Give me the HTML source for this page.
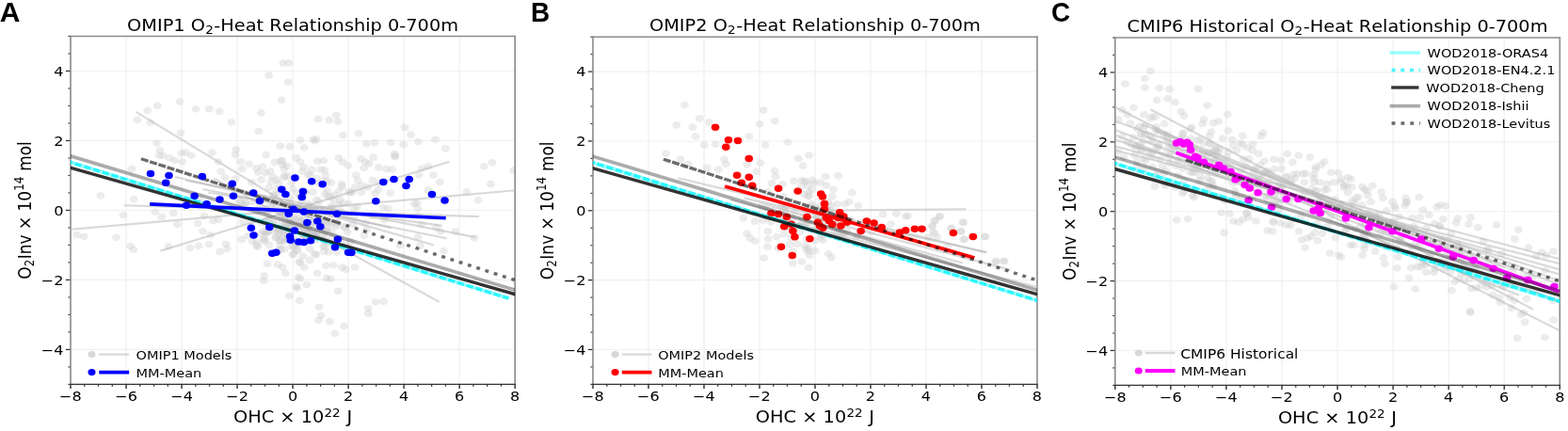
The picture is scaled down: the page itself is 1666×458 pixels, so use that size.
<!DOCTYPE html><html><head><meta charset="utf-8"><style>
html,body{margin:0;padding:0;background:#fff;width:1666px;height:458px;overflow:hidden}
#w{position:relative;width:1666px;height:458px}
svg{display:block}
.pl{position:absolute;font-family:"Liberation Sans",Arial,sans-serif;font-weight:bold;font-size:30.0px;line-height:1;color:#000;transform:scaleX(0.93);transform-origin:0 0}
</style></head><body><div id="w"><svg width="1666" height="458" preserveAspectRatio="none" viewBox="0 0 1033.89 323.99" version="1.1">
<defs>
<style type="text/css">*{stroke-linejoin: round; stroke-linecap: butt}</style>
</defs>
<g id="figure_1">
<g id="patch_1">
<path d="M 0 323.99 
L 1033.89 323.99 
L 1033.89 0 
L 0 0 
z
" style="fill: #ffffff"/>
</g>
<g id="axes_1">
<g id="patch_2">
<path d="M 46.54 288.90 
L 339.58 288.90 
L 339.58 27.23 
L 46.54 27.23 
z
" style="fill: #ffffff"/>
</g>
<g id="matplotlib.axis_1">
<g id="xtick_1">
<g id="line2d_1">
<path d="M 46.54 288.90 
L 46.54 27.23 
" clip-path="url(#p1c36a8804c)" style="fill: none; stroke: #f0f0f0; stroke-width: 0.8; stroke-linecap: square"/>
</g>
<g id="line2d_2">
<g>
<path d="M 46.54 288.91 L 46.54 292.11" style="fill: #333333; stroke: #333333; stroke-width: 0.9"/>
</g>
</g>
<g id="text_1">
<text style="font-size: 10px; font-family: 'DejaVu Sans', sans-serif; text-anchor: middle" x="46.54" y="301.70" transform="rotate(-0 46.54 301.70)">−8</text>
</g>
</g>
<g id="xtick_2">
<g id="line2d_3">
<path d="M 83.17 288.90 
L 83.17 27.23 
" clip-path="url(#p1c36a8804c)" style="fill: none; stroke: #f0f0f0; stroke-width: 0.8; stroke-linecap: square"/>
</g>
<g id="line2d_4">
<g>
<path d="M 83.17 288.91 L 83.17 292.11" style="fill: #333333; stroke: #333333; stroke-width: 0.9"/>
</g>
</g>
<g id="text_2">
<text style="font-size: 10px; font-family: 'DejaVu Sans', sans-serif; text-anchor: middle" x="83.17" y="301.70" transform="rotate(-0 83.17 301.70)">−6</text>
</g>
</g>
<g id="xtick_3">
<g id="line2d_5">
<path d="M 119.80 288.90 
L 119.80 27.23 
" clip-path="url(#p1c36a8804c)" style="fill: none; stroke: #f0f0f0; stroke-width: 0.8; stroke-linecap: square"/>
</g>
<g id="line2d_6">
<g>
<path d="M 119.8 288.91 L 119.8 292.11" style="fill: #333333; stroke: #333333; stroke-width: 0.9"/>
</g>
</g>
<g id="text_3">
<text style="font-size: 10px; font-family: 'DejaVu Sans', sans-serif; text-anchor: middle" x="119.80" y="301.70" transform="rotate(-0 119.80 301.70)">−4</text>
</g>
</g>
<g id="xtick_4">
<g id="line2d_7">
<path d="M 156.43 288.90 
L 156.43 27.23 
" clip-path="url(#p1c36a8804c)" style="fill: none; stroke: #f0f0f0; stroke-width: 0.8; stroke-linecap: square"/>
</g>
<g id="line2d_8">
<g>
<path d="M 156.43 288.91 L 156.43 292.11" style="fill: #333333; stroke: #333333; stroke-width: 0.9"/>
</g>
</g>
<g id="text_4">
<text style="font-size: 10px; font-family: 'DejaVu Sans', sans-serif; text-anchor: middle" x="156.43" y="301.70" transform="rotate(-0 156.43 301.70)">−2</text>
</g>
</g>
<g id="xtick_5">
<g id="line2d_9">
<path d="M 193.06 288.90 
L 193.06 27.23 
" clip-path="url(#p1c36a8804c)" style="fill: none; stroke: #f0f0f0; stroke-width: 0.8; stroke-linecap: square"/>
</g>
<g id="line2d_10">
<g>
<path d="M 193.06 288.91 L 193.06 292.11" style="fill: #333333; stroke: #333333; stroke-width: 0.9"/>
</g>
</g>
<g id="text_5">
<text style="font-size: 10px; font-family: 'DejaVu Sans', sans-serif; text-anchor: middle" x="193.06" y="301.70" transform="rotate(-0 193.06 301.70)">0</text>
</g>
</g>
<g id="xtick_6">
<g id="line2d_11">
<path d="M 229.69 288.90 
L 229.69 27.23 
" clip-path="url(#p1c36a8804c)" style="fill: none; stroke: #f0f0f0; stroke-width: 0.8; stroke-linecap: square"/>
</g>
<g id="line2d_12">
<g>
<path d="M 229.69 288.91 L 229.69 292.11" style="fill: #333333; stroke: #333333; stroke-width: 0.9"/>
</g>
</g>
<g id="text_6">
<text style="font-size: 10px; font-family: 'DejaVu Sans', sans-serif; text-anchor: middle" x="229.69" y="301.70" transform="rotate(-0 229.69 301.70)">2</text>
</g>
</g>
<g id="xtick_7">
<g id="line2d_13">
<path d="M 266.32 288.90 
L 266.32 27.23 
" clip-path="url(#p1c36a8804c)" style="fill: none; stroke: #f0f0f0; stroke-width: 0.8; stroke-linecap: square"/>
</g>
<g id="line2d_14">
<g>
<path d="M 266.32 288.91 L 266.32 292.11" style="fill: #333333; stroke: #333333; stroke-width: 0.9"/>
</g>
</g>
<g id="text_7">
<text style="font-size: 10px; font-family: 'DejaVu Sans', sans-serif; text-anchor: middle" x="266.32" y="301.70" transform="rotate(-0 266.32 301.70)">4</text>
</g>
</g>
<g id="xtick_8">
<g id="line2d_15">
<path d="M 302.95 288.90 
L 302.95 27.23 
" clip-path="url(#p1c36a8804c)" style="fill: none; stroke: #f0f0f0; stroke-width: 0.8; stroke-linecap: square"/>
</g>
<g id="line2d_16">
<g>
<path d="M 302.95 288.91 L 302.95 292.11" style="fill: #333333; stroke: #333333; stroke-width: 0.9"/>
</g>
</g>
<g id="text_8">
<text style="font-size: 10px; font-family: 'DejaVu Sans', sans-serif; text-anchor: middle" x="302.95" y="301.70" transform="rotate(-0 302.95 301.70)">6</text>
</g>
</g>
<g id="xtick_9">
<g id="line2d_17">
<path d="M 339.58 288.90 
L 339.58 27.23 
" clip-path="url(#p1c36a8804c)" style="fill: none; stroke: #f0f0f0; stroke-width: 0.8; stroke-linecap: square"/>
</g>
<g id="line2d_18">
<g>
<path d="M 339.58 288.91 L 339.58 292.11" style="fill: #333333; stroke: #333333; stroke-width: 0.9"/>
</g>
</g>
<g id="text_9">
<text style="font-size: 10px; font-family: 'DejaVu Sans', sans-serif; text-anchor: middle" x="339.58" y="301.70" transform="rotate(-0 339.58 301.70)">8</text>
</g>
</g>
<g id="xtick_10">
<g id="line2d_19">
<g>
<path d="M 55.7 288.91 L 55.7 290.51" style="fill: #333333; stroke: #333333; stroke-width: 0.8"/>
</g>
</g>
</g>
<g id="xtick_11">
<g id="line2d_20">
<g>
<path d="M 64.86 288.91 L 64.86 290.51" style="fill: #333333; stroke: #333333; stroke-width: 0.8"/>
</g>
</g>
</g>
<g id="xtick_12">
<g id="line2d_21">
<g>
<path d="M 74.02 288.91 L 74.02 290.51" style="fill: #333333; stroke: #333333; stroke-width: 0.8"/>
</g>
</g>
</g>
<g id="xtick_13">
<g id="line2d_22">
<g>
<path d="M 92.33 288.91 L 92.33 290.51" style="fill: #333333; stroke: #333333; stroke-width: 0.8"/>
</g>
</g>
</g>
<g id="xtick_14">
<g id="line2d_23">
<g>
<path d="M 101.49 288.91 L 101.49 290.51" style="fill: #333333; stroke: #333333; stroke-width: 0.8"/>
</g>
</g>
</g>
<g id="xtick_15">
<g id="line2d_24">
<g>
<path d="M 110.65 288.91 L 110.65 290.51" style="fill: #333333; stroke: #333333; stroke-width: 0.8"/>
</g>
</g>
</g>
<g id="xtick_16">
<g id="line2d_25">
<g>
<path d="M 128.96 288.91 L 128.96 290.51" style="fill: #333333; stroke: #333333; stroke-width: 0.8"/>
</g>
</g>
</g>
<g id="xtick_17">
<g id="line2d_26">
<g>
<path d="M 138.12 288.91 L 138.12 290.51" style="fill: #333333; stroke: #333333; stroke-width: 0.8"/>
</g>
</g>
</g>
<g id="xtick_18">
<g id="line2d_27">
<g>
<path d="M 147.28 288.91 L 147.28 290.51" style="fill: #333333; stroke: #333333; stroke-width: 0.8"/>
</g>
</g>
</g>
<g id="xtick_19">
<g id="line2d_28">
<g>
<path d="M 165.59 288.91 L 165.59 290.51" style="fill: #333333; stroke: #333333; stroke-width: 0.8"/>
</g>
</g>
</g>
<g id="xtick_20">
<g id="line2d_29">
<g>
<path d="M 174.75 288.91 L 174.75 290.51" style="fill: #333333; stroke: #333333; stroke-width: 0.8"/>
</g>
</g>
</g>
<g id="xtick_21">
<g id="line2d_30">
<g>
<path d="M 183.91 288.91 L 183.91 290.51" style="fill: #333333; stroke: #333333; stroke-width: 0.8"/>
</g>
</g>
</g>
<g id="xtick_22">
<g id="line2d_31">
<g>
<path d="M 202.22 288.91 L 202.22 290.51" style="fill: #333333; stroke: #333333; stroke-width: 0.8"/>
</g>
</g>
</g>
<g id="xtick_23">
<g id="line2d_32">
<g>
<path d="M 211.38 288.91 L 211.38 290.51" style="fill: #333333; stroke: #333333; stroke-width: 0.8"/>
</g>
</g>
</g>
<g id="xtick_24">
<g id="line2d_33">
<g>
<path d="M 220.54 288.91 L 220.54 290.51" style="fill: #333333; stroke: #333333; stroke-width: 0.8"/>
</g>
</g>
</g>
<g id="xtick_25">
<g id="line2d_34">
<g>
<path d="M 238.85 288.91 L 238.85 290.51" style="fill: #333333; stroke: #333333; stroke-width: 0.8"/>
</g>
</g>
</g>
<g id="xtick_26">
<g id="line2d_35">
<g>
<path d="M 248.01 288.91 L 248.01 290.51" style="fill: #333333; stroke: #333333; stroke-width: 0.8"/>
</g>
</g>
</g>
<g id="xtick_27">
<g id="line2d_36">
<g>
<path d="M 257.17 288.91 L 257.17 290.51" style="fill: #333333; stroke: #333333; stroke-width: 0.8"/>
</g>
</g>
</g>
<g id="xtick_28">
<g id="line2d_37">
<g>
<path d="M 275.48 288.91 L 275.48 290.51" style="fill: #333333; stroke: #333333; stroke-width: 0.8"/>
</g>
</g>
</g>
<g id="xtick_29">
<g id="line2d_38">
<g>
<path d="M 284.64 288.91 L 284.64 290.51" style="fill: #333333; stroke: #333333; stroke-width: 0.8"/>
</g>
</g>
</g>
<g id="xtick_30">
<g id="line2d_39">
<g>
<path d="M 293.8 288.91 L 293.8 290.51" style="fill: #333333; stroke: #333333; stroke-width: 0.8"/>
</g>
</g>
</g>
<g id="xtick_31">
<g id="line2d_40">
<g>
<path d="M 312.11 288.91 L 312.11 290.51" style="fill: #333333; stroke: #333333; stroke-width: 0.8"/>
</g>
</g>
</g>
<g id="xtick_32">
<g id="line2d_41">
<g>
<path d="M 321.27 288.91 L 321.27 290.51" style="fill: #333333; stroke: #333333; stroke-width: 0.8"/>
</g>
</g>
</g>
<g id="xtick_33">
<g id="line2d_42">
<g>
<path d="M 330.43 288.91 L 330.43 290.51" style="fill: #333333; stroke: #333333; stroke-width: 0.8"/>
</g>
</g>
</g>
<g id="text_10">
<g transform="translate(153.88 318.00)">
<text><tspan x="0 9.45 18.47 26.85 30.66 40.72 44.53 52.17" y="-0.17" style="font-size: 12px; font-family: 'DejaVu Sans', sans-serif">OHC × 10</tspan><tspan x="59.92 65.26" y="-4.77" style="font-size: 8.4px; font-family: 'DejaVu Sans', sans-serif">22</tspan><tspan x="70.93 74.75" y="-0.17" style="font-size: 12px; font-family: 'DejaVu Sans', sans-serif"> J</tspan></text>
</g>
</g>
</g>
<g id="matplotlib.axis_2">
<g id="ytick_1">
<g id="line2d_43">
<path d="M 46.54 262.73 
L 339.58 262.73 
" clip-path="url(#p1c36a8804c)" style="fill: none; stroke: #f0f0f0; stroke-width: 0.8; stroke-linecap: square"/>
</g>
<g id="line2d_44">
<g>
<path d="M 46.54 262.74 L 43.34 262.74" style="fill: #333333; stroke: #333333; stroke-width: 0.9"/>
</g>
</g>
<g id="text_11">
<text style="font-size: 10px; font-family: 'DejaVu Sans', sans-serif; text-anchor: end" x="41.84" y="266.53" transform="rotate(-0 41.84 266.53)">−4</text>
</g>
</g>
<g id="ytick_2">
<g id="line2d_45">
<path d="M 46.54 210.40 
L 339.58 210.40 
" clip-path="url(#p1c36a8804c)" style="fill: none; stroke: #f0f0f0; stroke-width: 0.8; stroke-linecap: square"/>
</g>
<g id="line2d_46">
<g>
<path d="M 46.54 210.4 L 43.34 210.4" style="fill: #333333; stroke: #333333; stroke-width: 0.9"/>
</g>
</g>
<g id="text_12">
<text style="font-size: 10px; font-family: 'DejaVu Sans', sans-serif; text-anchor: end" x="41.84" y="214.20" transform="rotate(-0 41.84 214.20)">−2</text>
</g>
</g>
<g id="ytick_3">
<g id="line2d_47">
<path d="M 46.54 158.07 
L 339.58 158.07 
" clip-path="url(#p1c36a8804c)" style="fill: none; stroke: #f0f0f0; stroke-width: 0.8; stroke-linecap: square"/>
</g>
<g id="line2d_48">
<g>
<path d="M 46.54 158.07 L 43.34 158.07" style="fill: #333333; stroke: #333333; stroke-width: 0.9"/>
</g>
</g>
<g id="text_13">
<text style="font-size: 10px; font-family: 'DejaVu Sans', sans-serif; text-anchor: end" x="41.84" y="161.86" transform="rotate(-0 41.84 161.86)">0</text>
</g>
</g>
<g id="ytick_4">
<g id="line2d_49">
<path d="M 46.54 105.73 
L 339.58 105.73 
" clip-path="url(#p1c36a8804c)" style="fill: none; stroke: #f0f0f0; stroke-width: 0.8; stroke-linecap: square"/>
</g>
<g id="line2d_50">
<g>
<path d="M 46.54 105.74 L 43.34 105.74" style="fill: #333333; stroke: #333333; stroke-width: 0.9"/>
</g>
</g>
<g id="text_14">
<text style="font-size: 10px; font-family: 'DejaVu Sans', sans-serif; text-anchor: end" x="41.84" y="109.53" transform="rotate(-0 41.84 109.53)">2</text>
</g>
</g>
<g id="ytick_5">
<g id="line2d_51">
<path d="M 46.54 53.40 
L 339.58 53.40 
" clip-path="url(#p1c36a8804c)" style="fill: none; stroke: #f0f0f0; stroke-width: 0.8; stroke-linecap: square"/>
</g>
<g id="line2d_52">
<g>
<path d="M 46.54 53.4 L 43.34 53.4" style="fill: #333333; stroke: #333333; stroke-width: 0.9"/>
</g>
</g>
<g id="text_15">
<text style="font-size: 10px; font-family: 'DejaVu Sans', sans-serif; text-anchor: end" x="41.84" y="57.20" transform="rotate(-0 41.84 57.20)">4</text>
</g>
</g>
<g id="ytick_6">
<g id="line2d_53">
<g>
<path d="M 46.54 288.91 L 44.94 288.91" style="fill: #333333; stroke: #333333; stroke-width: 0.8"/>
</g>
</g>
</g>
<g id="ytick_7">
<g id="line2d_54">
<g>
<path d="M 46.54 275.82 L 44.94 275.82" style="fill: #333333; stroke: #333333; stroke-width: 0.8"/>
</g>
</g>
</g>
<g id="ytick_8">
<g id="line2d_55">
<g>
<path d="M 46.54 249.65 L 44.94 249.65" style="fill: #333333; stroke: #333333; stroke-width: 0.8"/>
</g>
</g>
</g>
<g id="ytick_9">
<g id="line2d_56">
<g>
<path d="M 46.54 236.57 L 44.94 236.57" style="fill: #333333; stroke: #333333; stroke-width: 0.8"/>
</g>
</g>
</g>
<g id="ytick_10">
<g id="line2d_57">
<g>
<path d="M 46.54 223.49 L 44.94 223.49" style="fill: #333333; stroke: #333333; stroke-width: 0.8"/>
</g>
</g>
</g>
<g id="ytick_11">
<g id="line2d_58">
<g>
<path d="M 46.54 197.32 L 44.94 197.32" style="fill: #333333; stroke: #333333; stroke-width: 0.8"/>
</g>
</g>
</g>
<g id="ytick_12">
<g id="line2d_59">
<g>
<path d="M 46.54 184.24 L 44.94 184.24" style="fill: #333333; stroke: #333333; stroke-width: 0.8"/>
</g>
</g>
</g>
<g id="ytick_13">
<g id="line2d_60">
<g>
<path d="M 46.54 171.15 L 44.94 171.15" style="fill: #333333; stroke: #333333; stroke-width: 0.8"/>
</g>
</g>
</g>
<g id="ytick_14">
<g id="line2d_61">
<g>
<path d="M 46.54 144.99 L 44.94 144.99" style="fill: #333333; stroke: #333333; stroke-width: 0.8"/>
</g>
</g>
</g>
<g id="ytick_15">
<g id="line2d_62">
<g>
<path d="M 46.54 131.9 L 44.94 131.9" style="fill: #333333; stroke: #333333; stroke-width: 0.8"/>
</g>
</g>
</g>
<g id="ytick_16">
<g id="line2d_63">
<g>
<path d="M 46.54 118.82 L 44.94 118.82" style="fill: #333333; stroke: #333333; stroke-width: 0.8"/>
</g>
</g>
</g>
<g id="ytick_17">
<g id="line2d_64">
<g>
<path d="M 46.54 92.65 L 44.94 92.65" style="fill: #333333; stroke: #333333; stroke-width: 0.8"/>
</g>
</g>
</g>
<g id="ytick_18">
<g id="line2d_65">
<g>
<path d="M 46.54 79.57 L 44.94 79.57" style="fill: #333333; stroke: #333333; stroke-width: 0.8"/>
</g>
</g>
</g>
<g id="ytick_19">
<g id="line2d_66">
<g>
<path d="M 46.54 66.49 L 44.94 66.49" style="fill: #333333; stroke: #333333; stroke-width: 0.8"/>
</g>
</g>
</g>
<g id="ytick_20">
<g id="line2d_67">
<g>
<path d="M 46.54 40.32 L 44.94 40.32" style="fill: #333333; stroke: #333333; stroke-width: 0.8"/>
</g>
</g>
</g>
<g id="ytick_21">
<g id="line2d_68">
<g>
<path d="M 46.54 27.24 L 44.94 27.24" style="fill: #333333; stroke: #333333; stroke-width: 0.8"/>
</g>
</g>
</g>
<g id="text_16">
<g transform="translate(20.70 209.97) rotate(-90)">
<text><tspan x="0" y="-0.28" style="font-size: 12px; font-family: 'DejaVu Sans', sans-serif">O</tspan><tspan x="9.56" y="1.69" style="font-size: 8.4px; font-family: 'DejaVu Sans', sans-serif">2</tspan><tspan x="15.23 18.77 26.38 33.48 37.29 47.35 51.16 58.8" y="-0.28" style="font-size: 12px; font-family: 'DejaVu Sans', sans-serif">Inv × 10</tspan><tspan x="66.55 71.89" y="-4.88" style="font-size: 8.4px; font-family: 'DejaVu Sans', sans-serif">14</tspan><tspan x="77.56 81.38 93.07 100.41" y="-0.28" style="font-size: 12px; font-family: 'DejaVu Sans', sans-serif"> mol</tspan></text>
</g>
</g>
</g>
<g id="PathCollection_1">
<g clip-path="url(#p1c36a8804c)">
<circle cx="90.5" cy="90.04" r="2.74" style="fill: #cccccc; fill-opacity: 0.38"/>
</g>
<g clip-path="url(#p1c36a8804c)">
<circle cx="97.28" cy="83.23" r="2.74" style="fill: #cccccc; fill-opacity: 0.38"/>
</g>
<g clip-path="url(#p1c36a8804c)">
<circle cx="103.87" cy="79.57" r="2.74" style="fill: #cccccc; fill-opacity: 0.38"/>
</g>
<g clip-path="url(#p1c36a8804c)">
<circle cx="99.11" cy="92.13" r="2.74" style="fill: #cccccc; fill-opacity: 0.38"/>
</g>
<g clip-path="url(#p1c36a8804c)">
<circle cx="118.52" cy="76.43" r="2.74" style="fill: #cccccc; fill-opacity: 0.38"/>
</g>
<g clip-path="url(#p1c36a8804c)">
<circle cx="129.14" cy="81.92" r="2.74" style="fill: #cccccc; fill-opacity: 0.38"/>
</g>
<g clip-path="url(#p1c36a8804c)">
<circle cx="137.94" cy="81.92" r="2.74" style="fill: #cccccc; fill-opacity: 0.38"/>
</g>
<g clip-path="url(#p1c36a8804c)">
<circle cx="144.71" cy="83.76" r="2.74" style="fill: #cccccc; fill-opacity: 0.38"/>
</g>
<g clip-path="url(#p1c36a8804c)">
<circle cx="119.25" cy="99.98" r="2.74" style="fill: #cccccc; fill-opacity: 0.38"/>
</g>
<g clip-path="url(#p1c36a8804c)">
<circle cx="103.32" cy="107.57" r="2.74" style="fill: #cccccc; fill-opacity: 0.38"/>
</g>
<g clip-path="url(#p1c36a8804c)">
<circle cx="105.52" cy="113.06" r="2.74" style="fill: #cccccc; fill-opacity: 0.38"/>
</g>
<g clip-path="url(#p1c36a8804c)">
<circle cx="119.62" cy="115.16" r="2.74" style="fill: #cccccc; fill-opacity: 0.38"/>
</g>
<g clip-path="url(#p1c36a8804c)">
<circle cx="122.18" cy="114.63" r="2.74" style="fill: #cccccc; fill-opacity: 0.38"/>
</g>
<g clip-path="url(#p1c36a8804c)">
<circle cx="139.95" cy="114.63" r="2.74" style="fill: #cccccc; fill-opacity: 0.38"/>
</g>
<g clip-path="url(#p1c36a8804c)">
<circle cx="186.65" cy="47.38" r="2.74" style="fill: #cccccc; fill-opacity: 0.38"/>
</g>
<g clip-path="url(#p1c36a8804c)">
<circle cx="190.32" cy="47.38" r="2.74" style="fill: #cccccc; fill-opacity: 0.38"/>
</g>
<g clip-path="url(#p1c36a8804c)">
<circle cx="177.31" cy="56.54" r="2.74" style="fill: #cccccc; fill-opacity: 0.38"/>
</g>
<g clip-path="url(#p1c36a8804c)">
<circle cx="189.95" cy="61.78" r="2.74" style="fill: #cccccc; fill-opacity: 0.38"/>
</g>
<g clip-path="url(#p1c36a8804c)">
<circle cx="185.55" cy="75.12" r="2.74" style="fill: #cccccc; fill-opacity: 0.38"/>
</g>
<g clip-path="url(#p1c36a8804c)">
<circle cx="172.18" cy="84.8" r="2.74" style="fill: #cccccc; fill-opacity: 0.38"/>
</g>
<g clip-path="url(#p1c36a8804c)">
<circle cx="152.59" cy="91.87" r="2.74" style="fill: #cccccc; fill-opacity: 0.38"/>
</g>
<g clip-path="url(#p1c36a8804c)">
<circle cx="170.54" cy="98.67" r="2.74" style="fill: #cccccc; fill-opacity: 0.38"/>
</g>
<g clip-path="url(#p1c36a8804c)">
<circle cx="209.91" cy="89.51" r="2.74" style="fill: #cccccc; fill-opacity: 0.38"/>
</g>
<g clip-path="url(#p1c36a8804c)">
<circle cx="217.06" cy="90.3" r="2.74" style="fill: #cccccc; fill-opacity: 0.38"/>
</g>
<g clip-path="url(#p1c36a8804c)">
<circle cx="221.82" cy="86.63" r="2.74" style="fill: #cccccc; fill-opacity: 0.38"/>
</g>
<g clip-path="url(#p1c36a8804c)">
<circle cx="222.73" cy="91.34" r="2.74" style="fill: #cccccc; fill-opacity: 0.38"/>
</g>
<g clip-path="url(#p1c36a8804c)">
<circle cx="236.47" cy="100.24" r="2.74" style="fill: #cccccc; fill-opacity: 0.38"/>
</g>
<g clip-path="url(#p1c36a8804c)">
<circle cx="198.01" cy="105.47" r="2.74" style="fill: #cccccc; fill-opacity: 0.38"/>
</g>
<g clip-path="url(#p1c36a8804c)">
<circle cx="206.43" cy="104.95" r="2.74" style="fill: #cccccc; fill-opacity: 0.38"/>
</g>
<g clip-path="url(#p1c36a8804c)">
<circle cx="208.63" cy="104.43" r="2.74" style="fill: #cccccc; fill-opacity: 0.38"/>
</g>
<g clip-path="url(#p1c36a8804c)">
<circle cx="207.72" cy="106" r="2.74" style="fill: #cccccc; fill-opacity: 0.38"/>
</g>
<g clip-path="url(#p1c36a8804c)">
<circle cx="191.05" cy="110.18" r="2.74" style="fill: #cccccc; fill-opacity: 0.38"/>
</g>
<g clip-path="url(#p1c36a8804c)">
<circle cx="200.57" cy="110.97" r="2.74" style="fill: #cccccc; fill-opacity: 0.38"/>
</g>
<g clip-path="url(#p1c36a8804c)">
<circle cx="155.52" cy="112.54" r="2.74" style="fill: #cccccc; fill-opacity: 0.38"/>
</g>
<g clip-path="url(#p1c36a8804c)">
<circle cx="246.91" cy="107.31" r="2.74" style="fill: #cccccc; fill-opacity: 0.38"/>
</g>
<g clip-path="url(#p1c36a8804c)">
<circle cx="257.72" cy="107.04" r="2.74" style="fill: #cccccc; fill-opacity: 0.38"/>
</g>
<g clip-path="url(#p1c36a8804c)">
<circle cx="265.96" cy="108.61" r="2.74" style="fill: #cccccc; fill-opacity: 0.38"/>
</g>
<g clip-path="url(#p1c36a8804c)">
<circle cx="270.9" cy="101.29" r="2.74" style="fill: #cccccc; fill-opacity: 0.38"/>
</g>
<g clip-path="url(#p1c36a8804c)">
<circle cx="275.66" cy="106.52" r="2.74" style="fill: #cccccc; fill-opacity: 0.38"/>
</g>
<g clip-path="url(#p1c36a8804c)">
<circle cx="287.02" cy="104.95" r="2.74" style="fill: #cccccc; fill-opacity: 0.38"/>
</g>
<g clip-path="url(#p1c36a8804c)">
<circle cx="293.8" cy="111.75" r="2.74" style="fill: #cccccc; fill-opacity: 0.38"/>
</g>
<g clip-path="url(#p1c36a8804c)">
<circle cx="66.32" cy="147.08" r="2.74" style="fill: #cccccc; fill-opacity: 0.38"/>
</g>
<g clip-path="url(#p1c36a8804c)">
<circle cx="88.12" cy="149.7" r="2.74" style="fill: #cccccc; fill-opacity: 0.38"/>
</g>
<g clip-path="url(#p1c36a8804c)">
<circle cx="86.84" cy="126.93" r="2.74" style="fill: #cccccc; fill-opacity: 0.38"/>
</g>
<g clip-path="url(#p1c36a8804c)">
<circle cx="81.16" cy="161.73" r="2.74" style="fill: #cccccc; fill-opacity: 0.38"/>
</g>
<g clip-path="url(#p1c36a8804c)">
<circle cx="102.4" cy="159.38" r="2.74" style="fill: #cccccc; fill-opacity: 0.38"/>
</g>
<g clip-path="url(#p1c36a8804c)">
<circle cx="106.62" cy="163.04" r="2.74" style="fill: #cccccc; fill-opacity: 0.38"/>
</g>
<g clip-path="url(#p1c36a8804c)">
<circle cx="114.31" cy="160.16" r="2.74" style="fill: #cccccc; fill-opacity: 0.38"/>
</g>
<g clip-path="url(#p1c36a8804c)">
<circle cx="116.87" cy="168.8" r="2.74" style="fill: #cccccc; fill-opacity: 0.38"/>
</g>
<g clip-path="url(#p1c36a8804c)">
<circle cx="130.43" cy="168.01" r="2.74" style="fill: #cccccc; fill-opacity: 0.38"/>
</g>
<g clip-path="url(#p1c36a8804c)">
<circle cx="133.72" cy="173.77" r="2.74" style="fill: #cccccc; fill-opacity: 0.38"/>
</g>
<g clip-path="url(#p1c36a8804c)">
<circle cx="138.85" cy="176.65" r="2.74" style="fill: #cccccc; fill-opacity: 0.38"/>
</g>
<g clip-path="url(#p1c36a8804c)">
<circle cx="50.76" cy="176.65" r="2.74" style="fill: #cccccc; fill-opacity: 0.38"/>
</g>
<g clip-path="url(#p1c36a8804c)">
<circle cx="55.33" cy="177.96" r="2.74" style="fill: #cccccc; fill-opacity: 0.38"/>
</g>
<g clip-path="url(#p1c36a8804c)">
<circle cx="76.76" cy="178.48" r="2.74" style="fill: #cccccc; fill-opacity: 0.38"/>
</g>
<g clip-path="url(#p1c36a8804c)">
<circle cx="85.92" cy="185.02" r="2.74" style="fill: #cccccc; fill-opacity: 0.38"/>
</g>
<g clip-path="url(#p1c36a8804c)">
<circle cx="88.12" cy="187.64" r="2.74" style="fill: #cccccc; fill-opacity: 0.38"/>
</g>
<g clip-path="url(#p1c36a8804c)">
<circle cx="111.01" cy="185.28" r="2.74" style="fill: #cccccc; fill-opacity: 0.38"/>
</g>
<g clip-path="url(#p1c36a8804c)">
<circle cx="125.3" cy="186.33" r="2.74" style="fill: #cccccc; fill-opacity: 0.38"/>
</g>
<g clip-path="url(#p1c36a8804c)">
<circle cx="130.98" cy="184.76" r="2.74" style="fill: #cccccc; fill-opacity: 0.38"/>
</g>
<g clip-path="url(#p1c36a8804c)">
<circle cx="137.75" cy="183.71" r="2.74" style="fill: #cccccc; fill-opacity: 0.38"/>
</g>
<g clip-path="url(#p1c36a8804c)">
<circle cx="144.89" cy="189.21" r="2.74" style="fill: #cccccc; fill-opacity: 0.38"/>
</g>
<g clip-path="url(#p1c36a8804c)">
<circle cx="104.97" cy="116.73" r="2.74" style="fill: #cccccc; fill-opacity: 0.38"/>
</g>
<g clip-path="url(#p1c36a8804c)">
<circle cx="107.53" cy="117.25" r="2.74" style="fill: #cccccc; fill-opacity: 0.38"/>
</g>
<g clip-path="url(#p1c36a8804c)">
<circle cx="111.74" cy="118.82" r="2.74" style="fill: #cccccc; fill-opacity: 0.38"/>
</g>
<g clip-path="url(#p1c36a8804c)">
<circle cx="115.22" cy="120.65" r="2.74" style="fill: #cccccc; fill-opacity: 0.38"/>
</g>
<g clip-path="url(#p1c36a8804c)">
<circle cx="120.17" cy="121.7" r="2.74" style="fill: #cccccc; fill-opacity: 0.38"/>
</g>
<g clip-path="url(#p1c36a8804c)">
<circle cx="126.21" cy="116.73" r="2.74" style="fill: #cccccc; fill-opacity: 0.38"/>
</g>
<g clip-path="url(#p1c36a8804c)">
<circle cx="143.98" cy="121.7" r="2.74" style="fill: #cccccc; fill-opacity: 0.38"/>
</g>
<g clip-path="url(#p1c36a8804c)">
<circle cx="134.64" cy="162.26" r="2.74" style="fill: #cccccc; fill-opacity: 0.38"/>
</g>
<g clip-path="url(#p1c36a8804c)">
<circle cx="140.5" cy="165.92" r="2.74" style="fill: #cccccc; fill-opacity: 0.38"/>
</g>
<g clip-path="url(#p1c36a8804c)">
<circle cx="143.98" cy="165.14" r="2.74" style="fill: #cccccc; fill-opacity: 0.38"/>
</g>
<g clip-path="url(#p1c36a8804c)">
<circle cx="148.92" cy="183.45" r="2.74" style="fill: #cccccc; fill-opacity: 0.38"/>
</g>
<g clip-path="url(#p1c36a8804c)">
<circle cx="169.99" cy="185.55" r="2.74" style="fill: #cccccc; fill-opacity: 0.38"/>
</g>
<g clip-path="url(#p1c36a8804c)">
<circle cx="176.21" cy="198.37" r="2.74" style="fill: #cccccc; fill-opacity: 0.38"/>
</g>
<g clip-path="url(#p1c36a8804c)">
<circle cx="173.83" cy="210.93" r="2.74" style="fill: #cccccc; fill-opacity: 0.38"/>
</g>
<g clip-path="url(#p1c36a8804c)">
<circle cx="174.2" cy="207.26" r="2.74" style="fill: #cccccc; fill-opacity: 0.38"/>
</g>
<g clip-path="url(#p1c36a8804c)">
<circle cx="188.3" cy="205.43" r="2.74" style="fill: #cccccc; fill-opacity: 0.38"/>
</g>
<g clip-path="url(#p1c36a8804c)">
<circle cx="186.29" cy="200.98" r="2.74" style="fill: #cccccc; fill-opacity: 0.38"/>
</g>
<g clip-path="url(#p1c36a8804c)">
<circle cx="190.68" cy="222.44" r="2.74" style="fill: #cccccc; fill-opacity: 0.38"/>
</g>
<g clip-path="url(#p1c36a8804c)">
<circle cx="195.44" cy="188.42" r="2.74" style="fill: #cccccc; fill-opacity: 0.38"/>
</g>
<g clip-path="url(#p1c36a8804c)">
<circle cx="197.46" cy="196.8" r="2.74" style="fill: #cccccc; fill-opacity: 0.38"/>
</g>
<g clip-path="url(#p1c36a8804c)">
<circle cx="200.57" cy="200.98" r="2.74" style="fill: #cccccc; fill-opacity: 0.38"/>
</g>
<g clip-path="url(#p1c36a8804c)">
<circle cx="196.73" cy="208.31" r="2.74" style="fill: #cccccc; fill-opacity: 0.38"/>
</g>
<g clip-path="url(#p1c36a8804c)">
<circle cx="198.01" cy="209.62" r="2.74" style="fill: #cccccc; fill-opacity: 0.38"/>
</g>
<g clip-path="url(#p1c36a8804c)">
<circle cx="195.44" cy="215.38" r="2.74" style="fill: #cccccc; fill-opacity: 0.38"/>
</g>
<g clip-path="url(#p1c36a8804c)">
<circle cx="195.99" cy="216.68" r="2.74" style="fill: #cccccc; fill-opacity: 0.38"/>
</g>
<g clip-path="url(#p1c36a8804c)">
<circle cx="197.46" cy="225.84" r="2.74" style="fill: #cccccc; fill-opacity: 0.38"/>
</g>
<g clip-path="url(#p1c36a8804c)">
<circle cx="210.46" cy="230.81" r="2.74" style="fill: #cccccc; fill-opacity: 0.38"/>
</g>
<g clip-path="url(#p1c36a8804c)">
<circle cx="211.74" cy="237.36" r="2.74" style="fill: #cccccc; fill-opacity: 0.38"/>
</g>
<g clip-path="url(#p1c36a8804c)">
<circle cx="209.91" cy="240.76" r="2.74" style="fill: #cccccc; fill-opacity: 0.38"/>
</g>
<g clip-path="url(#p1c36a8804c)">
<circle cx="217.42" cy="241.54" r="2.74" style="fill: #cccccc; fill-opacity: 0.38"/>
</g>
<g clip-path="url(#p1c36a8804c)">
<circle cx="226.76" cy="245.21" r="2.74" style="fill: #cccccc; fill-opacity: 0.38"/>
</g>
<g clip-path="url(#p1c36a8804c)">
<circle cx="220.9" cy="250.7" r="2.74" style="fill: #cccccc; fill-opacity: 0.38"/>
</g>
<g clip-path="url(#p1c36a8804c)">
<circle cx="222.92" cy="218.78" r="2.74" style="fill: #cccccc; fill-opacity: 0.38"/>
</g>
<g clip-path="url(#p1c36a8804c)">
<circle cx="215.04" cy="199.68" r="2.74" style="fill: #cccccc; fill-opacity: 0.38"/>
</g>
<g clip-path="url(#p1c36a8804c)">
<circle cx="209.18" cy="205.43" r="2.74" style="fill: #cccccc; fill-opacity: 0.38"/>
</g>
<g clip-path="url(#p1c36a8804c)">
<circle cx="215.41" cy="209.1" r="2.74" style="fill: #cccccc; fill-opacity: 0.38"/>
</g>
<g clip-path="url(#p1c36a8804c)">
<circle cx="217.97" cy="209.62" r="2.74" style="fill: #cccccc; fill-opacity: 0.38"/>
</g>
<g clip-path="url(#p1c36a8804c)">
<circle cx="225.48" cy="200.98" r="2.74" style="fill: #cccccc; fill-opacity: 0.38"/>
</g>
<g clip-path="url(#p1c36a8804c)">
<circle cx="227.86" cy="202.55" r="2.74" style="fill: #cccccc; fill-opacity: 0.38"/>
</g>
<g clip-path="url(#p1c36a8804c)">
<circle cx="234.09" cy="200.98" r="2.74" style="fill: #cccccc; fill-opacity: 0.38"/>
</g>
<g clip-path="url(#p1c36a8804c)">
<circle cx="242.88" cy="231.86" r="2.74" style="fill: #cccccc; fill-opacity: 0.38"/>
</g>
<g clip-path="url(#p1c36a8804c)">
<circle cx="242.88" cy="235.79" r="2.74" style="fill: #cccccc; fill-opacity: 0.38"/>
</g>
<g clip-path="url(#p1c36a8804c)">
<circle cx="247.82" cy="227.15" r="2.74" style="fill: #cccccc; fill-opacity: 0.38"/>
</g>
<g clip-path="url(#p1c36a8804c)">
<circle cx="252.95" cy="226.63" r="2.74" style="fill: #cccccc; fill-opacity: 0.38"/>
</g>
<g clip-path="url(#p1c36a8804c)">
<circle cx="312.84" cy="179" r="2.74" style="fill: #cccccc; fill-opacity: 0.38"/>
</g>
<g clip-path="url(#p1c36a8804c)">
<circle cx="300.21" cy="174.03" r="2.74" style="fill: #cccccc; fill-opacity: 0.38"/>
</g>
<g clip-path="url(#p1c36a8804c)">
<circle cx="290.32" cy="174.03" r="2.74" style="fill: #cccccc; fill-opacity: 0.38"/>
</g>
<g clip-path="url(#p1c36a8804c)">
<circle cx="277.86" cy="168.54" r="2.74" style="fill: #cccccc; fill-opacity: 0.38"/>
</g>
<g clip-path="url(#p1c36a8804c)">
<circle cx="287.75" cy="171.15" r="2.74" style="fill: #cccccc; fill-opacity: 0.38"/>
</g>
<g clip-path="url(#p1c36a8804c)">
<circle cx="155.15" cy="116.2" r="2.74" style="fill: #cccccc; fill-opacity: 0.38"/>
</g>
<g clip-path="url(#p1c36a8804c)">
<circle cx="175.48" cy="116.46" r="2.74" style="fill: #cccccc; fill-opacity: 0.38"/>
</g>
<g clip-path="url(#p1c36a8804c)">
<circle cx="158.81" cy="121.44" r="2.74" style="fill: #cccccc; fill-opacity: 0.38"/>
</g>
<g clip-path="url(#p1c36a8804c)">
<circle cx="164.31" cy="123.27" r="2.74" style="fill: #cccccc; fill-opacity: 0.38"/>
</g>
<g clip-path="url(#p1c36a8804c)">
<circle cx="159.73" cy="126.93" r="2.74" style="fill: #cccccc; fill-opacity: 0.38"/>
</g>
<g clip-path="url(#p1c36a8804c)">
<circle cx="169.07" cy="126.41" r="2.74" style="fill: #cccccc; fill-opacity: 0.38"/>
</g>
<g clip-path="url(#p1c36a8804c)">
<circle cx="173.1" cy="125.36" r="2.74" style="fill: #cccccc; fill-opacity: 0.38"/>
</g>
<g clip-path="url(#p1c36a8804c)">
<circle cx="170.17" cy="129.55" r="2.74" style="fill: #cccccc; fill-opacity: 0.38"/>
</g>
<g clip-path="url(#p1c36a8804c)">
<circle cx="174.93" cy="130.07" r="2.74" style="fill: #cccccc; fill-opacity: 0.38"/>
</g>
<g clip-path="url(#p1c36a8804c)">
<circle cx="181.16" cy="121.96" r="2.74" style="fill: #cccccc; fill-opacity: 0.38"/>
</g>
<g clip-path="url(#p1c36a8804c)">
<circle cx="185" cy="120.91" r="2.74" style="fill: #cccccc; fill-opacity: 0.38"/>
</g>
<g clip-path="url(#p1c36a8804c)">
<circle cx="186.29" cy="123.79" r="2.74" style="fill: #cccccc; fill-opacity: 0.38"/>
</g>
<g clip-path="url(#p1c36a8804c)">
<circle cx="189.22" cy="124.84" r="2.74" style="fill: #cccccc; fill-opacity: 0.38"/>
</g>
<g clip-path="url(#p1c36a8804c)">
<circle cx="187.39" cy="126.93" r="2.74" style="fill: #cccccc; fill-opacity: 0.38"/>
</g>
<g clip-path="url(#p1c36a8804c)">
<circle cx="145.63" cy="129.02" r="2.74" style="fill: #cccccc; fill-opacity: 0.38"/>
</g>
<g clip-path="url(#p1c36a8804c)">
<circle cx="148.37" cy="133.47" r="2.74" style="fill: #cccccc; fill-opacity: 0.38"/>
</g>
<g clip-path="url(#p1c36a8804c)">
<circle cx="155.15" cy="134.52" r="2.74" style="fill: #cccccc; fill-opacity: 0.38"/>
</g>
<g clip-path="url(#p1c36a8804c)">
<circle cx="165.96" cy="137.14" r="2.74" style="fill: #cccccc; fill-opacity: 0.38"/>
</g>
<g clip-path="url(#p1c36a8804c)">
<circle cx="172.18" cy="135.04" r="2.74" style="fill: #cccccc; fill-opacity: 0.38"/>
</g>
<g clip-path="url(#p1c36a8804c)">
<circle cx="179.69" cy="132.95" r="2.74" style="fill: #cccccc; fill-opacity: 0.38"/>
</g>
<g clip-path="url(#p1c36a8804c)">
<circle cx="178.78" cy="136.61" r="2.74" style="fill: #cccccc; fill-opacity: 0.38"/>
</g>
<g clip-path="url(#p1c36a8804c)">
<circle cx="182.62" cy="135.04" r="2.74" style="fill: #cccccc; fill-opacity: 0.38"/>
</g>
<g clip-path="url(#p1c36a8804c)">
<circle cx="187.39" cy="133.47" r="2.74" style="fill: #cccccc; fill-opacity: 0.38"/>
</g>
<g clip-path="url(#p1c36a8804c)">
<circle cx="190.13" cy="132.43" r="2.74" style="fill: #cccccc; fill-opacity: 0.38"/>
</g>
<g clip-path="url(#p1c36a8804c)">
<circle cx="192.15" cy="137.66" r="2.74" style="fill: #cccccc; fill-opacity: 0.38"/>
</g>
<g clip-path="url(#p1c36a8804c)">
<circle cx="177.31" cy="141.06" r="2.74" style="fill: #cccccc; fill-opacity: 0.38"/>
</g>
<g clip-path="url(#p1c36a8804c)">
<circle cx="182.62" cy="142.11" r="2.74" style="fill: #cccccc; fill-opacity: 0.38"/>
</g>
<g clip-path="url(#p1c36a8804c)">
<circle cx="193.06" cy="142.11" r="2.74" style="fill: #cccccc; fill-opacity: 0.38"/>
</g>
<g clip-path="url(#p1c36a8804c)">
<circle cx="161.74" cy="152.31" r="2.74" style="fill: #cccccc; fill-opacity: 0.38"/>
</g>
<g clip-path="url(#p1c36a8804c)">
<circle cx="166.51" cy="151.79" r="2.74" style="fill: #cccccc; fill-opacity: 0.38"/>
</g>
<g clip-path="url(#p1c36a8804c)">
<circle cx="171.27" cy="154.93" r="2.74" style="fill: #cccccc; fill-opacity: 0.38"/>
</g>
<g clip-path="url(#p1c36a8804c)">
<circle cx="176.03" cy="156.24" r="2.74" style="fill: #cccccc; fill-opacity: 0.38"/>
</g>
<g clip-path="url(#p1c36a8804c)">
<circle cx="180.61" cy="152.84" r="2.74" style="fill: #cccccc; fill-opacity: 0.38"/>
</g>
<g clip-path="url(#p1c36a8804c)">
<circle cx="185.37" cy="154.93" r="2.74" style="fill: #cccccc; fill-opacity: 0.38"/>
</g>
<g clip-path="url(#p1c36a8804c)">
<circle cx="260.65" cy="117.25" r="2.74" style="fill: #cccccc; fill-opacity: 0.38"/>
</g>
<g clip-path="url(#p1c36a8804c)">
<circle cx="245.99" cy="118.3" r="2.74" style="fill: #cccccc; fill-opacity: 0.38"/>
</g>
<g clip-path="url(#p1c36a8804c)">
<circle cx="237.93" cy="119.34" r="2.74" style="fill: #cccccc; fill-opacity: 0.38"/>
</g>
<g clip-path="url(#p1c36a8804c)">
<circle cx="223.28" cy="118.82" r="2.74" style="fill: #cccccc; fill-opacity: 0.38"/>
</g>
<g clip-path="url(#p1c36a8804c)">
<circle cx="225.85" cy="121.7" r="2.74" style="fill: #cccccc; fill-opacity: 0.38"/>
</g>
<g clip-path="url(#p1c36a8804c)">
<circle cx="209.36" cy="121.17" r="2.74" style="fill: #cccccc; fill-opacity: 0.38"/>
</g>
<g clip-path="url(#p1c36a8804c)">
<circle cx="195.44" cy="118.82" r="2.74" style="fill: #cccccc; fill-opacity: 0.38"/>
</g>
<g clip-path="url(#p1c36a8804c)">
<circle cx="198.01" cy="121.7" r="2.74" style="fill: #cccccc; fill-opacity: 0.38"/>
</g>
<g clip-path="url(#p1c36a8804c)">
<circle cx="229.51" cy="124.58" r="2.74" style="fill: #cccccc; fill-opacity: 0.38"/>
</g>
<g clip-path="url(#p1c36a8804c)">
<circle cx="240.87" cy="121.7" r="2.74" style="fill: #cccccc; fill-opacity: 0.38"/>
</g>
<g clip-path="url(#p1c36a8804c)">
<circle cx="243.43" cy="123.01" r="2.74" style="fill: #cccccc; fill-opacity: 0.38"/>
</g>
<g clip-path="url(#p1c36a8804c)">
<circle cx="249.66" cy="125.88" r="2.74" style="fill: #cccccc; fill-opacity: 0.38"/>
</g>
<g clip-path="url(#p1c36a8804c)">
<circle cx="254.78" cy="126.93" r="2.74" style="fill: #cccccc; fill-opacity: 0.38"/>
</g>
<g clip-path="url(#p1c36a8804c)">
<circle cx="258.63" cy="127.45" r="2.74" style="fill: #cccccc; fill-opacity: 0.38"/>
</g>
<g clip-path="url(#p1c36a8804c)">
<circle cx="282.44" cy="125.1" r="2.74" style="fill: #cccccc; fill-opacity: 0.38"/>
</g>
<g clip-path="url(#p1c36a8804c)">
<circle cx="285.74" cy="131.64" r="2.74" style="fill: #cccccc; fill-opacity: 0.38"/>
</g>
<g clip-path="url(#p1c36a8804c)">
<circle cx="290.13" cy="136.88" r="2.74" style="fill: #cccccc; fill-opacity: 0.38"/>
</g>
<g clip-path="url(#p1c36a8804c)">
<circle cx="276.21" cy="131.64" r="2.74" style="fill: #cccccc; fill-opacity: 0.38"/>
</g>
<g clip-path="url(#p1c36a8804c)">
<circle cx="319.07" cy="125.1" r="2.74" style="fill: #cccccc; fill-opacity: 0.38"/>
</g>
<g clip-path="url(#p1c36a8804c)">
<circle cx="324.56" cy="122.22" r="2.74" style="fill: #cccccc; fill-opacity: 0.38"/>
</g>
<g clip-path="url(#p1c36a8804c)">
<circle cx="338.67" cy="127.98" r="2.74" style="fill: #cccccc; fill-opacity: 0.38"/>
</g>
<g clip-path="url(#p1c36a8804c)">
<circle cx="323.65" cy="138.45" r="2.74" style="fill: #cccccc; fill-opacity: 0.38"/>
</g>
<g clip-path="url(#p1c36a8804c)">
<circle cx="307.71" cy="144.2" r="2.74" style="fill: #cccccc; fill-opacity: 0.38"/>
</g>
<g clip-path="url(#p1c36a8804c)">
<circle cx="315.22" cy="150.48" r="2.74" style="fill: #cccccc; fill-opacity: 0.38"/>
</g>
<g clip-path="url(#p1c36a8804c)">
<circle cx="234.64" cy="131.64" r="2.74" style="fill: #cccccc; fill-opacity: 0.38"/>
</g>
<g clip-path="url(#p1c36a8804c)">
<circle cx="235.92" cy="135.57" r="2.74" style="fill: #cccccc; fill-opacity: 0.38"/>
</g>
<g clip-path="url(#p1c36a8804c)">
<circle cx="232.07" cy="144.73" r="2.74" style="fill: #cccccc; fill-opacity: 0.38"/>
</g>
<g clip-path="url(#p1c36a8804c)">
<circle cx="218.15" cy="137.4" r="2.74" style="fill: #cccccc; fill-opacity: 0.38"/>
</g>
<g clip-path="url(#p1c36a8804c)">
<circle cx="215.77" cy="143.16" r="2.74" style="fill: #cccccc; fill-opacity: 0.38"/>
</g>
<g clip-path="url(#p1c36a8804c)">
<circle cx="238.3" cy="144.73" r="2.74" style="fill: #cccccc; fill-opacity: 0.38"/>
</g>
<g clip-path="url(#p1c36a8804c)">
<circle cx="247.28" cy="145.25" r="2.74" style="fill: #cccccc; fill-opacity: 0.38"/>
</g>
<g clip-path="url(#p1c36a8804c)">
<circle cx="257.35" cy="145.25" r="2.74" style="fill: #cccccc; fill-opacity: 0.38"/>
</g>
<g clip-path="url(#p1c36a8804c)">
<circle cx="205.52" cy="127.45" r="2.74" style="fill: #cccccc; fill-opacity: 0.38"/>
</g>
<g clip-path="url(#p1c36a8804c)">
<circle cx="204.42" cy="131.64" r="2.74" style="fill: #cccccc; fill-opacity: 0.38"/>
</g>
<g clip-path="url(#p1c36a8804c)">
<circle cx="199.29" cy="128.76" r="2.74" style="fill: #cccccc; fill-opacity: 0.38"/>
</g>
<g clip-path="url(#p1c36a8804c)">
<circle cx="200.41" cy="179.4" r="2.74" style="fill: #cccccc; fill-opacity: 0.38"/>
</g>
<g clip-path="url(#p1c36a8804c)">
<circle cx="206.41" cy="156.02" r="2.74" style="fill: #cccccc; fill-opacity: 0.38"/>
</g>
<g clip-path="url(#p1c36a8804c)">
<circle cx="194.87" cy="165.34" r="2.74" style="fill: #cccccc; fill-opacity: 0.38"/>
</g>
<g clip-path="url(#p1c36a8804c)">
<circle cx="182.45" cy="189.35" r="2.74" style="fill: #cccccc; fill-opacity: 0.38"/>
</g>
<g clip-path="url(#p1c36a8804c)">
<circle cx="191.23" cy="149.25" r="2.74" style="fill: #cccccc; fill-opacity: 0.38"/>
</g>
<g clip-path="url(#p1c36a8804c)">
<circle cx="180.41" cy="146.48" r="2.74" style="fill: #cccccc; fill-opacity: 0.38"/>
</g>
<g clip-path="url(#p1c36a8804c)">
<circle cx="201.6" cy="168.18" r="2.74" style="fill: #cccccc; fill-opacity: 0.38"/>
</g>
<g clip-path="url(#p1c36a8804c)">
<circle cx="227.39" cy="171.17" r="2.74" style="fill: #cccccc; fill-opacity: 0.38"/>
</g>
<g clip-path="url(#p1c36a8804c)">
<circle cx="190.47" cy="169.53" r="2.74" style="fill: #cccccc; fill-opacity: 0.38"/>
</g>
<g clip-path="url(#p1c36a8804c)">
<circle cx="187.89" cy="181.26" r="2.74" style="fill: #cccccc; fill-opacity: 0.38"/>
</g>
<g clip-path="url(#p1c36a8804c)">
<circle cx="210.26" cy="151.42" r="2.74" style="fill: #cccccc; fill-opacity: 0.38"/>
</g>
<g clip-path="url(#p1c36a8804c)">
<circle cx="207.58" cy="175.04" r="2.74" style="fill: #cccccc; fill-opacity: 0.38"/>
</g>
<g clip-path="url(#p1c36a8804c)">
<circle cx="202.51" cy="167.97" r="2.74" style="fill: #cccccc; fill-opacity: 0.38"/>
</g>
<g clip-path="url(#p1c36a8804c)">
<circle cx="181.64" cy="178.65" r="2.74" style="fill: #cccccc; fill-opacity: 0.38"/>
</g>
<g clip-path="url(#p1c36a8804c)">
<circle cx="199.8" cy="176.24" r="2.74" style="fill: #cccccc; fill-opacity: 0.38"/>
</g>
<g clip-path="url(#p1c36a8804c)">
<circle cx="214.4" cy="185.62" r="2.74" style="fill: #cccccc; fill-opacity: 0.38"/>
</g>
<g clip-path="url(#p1c36a8804c)">
<circle cx="173.31" cy="149.14" r="2.74" style="fill: #cccccc; fill-opacity: 0.38"/>
</g>
<g clip-path="url(#p1c36a8804c)">
<circle cx="191.17" cy="169.45" r="2.74" style="fill: #cccccc; fill-opacity: 0.38"/>
</g>
<g clip-path="url(#p1c36a8804c)">
<circle cx="162.09" cy="153.33" r="2.74" style="fill: #cccccc; fill-opacity: 0.38"/>
</g>
<g clip-path="url(#p1c36a8804c)">
<circle cx="174.41" cy="167.04" r="2.74" style="fill: #cccccc; fill-opacity: 0.38"/>
</g>
<g clip-path="url(#p1c36a8804c)">
<circle cx="163.28" cy="177.22" r="2.74" style="fill: #cccccc; fill-opacity: 0.38"/>
</g>
<g clip-path="url(#p1c36a8804c)">
<circle cx="195.65" cy="171.93" r="2.74" style="fill: #cccccc; fill-opacity: 0.38"/>
</g>
<g clip-path="url(#p1c36a8804c)">
<circle cx="174.85" cy="175.29" r="2.74" style="fill: #cccccc; fill-opacity: 0.38"/>
</g>
<g clip-path="url(#p1c36a8804c)">
<circle cx="205.85" cy="167.11" r="2.74" style="fill: #cccccc; fill-opacity: 0.38"/>
</g>
<g clip-path="url(#p1c36a8804c)">
<circle cx="203.55" cy="172.63" r="2.74" style="fill: #cccccc; fill-opacity: 0.38"/>
</g>
<g clip-path="url(#p1c36a8804c)">
<circle cx="196.62" cy="171.55" r="2.74" style="fill: #cccccc; fill-opacity: 0.38"/>
</g>
<g clip-path="url(#p1c36a8804c)">
<circle cx="149.69" cy="187.07" r="2.74" style="fill: #cccccc; fill-opacity: 0.38"/>
</g>
<g clip-path="url(#p1c36a8804c)">
<circle cx="189.54" cy="178.84" r="2.74" style="fill: #cccccc; fill-opacity: 0.38"/>
</g>
<g clip-path="url(#p1c36a8804c)">
<circle cx="199.41" cy="143.42" r="2.74" style="fill: #cccccc; fill-opacity: 0.38"/>
</g>
<g clip-path="url(#p1c36a8804c)">
<circle cx="202.67" cy="176.89" r="2.74" style="fill: #cccccc; fill-opacity: 0.38"/>
</g>
<g clip-path="url(#p1c36a8804c)">
<circle cx="169.56" cy="182.4" r="2.74" style="fill: #cccccc; fill-opacity: 0.38"/>
</g>
<g clip-path="url(#p1c36a8804c)">
<circle cx="190.76" cy="162.37" r="2.74" style="fill: #cccccc; fill-opacity: 0.38"/>
</g>
<g clip-path="url(#p1c36a8804c)">
<circle cx="180.68" cy="146.98" r="2.74" style="fill: #cccccc; fill-opacity: 0.38"/>
</g>
<g clip-path="url(#p1c36a8804c)">
<circle cx="184.09" cy="188.15" r="2.74" style="fill: #cccccc; fill-opacity: 0.38"/>
</g>
<g clip-path="url(#p1c36a8804c)">
<circle cx="221.76" cy="170.23" r="2.74" style="fill: #cccccc; fill-opacity: 0.38"/>
</g>
<g clip-path="url(#p1c36a8804c)">
<circle cx="184.12" cy="176.33" r="2.74" style="fill: #cccccc; fill-opacity: 0.38"/>
</g>
<g clip-path="url(#p1c36a8804c)">
<circle cx="199.73" cy="192.57" r="2.74" style="fill: #cccccc; fill-opacity: 0.38"/>
</g>
<g clip-path="url(#p1c36a8804c)">
<circle cx="218.21" cy="156.65" r="2.74" style="fill: #cccccc; fill-opacity: 0.38"/>
</g>
<g clip-path="url(#p1c36a8804c)">
<circle cx="188.63" cy="167.57" r="2.74" style="fill: #cccccc; fill-opacity: 0.38"/>
</g>
<g clip-path="url(#p1c36a8804c)">
<circle cx="198.14" cy="166.2" r="2.74" style="fill: #cccccc; fill-opacity: 0.38"/>
</g>
<g clip-path="url(#p1c36a8804c)">
<circle cx="202.61" cy="178.06" r="2.74" style="fill: #cccccc; fill-opacity: 0.38"/>
</g>
<g clip-path="url(#p1c36a8804c)">
<circle cx="201.67" cy="160.68" r="2.74" style="fill: #cccccc; fill-opacity: 0.38"/>
</g>
<g clip-path="url(#p1c36a8804c)">
<circle cx="175.71" cy="174.99" r="2.74" style="fill: #cccccc; fill-opacity: 0.38"/>
</g>
<g clip-path="url(#p1c36a8804c)">
<circle cx="201.92" cy="169.29" r="2.74" style="fill: #cccccc; fill-opacity: 0.38"/>
</g>
<g clip-path="url(#p1c36a8804c)">
<circle cx="227.76" cy="183.18" r="2.74" style="fill: #cccccc; fill-opacity: 0.38"/>
</g>
<g clip-path="url(#p1c36a8804c)">
<circle cx="169.22" cy="184.73" r="2.74" style="fill: #cccccc; fill-opacity: 0.38"/>
</g>
<g clip-path="url(#p1c36a8804c)">
<circle cx="217.7" cy="148.01" r="2.74" style="fill: #cccccc; fill-opacity: 0.38"/>
</g>
<g clip-path="url(#p1c36a8804c)">
<circle cx="202.79" cy="174.53" r="2.74" style="fill: #cccccc; fill-opacity: 0.38"/>
</g>
<g clip-path="url(#p1c36a8804c)">
<circle cx="187.47" cy="163.03" r="2.74" style="fill: #cccccc; fill-opacity: 0.38"/>
</g>
<g clip-path="url(#p1c36a8804c)">
<circle cx="240.69" cy="167.72" r="2.74" style="fill: #cccccc; fill-opacity: 0.38"/>
</g>
<g clip-path="url(#p1c36a8804c)">
<circle cx="215.75" cy="173.58" r="2.74" style="fill: #cccccc; fill-opacity: 0.38"/>
</g>
<g clip-path="url(#p1c36a8804c)">
<circle cx="176.23" cy="174.54" r="2.74" style="fill: #cccccc; fill-opacity: 0.38"/>
</g>
<g clip-path="url(#p1c36a8804c)">
<circle cx="201.89" cy="158.16" r="2.74" style="fill: #cccccc; fill-opacity: 0.38"/>
</g>
<g clip-path="url(#p1c36a8804c)">
<circle cx="212.01" cy="171.57" r="2.74" style="fill: #cccccc; fill-opacity: 0.38"/>
</g>
<g clip-path="url(#p1c36a8804c)">
<circle cx="196.59" cy="169.41" r="2.74" style="fill: #cccccc; fill-opacity: 0.38"/>
</g>
<g clip-path="url(#p1c36a8804c)">
<circle cx="214.15" cy="166.91" r="2.74" style="fill: #cccccc; fill-opacity: 0.38"/>
</g>
<g clip-path="url(#p1c36a8804c)">
<circle cx="199.05" cy="150.3" r="2.74" style="fill: #cccccc; fill-opacity: 0.38"/>
</g>
<g clip-path="url(#p1c36a8804c)">
<circle cx="213.83" cy="157.43" r="2.74" style="fill: #cccccc; fill-opacity: 0.38"/>
</g>
<g clip-path="url(#p1c36a8804c)">
<circle cx="229.37" cy="161.72" r="2.74" style="fill: #cccccc; fill-opacity: 0.38"/>
</g>
<g clip-path="url(#p1c36a8804c)">
<circle cx="186.78" cy="175.34" r="2.74" style="fill: #cccccc; fill-opacity: 0.38"/>
</g>
<g clip-path="url(#p1c36a8804c)">
<circle cx="204.48" cy="187.12" r="2.74" style="fill: #cccccc; fill-opacity: 0.38"/>
</g>
<g clip-path="url(#p1c36a8804c)">
<circle cx="191.06" cy="153.56" r="2.74" style="fill: #cccccc; fill-opacity: 0.38"/>
</g>
<g clip-path="url(#p1c36a8804c)">
<circle cx="202.95" cy="153.32" r="2.74" style="fill: #cccccc; fill-opacity: 0.38"/>
</g>
<g clip-path="url(#p1c36a8804c)">
<circle cx="176.47" cy="169.25" r="2.74" style="fill: #cccccc; fill-opacity: 0.38"/>
</g>
<g clip-path="url(#p1c36a8804c)">
<circle cx="188.72" cy="159.43" r="2.74" style="fill: #cccccc; fill-opacity: 0.38"/>
</g>
<g clip-path="url(#p1c36a8804c)">
<circle cx="196.44" cy="155.98" r="2.74" style="fill: #cccccc; fill-opacity: 0.38"/>
</g>
<g clip-path="url(#p1c36a8804c)">
<circle cx="218.5" cy="155.27" r="2.74" style="fill: #cccccc; fill-opacity: 0.38"/>
</g>
<g clip-path="url(#p1c36a8804c)">
<circle cx="223.46" cy="153.97" r="2.74" style="fill: #cccccc; fill-opacity: 0.38"/>
</g>
<g clip-path="url(#p1c36a8804c)">
<circle cx="173.72" cy="173.79" r="2.74" style="fill: #cccccc; fill-opacity: 0.38"/>
</g>
<g clip-path="url(#p1c36a8804c)">
<circle cx="184.38" cy="145.43" r="2.74" style="fill: #cccccc; fill-opacity: 0.38"/>
</g>
<g clip-path="url(#p1c36a8804c)">
<circle cx="213.42" cy="185.17" r="2.74" style="fill: #cccccc; fill-opacity: 0.38"/>
</g>
<g clip-path="url(#p1c36a8804c)">
<circle cx="160.25" cy="154.83" r="2.74" style="fill: #cccccc; fill-opacity: 0.38"/>
</g>
<g clip-path="url(#p1c36a8804c)">
<circle cx="191.06" cy="160.12" r="2.74" style="fill: #cccccc; fill-opacity: 0.38"/>
</g>
<g clip-path="url(#p1c36a8804c)">
<circle cx="198.43" cy="154.66" r="2.74" style="fill: #cccccc; fill-opacity: 0.38"/>
</g>
<g clip-path="url(#p1c36a8804c)">
<circle cx="225.71" cy="140.19" r="2.74" style="fill: #cccccc; fill-opacity: 0.38"/>
</g>
<g clip-path="url(#p1c36a8804c)">
<circle cx="214.28" cy="145.86" r="2.74" style="fill: #cccccc; fill-opacity: 0.38"/>
</g>
<g clip-path="url(#p1c36a8804c)">
<circle cx="193.8" cy="183.71" r="2.74" style="fill: #cccccc; fill-opacity: 0.38"/>
</g>
<g clip-path="url(#p1c36a8804c)">
<circle cx="192.96" cy="191.53" r="2.74" style="fill: #cccccc; fill-opacity: 0.38"/>
</g>
<g clip-path="url(#p1c36a8804c)">
<circle cx="195.35" cy="155.47" r="2.74" style="fill: #cccccc; fill-opacity: 0.38"/>
</g>
<g clip-path="url(#p1c36a8804c)">
<circle cx="231.08" cy="181.84" r="2.74" style="fill: #cccccc; fill-opacity: 0.38"/>
</g>
<g clip-path="url(#p1c36a8804c)">
<circle cx="191.77" cy="167.41" r="2.74" style="fill: #cccccc; fill-opacity: 0.38"/>
</g>
<g clip-path="url(#p1c36a8804c)">
<circle cx="194.27" cy="155.14" r="2.74" style="fill: #cccccc; fill-opacity: 0.38"/>
</g>
<g clip-path="url(#p1c36a8804c)">
<circle cx="207.49" cy="190.89" r="2.74" style="fill: #cccccc; fill-opacity: 0.38"/>
</g>
<g clip-path="url(#p1c36a8804c)">
<circle cx="197.96" cy="197.6" r="2.74" style="fill: #cccccc; fill-opacity: 0.38"/>
</g>
<g clip-path="url(#p1c36a8804c)">
<circle cx="196.41" cy="163.5" r="2.74" style="fill: #cccccc; fill-opacity: 0.38"/>
</g>
<g clip-path="url(#p1c36a8804c)">
<circle cx="177.94" cy="166.59" r="2.74" style="fill: #cccccc; fill-opacity: 0.38"/>
</g>
<g clip-path="url(#p1c36a8804c)">
<circle cx="200.16" cy="170.77" r="2.74" style="fill: #cccccc; fill-opacity: 0.38"/>
</g>
<g clip-path="url(#p1c36a8804c)">
<circle cx="191.45" cy="166.67" r="2.74" style="fill: #cccccc; fill-opacity: 0.38"/>
</g>
<g clip-path="url(#p1c36a8804c)">
<circle cx="223.88" cy="179.61" r="2.74" style="fill: #cccccc; fill-opacity: 0.38"/>
</g>
<g clip-path="url(#p1c36a8804c)">
<circle cx="213.55" cy="189.01" r="2.74" style="fill: #cccccc; fill-opacity: 0.38"/>
</g>
<g clip-path="url(#p1c36a8804c)">
<circle cx="199.9" cy="169.63" r="2.74" style="fill: #cccccc; fill-opacity: 0.38"/>
</g>
<g clip-path="url(#p1c36a8804c)">
<circle cx="213.85" cy="181.21" r="2.74" style="fill: #cccccc; fill-opacity: 0.38"/>
</g>
<g clip-path="url(#p1c36a8804c)">
<circle cx="193.54" cy="190.88" r="2.74" style="fill: #cccccc; fill-opacity: 0.38"/>
</g>
<g clip-path="url(#p1c36a8804c)">
<circle cx="221.59" cy="159.95" r="2.74" style="fill: #cccccc; fill-opacity: 0.38"/>
</g>
<g clip-path="url(#p1c36a8804c)">
<circle cx="200.28" cy="168.11" r="2.74" style="fill: #cccccc; fill-opacity: 0.38"/>
</g>
<g clip-path="url(#p1c36a8804c)">
<circle cx="212.14" cy="161.38" r="2.74" style="fill: #cccccc; fill-opacity: 0.38"/>
</g>
<g clip-path="url(#p1c36a8804c)">
<circle cx="174.38" cy="181.47" r="2.74" style="fill: #cccccc; fill-opacity: 0.38"/>
</g>
<g clip-path="url(#p1c36a8804c)">
<circle cx="207.37" cy="176.7" r="2.74" style="fill: #cccccc; fill-opacity: 0.38"/>
</g>
<g clip-path="url(#p1c36a8804c)">
<circle cx="166.38" cy="181.61" r="2.74" style="fill: #cccccc; fill-opacity: 0.38"/>
</g>
<g clip-path="url(#p1c36a8804c)">
<circle cx="159.38" cy="179.99" r="2.74" style="fill: #cccccc; fill-opacity: 0.38"/>
</g>
<g clip-path="url(#p1c36a8804c)">
<circle cx="194.26" cy="164.42" r="2.74" style="fill: #cccccc; fill-opacity: 0.38"/>
</g>
<g clip-path="url(#p1c36a8804c)">
<circle cx="182.26" cy="178.5" r="2.74" style="fill: #cccccc; fill-opacity: 0.38"/>
</g>
<g clip-path="url(#p1c36a8804c)">
<circle cx="203.69" cy="162.1" r="2.74" style="fill: #cccccc; fill-opacity: 0.38"/>
</g>
<g clip-path="url(#p1c36a8804c)">
<circle cx="245.61" cy="162.34" r="2.74" style="fill: #cccccc; fill-opacity: 0.38"/>
</g>
<g clip-path="url(#p1c36a8804c)">
<circle cx="183.63" cy="138.08" r="2.74" style="fill: #cccccc; fill-opacity: 0.38"/>
</g>
<g clip-path="url(#p1c36a8804c)">
<circle cx="187.82" cy="187.27" r="2.74" style="fill: #cccccc; fill-opacity: 0.38"/>
</g>
<g clip-path="url(#p1c36a8804c)">
<circle cx="204.53" cy="154.45" r="2.74" style="fill: #cccccc; fill-opacity: 0.38"/>
</g>
<g clip-path="url(#p1c36a8804c)">
<circle cx="210.32" cy="168.52" r="2.74" style="fill: #cccccc; fill-opacity: 0.38"/>
</g>
<g clip-path="url(#p1c36a8804c)">
<circle cx="196.84" cy="167.43" r="2.74" style="fill: #cccccc; fill-opacity: 0.38"/>
</g>
<g clip-path="url(#p1c36a8804c)">
<circle cx="196.24" cy="188.1" r="2.74" style="fill: #cccccc; fill-opacity: 0.38"/>
</g>
<g clip-path="url(#p1c36a8804c)">
<circle cx="214.54" cy="173.85" r="2.74" style="fill: #cccccc; fill-opacity: 0.38"/>
</g>
<g clip-path="url(#p1c36a8804c)">
<circle cx="210.86" cy="156.53" r="2.74" style="fill: #cccccc; fill-opacity: 0.38"/>
</g>
<g clip-path="url(#p1c36a8804c)">
<circle cx="179.56" cy="168.42" r="2.74" style="fill: #cccccc; fill-opacity: 0.38"/>
</g>
<g clip-path="url(#p1c36a8804c)">
<circle cx="198.79" cy="166.06" r="2.74" style="fill: #cccccc; fill-opacity: 0.38"/>
</g>
<g clip-path="url(#p1c36a8804c)">
<circle cx="201.1" cy="171.41" r="2.74" style="fill: #cccccc; fill-opacity: 0.38"/>
</g>
<g clip-path="url(#p1c36a8804c)">
<circle cx="179.15" cy="150.61" r="2.74" style="fill: #cccccc; fill-opacity: 0.38"/>
</g>
<g clip-path="url(#p1c36a8804c)">
<circle cx="205.62" cy="167.54" r="2.74" style="fill: #cccccc; fill-opacity: 0.38"/>
</g>
<g clip-path="url(#p1c36a8804c)">
<circle cx="183.1" cy="198.9" r="2.74" style="fill: #cccccc; fill-opacity: 0.38"/>
</g>
<g clip-path="url(#p1c36a8804c)">
<circle cx="219.97" cy="177.19" r="2.74" style="fill: #cccccc; fill-opacity: 0.38"/>
</g>
<g clip-path="url(#p1c36a8804c)">
<circle cx="204.27" cy="195.56" r="2.74" style="fill: #cccccc; fill-opacity: 0.38"/>
</g>
<g clip-path="url(#p1c36a8804c)">
<circle cx="202.19" cy="214.02" r="2.74" style="fill: #cccccc; fill-opacity: 0.38"/>
</g>
<g clip-path="url(#p1c36a8804c)">
<circle cx="188.48" cy="174.86" r="2.74" style="fill: #cccccc; fill-opacity: 0.38"/>
</g>
<g clip-path="url(#p1c36a8804c)">
<circle cx="198" cy="148.04" r="2.74" style="fill: #cccccc; fill-opacity: 0.38"/>
</g>
<g clip-path="url(#p1c36a8804c)">
<circle cx="160.14" cy="166.55" r="2.74" style="fill: #cccccc; fill-opacity: 0.38"/>
</g>
<g clip-path="url(#p1c36a8804c)">
<circle cx="177.6" cy="184.1" r="2.74" style="fill: #cccccc; fill-opacity: 0.38"/>
</g>
<g clip-path="url(#p1c36a8804c)">
<circle cx="207.7" cy="180.77" r="2.74" style="fill: #cccccc; fill-opacity: 0.38"/>
</g>
<g clip-path="url(#p1c36a8804c)">
<circle cx="157.51" cy="150.96" r="2.74" style="fill: #cccccc; fill-opacity: 0.38"/>
</g>
<g clip-path="url(#p1c36a8804c)">
<circle cx="217.45" cy="164.96" r="2.74" style="fill: #cccccc; fill-opacity: 0.38"/>
</g>
<g clip-path="url(#p1c36a8804c)">
<circle cx="165.21" cy="166.54" r="2.74" style="fill: #cccccc; fill-opacity: 0.38"/>
</g>
<g clip-path="url(#p1c36a8804c)">
<circle cx="215.63" cy="168" r="2.74" style="fill: #cccccc; fill-opacity: 0.38"/>
</g>
<g clip-path="url(#p1c36a8804c)">
<circle cx="223.7" cy="143.48" r="2.74" style="fill: #cccccc; fill-opacity: 0.38"/>
</g>
<g clip-path="url(#p1c36a8804c)">
<circle cx="250.39" cy="137.33" r="2.74" style="fill: #cccccc; fill-opacity: 0.38"/>
</g>
<g clip-path="url(#p1c36a8804c)">
<circle cx="241.6" cy="108.04" r="2.74" style="fill: #cccccc; fill-opacity: 0.38"/>
</g>
<g clip-path="url(#p1c36a8804c)">
<circle cx="229.87" cy="153.03" r="2.74" style="fill: #cccccc; fill-opacity: 0.38"/>
</g>
<g clip-path="url(#p1c36a8804c)">
<circle cx="186.08" cy="161.33" r="2.74" style="fill: #cccccc; fill-opacity: 0.38"/>
</g>
<g clip-path="url(#p1c36a8804c)">
<circle cx="240.15" cy="177.24" r="2.74" style="fill: #cccccc; fill-opacity: 0.38"/>
</g>
<g clip-path="url(#p1c36a8804c)">
<circle cx="198.56" cy="148.04" r="2.74" style="fill: #cccccc; fill-opacity: 0.38"/>
</g>
<g clip-path="url(#p1c36a8804c)">
<circle cx="260.43" cy="117.95" r="2.74" style="fill: #cccccc; fill-opacity: 0.38"/>
</g>
<g clip-path="url(#p1c36a8804c)">
<circle cx="178.14" cy="128.82" r="2.74" style="fill: #cccccc; fill-opacity: 0.38"/>
</g>
<g clip-path="url(#p1c36a8804c)">
<circle cx="217.58" cy="168.63" r="2.74" style="fill: #cccccc; fill-opacity: 0.38"/>
</g>
<g clip-path="url(#p1c36a8804c)">
<circle cx="222.11" cy="166.82" r="2.74" style="fill: #cccccc; fill-opacity: 0.38"/>
</g>
<g clip-path="url(#p1c36a8804c)">
<circle cx="176.27" cy="159.47" r="2.74" style="fill: #cccccc; fill-opacity: 0.38"/>
</g>
<g clip-path="url(#p1c36a8804c)">
<circle cx="282.29" cy="142.79" r="2.74" style="fill: #cccccc; fill-opacity: 0.38"/>
</g>
<g clip-path="url(#p1c36a8804c)">
<circle cx="273.19" cy="153.21" r="2.74" style="fill: #cccccc; fill-opacity: 0.38"/>
</g>
<g clip-path="url(#p1c36a8804c)">
<circle cx="206.24" cy="144.42" r="2.74" style="fill: #cccccc; fill-opacity: 0.38"/>
</g>
<g clip-path="url(#p1c36a8804c)">
<circle cx="249.22" cy="142.7" r="2.74" style="fill: #cccccc; fill-opacity: 0.38"/>
</g>
<g clip-path="url(#p1c36a8804c)">
<circle cx="235.54" cy="155.17" r="2.74" style="fill: #cccccc; fill-opacity: 0.38"/>
</g>
<g clip-path="url(#p1c36a8804c)">
<circle cx="131.42" cy="149.75" r="2.74" style="fill: #cccccc; fill-opacity: 0.38"/>
</g>
<g clip-path="url(#p1c36a8804c)">
<circle cx="231.08" cy="144.59" r="2.74" style="fill: #cccccc; fill-opacity: 0.38"/>
</g>
<g clip-path="url(#p1c36a8804c)">
<circle cx="220.23" cy="150.67" r="2.74" style="fill: #cccccc; fill-opacity: 0.38"/>
</g>
<g clip-path="url(#p1c36a8804c)">
<circle cx="225.26" cy="138.37" r="2.74" style="fill: #cccccc; fill-opacity: 0.38"/>
</g>
<g clip-path="url(#p1c36a8804c)">
<circle cx="184.89" cy="109.75" r="2.74" style="fill: #cccccc; fill-opacity: 0.38"/>
</g>
<g clip-path="url(#p1c36a8804c)">
<circle cx="212.99" cy="136.52" r="2.74" style="fill: #cccccc; fill-opacity: 0.38"/>
</g>
<g clip-path="url(#p1c36a8804c)">
<circle cx="216.16" cy="147.74" r="2.74" style="fill: #cccccc; fill-opacity: 0.38"/>
</g>
<g clip-path="url(#p1c36a8804c)">
<circle cx="263.71" cy="184.21" r="2.74" style="fill: #cccccc; fill-opacity: 0.38"/>
</g>
<g clip-path="url(#p1c36a8804c)">
<circle cx="234" cy="140.79" r="2.74" style="fill: #cccccc; fill-opacity: 0.38"/>
</g>
<g clip-path="url(#p1c36a8804c)">
<circle cx="222.17" cy="189.66" r="2.74" style="fill: #cccccc; fill-opacity: 0.38"/>
</g>
<g clip-path="url(#p1c36a8804c)">
<circle cx="275.57" cy="178.41" r="2.74" style="fill: #cccccc; fill-opacity: 0.38"/>
</g>
<g clip-path="url(#p1c36a8804c)">
<circle cx="203.05" cy="131.02" r="2.74" style="fill: #cccccc; fill-opacity: 0.38"/>
</g>
<g clip-path="url(#p1c36a8804c)">
<circle cx="208.82" cy="134.13" r="2.74" style="fill: #cccccc; fill-opacity: 0.38"/>
</g>
<g clip-path="url(#p1c36a8804c)">
<circle cx="159.15" cy="152.05" r="2.74" style="fill: #cccccc; fill-opacity: 0.38"/>
</g>
<g clip-path="url(#p1c36a8804c)">
<circle cx="276.97" cy="184.71" r="2.74" style="fill: #cccccc; fill-opacity: 0.38"/>
</g>
<g clip-path="url(#p1c36a8804c)">
<circle cx="255.92" cy="156.69" r="2.74" style="fill: #cccccc; fill-opacity: 0.38"/>
</g>
<g clip-path="url(#p1c36a8804c)">
<circle cx="254.27" cy="163.12" r="2.74" style="fill: #cccccc; fill-opacity: 0.38"/>
</g>
<g clip-path="url(#p1c36a8804c)">
<circle cx="245.64" cy="135.58" r="2.74" style="fill: #cccccc; fill-opacity: 0.38"/>
</g>
<g clip-path="url(#p1c36a8804c)">
<circle cx="226.2" cy="101.65" r="2.74" style="fill: #cccccc; fill-opacity: 0.38"/>
</g>
<g clip-path="url(#p1c36a8804c)">
<circle cx="229.87" cy="144.37" r="2.74" style="fill: #cccccc; fill-opacity: 0.38"/>
</g>
<g clip-path="url(#p1c36a8804c)">
<circle cx="213.6" cy="165.23" r="2.74" style="fill: #cccccc; fill-opacity: 0.38"/>
</g>
<g clip-path="url(#p1c36a8804c)">
<circle cx="215.28" cy="173.42" r="2.74" style="fill: #cccccc; fill-opacity: 0.38"/>
</g>
<g clip-path="url(#p1c36a8804c)">
<circle cx="224.26" cy="150.09" r="2.74" style="fill: #cccccc; fill-opacity: 0.38"/>
</g>
<g clip-path="url(#p1c36a8804c)">
<circle cx="274.98" cy="152.61" r="2.74" style="fill: #cccccc; fill-opacity: 0.38"/>
</g>
<g clip-path="url(#p1c36a8804c)">
<circle cx="241.7" cy="173.02" r="2.74" style="fill: #cccccc; fill-opacity: 0.38"/>
</g>
<g clip-path="url(#p1c36a8804c)">
<circle cx="220.33" cy="146.48" r="2.74" style="fill: #cccccc; fill-opacity: 0.38"/>
</g>
<g clip-path="url(#p1c36a8804c)">
<circle cx="202.21" cy="173" r="2.74" style="fill: #cccccc; fill-opacity: 0.38"/>
</g>
<g clip-path="url(#p1c36a8804c)">
<circle cx="200.27" cy="125.63" r="2.74" style="fill: #cccccc; fill-opacity: 0.38"/>
</g>
<g clip-path="url(#p1c36a8804c)">
<circle cx="278.14" cy="126.67" r="2.74" style="fill: #cccccc; fill-opacity: 0.38"/>
</g>
<g clip-path="url(#p1c36a8804c)">
<circle cx="240" cy="126.2" r="2.74" style="fill: #cccccc; fill-opacity: 0.38"/>
</g>
<g clip-path="url(#p1c36a8804c)">
<circle cx="224.72" cy="158.84" r="2.74" style="fill: #cccccc; fill-opacity: 0.38"/>
</g>
<g clip-path="url(#p1c36a8804c)">
<circle cx="210.32" cy="138.14" r="2.74" style="fill: #cccccc; fill-opacity: 0.38"/>
</g>
<g clip-path="url(#p1c36a8804c)">
<circle cx="183.77" cy="151.68" r="2.74" style="fill: #cccccc; fill-opacity: 0.38"/>
</g>
<g clip-path="url(#p1c36a8804c)">
<circle cx="220.04" cy="157.05" r="2.74" style="fill: #cccccc; fill-opacity: 0.38"/>
</g>
<g clip-path="url(#p1c36a8804c)">
<circle cx="252.77" cy="156.01" r="2.74" style="fill: #cccccc; fill-opacity: 0.38"/>
</g>
<g clip-path="url(#p1c36a8804c)">
<circle cx="208.71" cy="176.12" r="2.74" style="fill: #cccccc; fill-opacity: 0.38"/>
</g>
<g clip-path="url(#p1c36a8804c)">
<circle cx="214.46" cy="179.14" r="2.74" style="fill: #cccccc; fill-opacity: 0.38"/>
</g>
<g clip-path="url(#p1c36a8804c)">
<circle cx="214.68" cy="132.28" r="2.74" style="fill: #cccccc; fill-opacity: 0.38"/>
</g>
<g clip-path="url(#p1c36a8804c)">
<circle cx="226.18" cy="152.92" r="2.74" style="fill: #cccccc; fill-opacity: 0.38"/>
</g>
<g clip-path="url(#p1c36a8804c)">
<circle cx="166.93" cy="144.38" r="2.74" style="fill: #cccccc; fill-opacity: 0.38"/>
</g>
<g clip-path="url(#p1c36a8804c)">
<circle cx="214.18" cy="127.94" r="2.74" style="fill: #cccccc; fill-opacity: 0.38"/>
</g>
<g clip-path="url(#p1c36a8804c)">
<circle cx="192.64" cy="185.19" r="2.74" style="fill: #cccccc; fill-opacity: 0.38"/>
</g>
<g clip-path="url(#p1c36a8804c)">
<circle cx="253.15" cy="165.33" r="2.74" style="fill: #cccccc; fill-opacity: 0.38"/>
</g>
<g clip-path="url(#p1c36a8804c)">
<circle cx="195.55" cy="145.24" r="2.74" style="fill: #cccccc; fill-opacity: 0.38"/>
</g>
<g clip-path="url(#p1c36a8804c)">
<circle cx="242.45" cy="140.7" r="2.74" style="fill: #cccccc; fill-opacity: 0.38"/>
</g>
<g clip-path="url(#p1c36a8804c)">
<circle cx="275.42" cy="156.81" r="2.74" style="fill: #cccccc; fill-opacity: 0.38"/>
</g>
<g clip-path="url(#p1c36a8804c)">
<circle cx="211.45" cy="127.37" r="2.74" style="fill: #cccccc; fill-opacity: 0.38"/>
</g>
<g clip-path="url(#p1c36a8804c)">
<circle cx="201.43" cy="144.51" r="2.74" style="fill: #cccccc; fill-opacity: 0.38"/>
</g>
<g clip-path="url(#p1c36a8804c)">
<circle cx="229.03" cy="174.31" r="2.74" style="fill: #cccccc; fill-opacity: 0.38"/>
</g>
<g clip-path="url(#p1c36a8804c)">
<circle cx="222.3" cy="168.4" r="2.74" style="fill: #cccccc; fill-opacity: 0.38"/>
</g>
<g clip-path="url(#p1c36a8804c)">
<circle cx="187.79" cy="132.05" r="2.74" style="fill: #cccccc; fill-opacity: 0.38"/>
</g>
<g clip-path="url(#p1c36a8804c)">
<circle cx="238.41" cy="139.2" r="2.74" style="fill: #cccccc; fill-opacity: 0.38"/>
</g>
<g clip-path="url(#p1c36a8804c)">
<circle cx="292.5" cy="188.67" r="2.74" style="fill: #cccccc; fill-opacity: 0.38"/>
</g>
<g clip-path="url(#p1c36a8804c)">
<circle cx="213.39" cy="120.7" r="2.74" style="fill: #cccccc; fill-opacity: 0.38"/>
</g>
<g clip-path="url(#p1c36a8804c)">
<circle cx="215.31" cy="136.39" r="2.74" style="fill: #cccccc; fill-opacity: 0.38"/>
</g>
<g clip-path="url(#p1c36a8804c)">
<circle cx="186.01" cy="120.79" r="2.74" style="fill: #cccccc; fill-opacity: 0.38"/>
</g>
<g clip-path="url(#p1c36a8804c)">
<circle cx="233.47" cy="156.94" r="2.74" style="fill: #cccccc; fill-opacity: 0.38"/>
</g>
<g clip-path="url(#p1c36a8804c)">
<circle cx="178.97" cy="155.1" r="2.74" style="fill: #cccccc; fill-opacity: 0.38"/>
</g>
<g clip-path="url(#p1c36a8804c)">
<circle cx="183.85" cy="172.49" r="2.74" style="fill: #cccccc; fill-opacity: 0.38"/>
</g>
<g clip-path="url(#p1c36a8804c)">
<circle cx="266.9" cy="95.8" r="2.74" style="fill: #cccccc; fill-opacity: 0.38"/>
</g>
<g clip-path="url(#p1c36a8804c)">
<circle cx="190.86" cy="152.58" r="2.74" style="fill: #cccccc; fill-opacity: 0.38"/>
</g>
<g clip-path="url(#p1c36a8804c)">
<circle cx="260" cy="115.68" r="2.74" style="fill: #cccccc; fill-opacity: 0.38"/>
</g>
<g clip-path="url(#p1c36a8804c)">
<circle cx="275.41" cy="162.46" r="2.74" style="fill: #cccccc; fill-opacity: 0.38"/>
</g>
<g clip-path="url(#p1c36a8804c)">
<circle cx="204.92" cy="161.26" r="2.74" style="fill: #cccccc; fill-opacity: 0.38"/>
</g>
<g clip-path="url(#p1c36a8804c)">
<circle cx="174.67" cy="179.91" r="2.74" style="fill: #cccccc; fill-opacity: 0.38"/>
</g>
<g clip-path="url(#p1c36a8804c)">
<circle cx="195.91" cy="184.4" r="2.74" style="fill: #cccccc; fill-opacity: 0.38"/>
</g>
<g clip-path="url(#p1c36a8804c)">
<circle cx="218.44" cy="173.56" r="2.74" style="fill: #cccccc; fill-opacity: 0.38"/>
</g>
<g clip-path="url(#p1c36a8804c)">
<circle cx="181.59" cy="155.28" r="2.74" style="fill: #cccccc; fill-opacity: 0.38"/>
</g>
<g clip-path="url(#p1c36a8804c)">
<circle cx="219.89" cy="199.36" r="2.74" style="fill: #cccccc; fill-opacity: 0.38"/>
</g>
<g clip-path="url(#p1c36a8804c)">
<circle cx="207.78" cy="164.33" r="2.74" style="fill: #cccccc; fill-opacity: 0.38"/>
</g>
<g clip-path="url(#p1c36a8804c)">
<circle cx="185.01" cy="181.11" r="2.74" style="fill: #cccccc; fill-opacity: 0.38"/>
</g>
<g clip-path="url(#p1c36a8804c)">
<circle cx="193.95" cy="158.96" r="2.74" style="fill: #cccccc; fill-opacity: 0.38"/>
</g>
<g clip-path="url(#p1c36a8804c)">
<circle cx="194.65" cy="181.13" r="2.74" style="fill: #cccccc; fill-opacity: 0.38"/>
</g>
<g clip-path="url(#p1c36a8804c)">
<circle cx="201.4" cy="172.83" r="2.74" style="fill: #cccccc; fill-opacity: 0.38"/>
</g>
<g clip-path="url(#p1c36a8804c)">
<circle cx="193.38" cy="185.61" r="2.74" style="fill: #cccccc; fill-opacity: 0.38"/>
</g>
<g clip-path="url(#p1c36a8804c)">
<circle cx="188.58" cy="180.07" r="2.74" style="fill: #cccccc; fill-opacity: 0.38"/>
</g>
<g clip-path="url(#p1c36a8804c)">
<circle cx="197.2" cy="155.34" r="2.74" style="fill: #cccccc; fill-opacity: 0.38"/>
</g>
<g clip-path="url(#p1c36a8804c)">
<circle cx="185.29" cy="161.26" r="2.74" style="fill: #cccccc; fill-opacity: 0.38"/>
</g>
<g clip-path="url(#p1c36a8804c)">
<circle cx="180.96" cy="174.05" r="2.74" style="fill: #cccccc; fill-opacity: 0.38"/>
</g>
<g clip-path="url(#p1c36a8804c)">
<circle cx="201.43" cy="178.95" r="2.74" style="fill: #cccccc; fill-opacity: 0.38"/>
</g>
<g clip-path="url(#p1c36a8804c)">
<circle cx="216.77" cy="189.67" r="2.74" style="fill: #cccccc; fill-opacity: 0.38"/>
</g>
<g clip-path="url(#p1c36a8804c)">
<circle cx="177.01" cy="173.97" r="2.74" style="fill: #cccccc; fill-opacity: 0.38"/>
</g>
<g clip-path="url(#p1c36a8804c)">
<circle cx="202.28" cy="170.17" r="2.74" style="fill: #cccccc; fill-opacity: 0.38"/>
</g>
<g clip-path="url(#p1c36a8804c)">
<circle cx="191.51" cy="170.73" r="2.74" style="fill: #cccccc; fill-opacity: 0.38"/>
</g>
<g clip-path="url(#p1c36a8804c)">
<circle cx="186.11" cy="170.83" r="2.74" style="fill: #cccccc; fill-opacity: 0.38"/>
</g>
<g clip-path="url(#p1c36a8804c)">
<circle cx="216.29" cy="181.59" r="2.74" style="fill: #cccccc; fill-opacity: 0.38"/>
</g>
<g clip-path="url(#p1c36a8804c)">
<circle cx="193.68" cy="170.54" r="2.74" style="fill: #cccccc; fill-opacity: 0.38"/>
</g>
<g clip-path="url(#p1c36a8804c)">
<circle cx="226.92" cy="170.25" r="2.74" style="fill: #cccccc; fill-opacity: 0.38"/>
</g>
<g clip-path="url(#p1c36a8804c)">
<circle cx="189.37" cy="156.34" r="2.74" style="fill: #cccccc; fill-opacity: 0.38"/>
</g>
<g clip-path="url(#p1c36a8804c)">
<circle cx="208.59" cy="150.31" r="2.74" style="fill: #cccccc; fill-opacity: 0.38"/>
</g>
<g clip-path="url(#p1c36a8804c)">
<circle cx="198.47" cy="171.28" r="2.74" style="fill: #cccccc; fill-opacity: 0.38"/>
</g>
<g clip-path="url(#p1c36a8804c)">
<circle cx="189.79" cy="177.87" r="2.74" style="fill: #cccccc; fill-opacity: 0.38"/>
</g>
<g clip-path="url(#p1c36a8804c)">
<circle cx="211.91" cy="170.53" r="2.74" style="fill: #cccccc; fill-opacity: 0.38"/>
</g>
<g clip-path="url(#p1c36a8804c)">
<circle cx="199.67" cy="176.21" r="2.74" style="fill: #cccccc; fill-opacity: 0.38"/>
</g>
<g clip-path="url(#p1c36a8804c)">
<circle cx="212.16" cy="177.62" r="2.74" style="fill: #cccccc; fill-opacity: 0.38"/>
</g>
<g clip-path="url(#p1c36a8804c)">
<circle cx="201.44" cy="170.46" r="2.74" style="fill: #cccccc; fill-opacity: 0.38"/>
</g>
<g clip-path="url(#p1c36a8804c)">
<circle cx="184.32" cy="180.77" r="2.74" style="fill: #cccccc; fill-opacity: 0.38"/>
</g>
<g clip-path="url(#p1c36a8804c)">
<circle cx="200.54" cy="163.5" r="2.74" style="fill: #cccccc; fill-opacity: 0.38"/>
</g>
<g clip-path="url(#p1c36a8804c)">
<circle cx="203.08" cy="170.93" r="2.74" style="fill: #cccccc; fill-opacity: 0.38"/>
</g>
<g clip-path="url(#p1c36a8804c)">
<circle cx="218.02" cy="167.23" r="2.74" style="fill: #cccccc; fill-opacity: 0.38"/>
</g>
<g clip-path="url(#p1c36a8804c)">
<circle cx="187.28" cy="171.76" r="2.74" style="fill: #cccccc; fill-opacity: 0.38"/>
</g>
<g clip-path="url(#p1c36a8804c)">
<circle cx="201.57" cy="177.46" r="2.74" style="fill: #cccccc; fill-opacity: 0.38"/>
</g>
<g clip-path="url(#p1c36a8804c)">
<circle cx="173.84" cy="179.77" r="2.74" style="fill: #cccccc; fill-opacity: 0.38"/>
</g>
<g clip-path="url(#p1c36a8804c)">
<circle cx="212.96" cy="172.33" r="2.74" style="fill: #cccccc; fill-opacity: 0.38"/>
</g>
<g clip-path="url(#p1c36a8804c)">
<circle cx="184.39" cy="175.59" r="2.74" style="fill: #cccccc; fill-opacity: 0.38"/>
</g>
<g clip-path="url(#p1c36a8804c)">
<circle cx="172.45" cy="167.4" r="2.74" style="fill: #cccccc; fill-opacity: 0.38"/>
</g>
<g clip-path="url(#p1c36a8804c)">
<circle cx="201.24" cy="169.89" r="2.74" style="fill: #cccccc; fill-opacity: 0.38"/>
</g>
<g clip-path="url(#p1c36a8804c)">
<circle cx="220.45" cy="184.1" r="2.74" style="fill: #cccccc; fill-opacity: 0.38"/>
</g>
<g clip-path="url(#p1c36a8804c)">
<circle cx="177.09" cy="169.14" r="2.74" style="fill: #cccccc; fill-opacity: 0.38"/>
</g>
<g clip-path="url(#p1c36a8804c)">
<circle cx="184.29" cy="183.9" r="2.74" style="fill: #cccccc; fill-opacity: 0.38"/>
</g>
<g clip-path="url(#p1c36a8804c)">
<circle cx="189.97" cy="176.3" r="2.74" style="fill: #cccccc; fill-opacity: 0.38"/>
</g>
<g clip-path="url(#p1c36a8804c)">
<circle cx="183.6" cy="172.93" r="2.74" style="fill: #cccccc; fill-opacity: 0.38"/>
</g>
<g clip-path="url(#p1c36a8804c)">
<circle cx="208.48" cy="191.57" r="2.74" style="fill: #cccccc; fill-opacity: 0.38"/>
</g>
<g clip-path="url(#p1c36a8804c)">
<circle cx="188.91" cy="168.89" r="2.74" style="fill: #cccccc; fill-opacity: 0.38"/>
</g>
<g clip-path="url(#p1c36a8804c)">
<circle cx="190.33" cy="168.27" r="2.74" style="fill: #cccccc; fill-opacity: 0.38"/>
</g>
<g clip-path="url(#p1c36a8804c)">
<circle cx="211.84" cy="171.5" r="2.74" style="fill: #cccccc; fill-opacity: 0.38"/>
</g>
<g clip-path="url(#p1c36a8804c)">
<circle cx="189.77" cy="174.29" r="2.74" style="fill: #cccccc; fill-opacity: 0.38"/>
</g>
<g clip-path="url(#p1c36a8804c)">
<circle cx="209.35" cy="173.76" r="2.74" style="fill: #cccccc; fill-opacity: 0.38"/>
</g>
<g clip-path="url(#p1c36a8804c)">
<circle cx="186.21" cy="180.07" r="2.74" style="fill: #cccccc; fill-opacity: 0.38"/>
</g>
<g clip-path="url(#p1c36a8804c)">
<circle cx="182.24" cy="172.67" r="2.74" style="fill: #cccccc; fill-opacity: 0.38"/>
</g>
<g clip-path="url(#p1c36a8804c)">
<circle cx="171.97" cy="175.63" r="2.74" style="fill: #cccccc; fill-opacity: 0.38"/>
</g>
<g clip-path="url(#p1c36a8804c)">
<circle cx="232.9" cy="168.89" r="2.74" style="fill: #cccccc; fill-opacity: 0.38"/>
</g>
<g clip-path="url(#p1c36a8804c)">
<circle cx="196.94" cy="182.45" r="2.74" style="fill: #cccccc; fill-opacity: 0.38"/>
</g>
<g clip-path="url(#p1c36a8804c)">
<circle cx="206.24" cy="167.38" r="2.74" style="fill: #cccccc; fill-opacity: 0.38"/>
</g>
<g clip-path="url(#p1c36a8804c)">
<circle cx="201.71" cy="168.35" r="2.74" style="fill: #cccccc; fill-opacity: 0.38"/>
</g>
<g clip-path="url(#p1c36a8804c)">
<circle cx="204.86" cy="171.33" r="2.74" style="fill: #cccccc; fill-opacity: 0.38"/>
</g>
<g clip-path="url(#p1c36a8804c)">
<circle cx="203.04" cy="174.44" r="2.74" style="fill: #cccccc; fill-opacity: 0.38"/>
</g>
<g clip-path="url(#p1c36a8804c)">
<circle cx="233.67" cy="164.06" r="2.74" style="fill: #cccccc; fill-opacity: 0.38"/>
</g>
<g clip-path="url(#p1c36a8804c)">
<circle cx="185.1" cy="187.27" r="2.74" style="fill: #cccccc; fill-opacity: 0.38"/>
</g>
<g clip-path="url(#p1c36a8804c)">
<circle cx="176.55" cy="165.03" r="2.74" style="fill: #cccccc; fill-opacity: 0.38"/>
</g>
<g clip-path="url(#p1c36a8804c)">
<circle cx="185.54" cy="167.3" r="2.74" style="fill: #cccccc; fill-opacity: 0.38"/>
</g>
<g clip-path="url(#p1c36a8804c)">
<circle cx="180.22" cy="166.88" r="2.74" style="fill: #cccccc; fill-opacity: 0.38"/>
</g>
<g clip-path="url(#p1c36a8804c)">
<circle cx="214.53" cy="165.83" r="2.74" style="fill: #cccccc; fill-opacity: 0.38"/>
</g>
</g>
<g id="patch_3">
<path d="M 46.54 288.90 
L 46.54 27.23 
" style="fill: none; stroke: #8c8c8c; stroke-linejoin: miter; stroke-linecap: square"/>
</g>
<g id="patch_4">
<path d="M 339.58 288.90 
L 339.58 27.23 
" style="fill: none; stroke: #8c8c8c; stroke-linejoin: miter; stroke-linecap: square"/>
</g>
<g id="patch_5">
<path d="M 46.54 288.90 
L 339.58 288.90 
" style="fill: none; stroke: #333333; stroke-width: 0.9; stroke-linejoin: miter; stroke-linecap: square"/>
</g>
<g id="patch_6">
<path d="M 46.54 27.23 
L 339.58 27.23 
" style="fill: none; stroke: #8c8c8c; stroke-linejoin: miter; stroke-linecap: square"/>
</g>
<g id="line2d_69">
<path d="M 90.31 84.54 
L 211.37 168.27 
" clip-path="url(#p1c36a8804c)" style="fill: none; stroke: #b4b4b4; stroke-opacity: 0.5; stroke-width: 1.5; stroke-linecap: square"/>
</g>
<g id="line2d_70">
<path d="M 46.54 172.46 
L 339.58 143.15 
" clip-path="url(#p1c36a8804c)" style="fill: none; stroke: #b4b4b4; stroke-opacity: 0.5; stroke-width: 1.5; stroke-linecap: square"/>
</g>
<g id="line2d_71">
<path d="M 106.43 188.42 
L 295.62 121.69 
" clip-path="url(#p1c36a8804c)" style="fill: none; stroke: #b4b4b4; stroke-opacity: 0.5; stroke-width: 1.5; stroke-linecap: square"/>
</g>
<g id="line2d_72">
<path d="M 82.62 154.40 
L 315.22 162.78 
" clip-path="url(#p1c36a8804c)" style="fill: none; stroke: #b4b4b4; stroke-opacity: 0.5; stroke-width: 1.5; stroke-linecap: square"/>
</g>
<g id="line2d_73">
<path d="M 141.78 134.52 
L 289.03 226.62 
" clip-path="url(#p1c36a8804c)" style="fill: none; stroke: #b4b4b4; stroke-opacity: 0.5; stroke-width: 1.5; stroke-linecap: square"/>
</g>
<g id="line2d_74">
<path d="M 123.46 135.82 
L 312.84 178.21 
" clip-path="url(#p1c36a8804c)" style="fill: none; stroke: #b4b4b4; stroke-opacity: 0.5; stroke-width: 1.5; stroke-linecap: square"/>
</g>
<g id="line2d_75">
<path d="M 134.45 142.37 
L 293.79 179.00 
" clip-path="url(#p1c36a8804c)" style="fill: none; stroke: #b4b4b4; stroke-opacity: 0.5; stroke-width: 1.5; stroke-linecap: square"/>
</g>
<g id="line2d_76">
<path d="M 145.44 138.44 
L 285.37 183.97 
" clip-path="url(#p1c36a8804c)" style="fill: none; stroke: #b4b4b4; stroke-opacity: 0.5; stroke-width: 1.5; stroke-linecap: square"/>
</g>
<g id="line2d_77">
<path d="M 116.14 133.21 
L 257.16 171.15 
" clip-path="url(#p1c36a8804c)" style="fill: none; stroke: #b4b4b4; stroke-opacity: 0.5; stroke-width: 1.5; stroke-linecap: square"/>
</g>
<g id="line2d_78">
<path d="M 138.11 144.98 
L 290.86 169.58 
" clip-path="url(#p1c36a8804c)" style="fill: none; stroke: #b4b4b4; stroke-opacity: 0.5; stroke-width: 1.5; stroke-linecap: square"/>
</g>
<g id="text_17">
<g transform="translate(83.80 24.03)">
<text><tspan x="0 9.45 19.8 23.34 30.57 38.21 42.02" y="-0.88" style="font-size: 12px; font-family: 'DejaVu Sans', sans-serif">OMIP1 O</tspan><tspan x="51.58" y="1.09" style="font-size: 8.4px; font-family: 'DejaVu Sans', sans-serif">2</tspan><tspan x="57.26 61.59 70.61 77.99 85.35 90.05 93.87 102.2 109.59 112.92 120.27 124.98 128.31 135.65 143.26 149.51 157.12 160.45 168.07 171.88 179.52 183.85 191.48 199.12 206.75" y="-0.88" style="font-size: 12px; font-family: 'DejaVu Sans', sans-serif">-Heat Relationship 0-700m</tspan></text>
</g>
</g>
<g id="line2d_79">
<path d="M 37.38 114.10 
L 348.74 221.13 
" clip-path="url(#p1c36a8804c)" style="fill: none; stroke: #000000; stroke-opacity: 0.33; stroke-width: 2.6"/>
</g>
<g id="line2d_80">
<path d="M 37.38 118.71 
L 335.37 224.29 
" clip-path="url(#p1c36a8804c)" style="fill: none; stroke: #00ffff; stroke-opacity: 0.4; stroke-width: 2.6"/>
</g>
<g id="line2d_81">
<path d="M 37.38 118.71 
L 335.37 224.29 
" clip-path="url(#p1c36a8804c)" style="fill: none; stroke-dasharray: 4.62,1.75; stroke-dashoffset: 0; stroke: #00f4ff; stroke-opacity: 0.72; stroke-width: 2.5"/>
</g>
<g id="line2d_82">
<path d="M 37.38 123.15 
L 348.74 224.12 
" clip-path="url(#p1c36a8804c)" style="fill: none; stroke: #000000; stroke-opacity: 0.8; stroke-width: 2.4; stroke-linecap: square"/>
</g>
<g id="line2d_83">
<path d="M 222.36 167.18 
L 339.58 210.56 
" clip-path="url(#p1c36a8804c)" style="fill: none; stroke-dasharray: 2.4,3.72; stroke-dashoffset: 0; stroke: #000000; stroke-opacity: 0.58; stroke-width: 2.4"/>
</g>
<g id="line2d_84">
<path d="M 93.06 119.33 
L 222.36 167.18 
" clip-path="url(#p1c36a8804c)" style="fill: none; stroke-dasharray: 5.06,1.03; stroke-dashoffset: 0; stroke: #000000; stroke-opacity: 0.58; stroke-width: 2.3"/>
</g>
<g id="line2d_85">
<path d="M 98.74 153.36 
L 293.97 163.95 
" clip-path="url(#p1c36a8804c)" style="fill: none; stroke: #0000ff; stroke-width: 2.6"/>
</g>
<g id="PathCollection_2">
<g clip-path="url(#p1c36a8804c)">
<circle cx="99.29" cy="130.59" r="2.65" style="fill: #0000ff"/>
</g>
<g clip-path="url(#p1c36a8804c)">
<circle cx="111.38" cy="131.9" r="2.65" style="fill: #0000ff"/>
</g>
<g clip-path="url(#p1c36a8804c)">
<circle cx="109.36" cy="137.4" r="2.65" style="fill: #0000ff"/>
</g>
<g clip-path="url(#p1c36a8804c)">
<circle cx="133.36" cy="132.69" r="2.65" style="fill: #0000ff"/>
</g>
<g clip-path="url(#p1c36a8804c)">
<circle cx="128.23" cy="147.34" r="2.65" style="fill: #0000ff"/>
</g>
<g clip-path="url(#p1c36a8804c)">
<circle cx="122.92" cy="154.41" r="2.65" style="fill: #0000ff"/>
</g>
<g clip-path="url(#p1c36a8804c)">
<circle cx="136.29" cy="153.36" r="2.65" style="fill: #0000ff"/>
</g>
<g clip-path="url(#p1c36a8804c)">
<circle cx="144.89" cy="149.96" r="2.65" style="fill: #0000ff"/>
</g>
<g clip-path="url(#p1c36a8804c)">
<circle cx="153.14" cy="138.18" r="2.65" style="fill: #0000ff"/>
</g>
<g clip-path="url(#p1c36a8804c)">
<circle cx="153.87" cy="147.34" r="2.65" style="fill: #0000ff"/>
</g>
<g clip-path="url(#p1c36a8804c)">
<circle cx="167.06" cy="144.99" r="2.65" style="fill: #0000ff"/>
</g>
<g clip-path="url(#p1c36a8804c)">
<circle cx="171.27" cy="151.01" r="2.65" style="fill: #0000ff"/>
</g>
<g clip-path="url(#p1c36a8804c)">
<circle cx="185.74" cy="142.37" r="2.65" style="fill: #0000ff"/>
</g>
<g clip-path="url(#p1c36a8804c)">
<circle cx="188.3" cy="146.03" r="2.65" style="fill: #0000ff"/>
</g>
<g clip-path="url(#p1c36a8804c)">
<circle cx="194.53" cy="133.74" r="2.65" style="fill: #0000ff"/>
</g>
<g clip-path="url(#p1c36a8804c)">
<circle cx="205.52" cy="136.35" r="2.65" style="fill: #0000ff"/>
</g>
<g clip-path="url(#p1c36a8804c)">
<circle cx="212.66" cy="138.45" r="2.65" style="fill: #0000ff"/>
</g>
<g clip-path="url(#p1c36a8804c)">
<circle cx="199.84" cy="143.94" r="2.65" style="fill: #0000ff"/>
</g>
<g clip-path="url(#p1c36a8804c)">
<circle cx="199.11" cy="148.13" r="2.65" style="fill: #0000ff"/>
</g>
<g clip-path="url(#p1c36a8804c)">
<circle cx="193.43" cy="157.29" r="2.65" style="fill: #0000ff"/>
</g>
<g clip-path="url(#p1c36a8804c)">
<circle cx="190.32" cy="160.69" r="2.65" style="fill: #0000ff"/>
</g>
<g clip-path="url(#p1c36a8804c)">
<circle cx="200.39" cy="159.12" r="2.65" style="fill: #0000ff"/>
</g>
<g clip-path="url(#p1c36a8804c)">
<circle cx="222.18" cy="160.69" r="2.65" style="fill: #0000ff"/>
</g>
<g clip-path="url(#p1c36a8804c)">
<circle cx="202.59" cy="167.23" r="2.65" style="fill: #0000ff"/>
</g>
<g clip-path="url(#p1c36a8804c)">
<circle cx="209.36" cy="166.18" r="2.65" style="fill: #0000ff"/>
</g>
<g clip-path="url(#p1c36a8804c)">
<circle cx="211.2" cy="170.37" r="2.65" style="fill: #0000ff"/>
</g>
<g clip-path="url(#p1c36a8804c)">
<circle cx="165.59" cy="171.42" r="2.65" style="fill: #0000ff"/>
</g>
<g clip-path="url(#p1c36a8804c)">
<circle cx="167.24" cy="176.91" r="2.65" style="fill: #0000ff"/>
</g>
<g clip-path="url(#p1c36a8804c)">
<circle cx="177.68" cy="170.89" r="2.65" style="fill: #0000ff"/>
</g>
<g clip-path="url(#p1c36a8804c)">
<circle cx="194.16" cy="173.25" r="2.65" style="fill: #0000ff"/>
</g>
<g clip-path="url(#p1c36a8804c)">
<circle cx="191.23" cy="177.7" r="2.65" style="fill: #0000ff"/>
</g>
<g clip-path="url(#p1c36a8804c)">
<circle cx="191.6" cy="180.57" r="2.65" style="fill: #0000ff"/>
</g>
<g clip-path="url(#p1c36a8804c)">
<circle cx="196.91" cy="181.88" r="2.65" style="fill: #0000ff"/>
</g>
<g clip-path="url(#p1c36a8804c)">
<circle cx="200.39" cy="182.14" r="2.65" style="fill: #0000ff"/>
</g>
<g clip-path="url(#p1c36a8804c)">
<circle cx="204.78" cy="180.84" r="2.65" style="fill: #0000ff"/>
</g>
<g clip-path="url(#p1c36a8804c)">
<circle cx="222.73" cy="179.79" r="2.65" style="fill: #0000ff"/>
</g>
<g clip-path="url(#p1c36a8804c)">
<circle cx="220.9" cy="185.81" r="2.65" style="fill: #0000ff"/>
</g>
<g clip-path="url(#p1c36a8804c)">
<circle cx="179.51" cy="190.52" r="2.65" style="fill: #0000ff"/>
</g>
<g clip-path="url(#p1c36a8804c)">
<circle cx="182.07" cy="189.73" r="2.65" style="fill: #0000ff"/>
</g>
<g clip-path="url(#p1c36a8804c)">
<circle cx="229.69" cy="189.73" r="2.65" style="fill: #0000ff"/>
</g>
<g clip-path="url(#p1c36a8804c)">
<circle cx="231.71" cy="189.99" r="2.65" style="fill: #0000ff"/>
</g>
<g clip-path="url(#p1c36a8804c)">
<circle cx="252.77" cy="136.88" r="2.65" style="fill: #0000ff"/>
</g>
<g clip-path="url(#p1c36a8804c)">
<circle cx="259.73" cy="134.78" r="2.65" style="fill: #0000ff"/>
</g>
<g clip-path="url(#p1c36a8804c)">
<circle cx="269.8" cy="134.78" r="2.65" style="fill: #0000ff"/>
</g>
<g clip-path="url(#p1c36a8804c)">
<circle cx="267.79" cy="139.75" r="2.65" style="fill: #0000ff"/>
</g>
<g clip-path="url(#p1c36a8804c)">
<circle cx="247.82" cy="151.27" r="2.65" style="fill: #0000ff"/>
</g>
<g clip-path="url(#p1c36a8804c)">
<circle cx="284.82" cy="146.03" r="2.65" style="fill: #0000ff"/>
</g>
<g clip-path="url(#p1c36a8804c)">
<circle cx="293.25" cy="150.74" r="2.65" style="fill: #0000ff"/>
</g>
</g>
</g>
<g id="axes_2">
<g id="patch_7">
<path d="M 390.96 288.90 
L 683.88 288.90 
L 683.88 27.73 
L 390.96 27.73 
z
" style="fill: #ffffff"/>
</g>
<g id="matplotlib.axis_3">
<g id="xtick_34">
<g id="line2d_86">
<path d="M 390.96 288.90 
L 390.96 27.73 
" clip-path="url(#paea2ed191d)" style="fill: none; stroke: #f0f0f0; stroke-width: 0.8; stroke-linecap: square"/>
</g>
<g id="line2d_87">
<g>
<path d="M 390.97 288.91 L 390.97 292.11" style="fill: #333333; stroke: #333333; stroke-width: 0.9"/>
</g>
</g>
<g id="text_18">
<text style="font-size: 10px; font-family: 'DejaVu Sans', sans-serif; text-anchor: middle" x="390.96" y="301.70" transform="rotate(-0 390.96 301.70)">−8</text>
</g>
</g>
<g id="xtick_35">
<g id="line2d_88">
<path d="M 427.58 288.90 
L 427.58 27.73 
" clip-path="url(#paea2ed191d)" style="fill: none; stroke: #f0f0f0; stroke-width: 0.8; stroke-linecap: square"/>
</g>
<g id="line2d_89">
<g>
<path d="M 427.58 288.91 L 427.58 292.11" style="fill: #333333; stroke: #333333; stroke-width: 0.9"/>
</g>
</g>
<g id="text_19">
<text style="font-size: 10px; font-family: 'DejaVu Sans', sans-serif; text-anchor: middle" x="427.58" y="301.70" transform="rotate(-0 427.58 301.70)">−6</text>
</g>
</g>
<g id="xtick_36">
<g id="line2d_90">
<path d="M 464.19 288.90 
L 464.19 27.73 
" clip-path="url(#paea2ed191d)" style="fill: none; stroke: #f0f0f0; stroke-width: 0.8; stroke-linecap: square"/>
</g>
<g id="line2d_91">
<g>
<path d="M 464.2 288.91 L 464.2 292.11" style="fill: #333333; stroke: #333333; stroke-width: 0.9"/>
</g>
</g>
<g id="text_20">
<text style="font-size: 10px; font-family: 'DejaVu Sans', sans-serif; text-anchor: middle" x="464.19" y="301.70" transform="rotate(-0 464.19 301.70)">−4</text>
</g>
</g>
<g id="xtick_37">
<g id="line2d_92">
<path d="M 500.81 288.90 
L 500.81 27.73 
" clip-path="url(#paea2ed191d)" style="fill: none; stroke: #f0f0f0; stroke-width: 0.8; stroke-linecap: square"/>
</g>
<g id="line2d_93">
<g>
<path d="M 500.81 288.91 L 500.81 292.11" style="fill: #333333; stroke: #333333; stroke-width: 0.9"/>
</g>
</g>
<g id="text_21">
<text style="font-size: 10px; font-family: 'DejaVu Sans', sans-serif; text-anchor: middle" x="500.81" y="301.70" transform="rotate(-0 500.81 301.70)">−2</text>
</g>
</g>
<g id="xtick_38">
<g id="line2d_94">
<path d="M 537.42 288.90 
L 537.42 27.73 
" clip-path="url(#paea2ed191d)" style="fill: none; stroke: #f0f0f0; stroke-width: 0.8; stroke-linecap: square"/>
</g>
<g id="line2d_95">
<g>
<path d="M 537.42 288.91 L 537.42 292.11" style="fill: #333333; stroke: #333333; stroke-width: 0.9"/>
</g>
</g>
<g id="text_22">
<text style="font-size: 10px; font-family: 'DejaVu Sans', sans-serif; text-anchor: middle" x="537.42" y="301.70" transform="rotate(-0 537.42 301.70)">0</text>
</g>
</g>
<g id="xtick_39">
<g id="line2d_96">
<path d="M 574.03 288.90 
L 574.03 27.73 
" clip-path="url(#paea2ed191d)" style="fill: none; stroke: #f0f0f0; stroke-width: 0.8; stroke-linecap: square"/>
</g>
<g id="line2d_97">
<g>
<path d="M 574.04 288.91 L 574.04 292.11" style="fill: #333333; stroke: #333333; stroke-width: 0.9"/>
</g>
</g>
<g id="text_23">
<text style="font-size: 10px; font-family: 'DejaVu Sans', sans-serif; text-anchor: middle" x="574.03" y="301.70" transform="rotate(-0 574.03 301.70)">2</text>
</g>
</g>
<g id="xtick_40">
<g id="line2d_98">
<path d="M 610.65 288.90 
L 610.65 27.73 
" clip-path="url(#paea2ed191d)" style="fill: none; stroke: #f0f0f0; stroke-width: 0.8; stroke-linecap: square"/>
</g>
<g id="line2d_99">
<g>
<path d="M 610.65 288.91 L 610.65 292.11" style="fill: #333333; stroke: #333333; stroke-width: 0.9"/>
</g>
</g>
<g id="text_24">
<text style="font-size: 10px; font-family: 'DejaVu Sans', sans-serif; text-anchor: middle" x="610.65" y="301.70" transform="rotate(-0 610.65 301.70)">4</text>
</g>
</g>
<g id="xtick_41">
<g id="line2d_100">
<path d="M 647.26 288.90 
L 647.26 27.73 
" clip-path="url(#paea2ed191d)" style="fill: none; stroke: #f0f0f0; stroke-width: 0.8; stroke-linecap: square"/>
</g>
<g id="line2d_101">
<g>
<path d="M 647.27 288.91 L 647.27 292.11" style="fill: #333333; stroke: #333333; stroke-width: 0.9"/>
</g>
</g>
<g id="text_25">
<text style="font-size: 10px; font-family: 'DejaVu Sans', sans-serif; text-anchor: middle" x="647.26" y="301.70" transform="rotate(-0 647.26 301.70)">6</text>
</g>
</g>
<g id="xtick_42">
<g id="line2d_102">
<path d="M 683.88 288.90 
L 683.88 27.73 
" clip-path="url(#paea2ed191d)" style="fill: none; stroke: #f0f0f0; stroke-width: 0.8; stroke-linecap: square"/>
</g>
<g id="line2d_103">
<g>
<path d="M 683.88 288.91 L 683.88 292.11" style="fill: #333333; stroke: #333333; stroke-width: 0.9"/>
</g>
</g>
<g id="text_26">
<text style="font-size: 10px; font-family: 'DejaVu Sans', sans-serif; text-anchor: middle" x="683.88" y="301.70" transform="rotate(-0 683.88 301.70)">8</text>
</g>
</g>
<g id="xtick_43">
<g id="line2d_104">
<g>
<path d="M 400.12 288.91 L 400.12 290.51" style="fill: #333333; stroke: #333333; stroke-width: 0.8"/>
</g>
</g>
</g>
<g id="xtick_44">
<g id="line2d_105">
<g>
<path d="M 409.27 288.91 L 409.27 290.51" style="fill: #333333; stroke: #333333; stroke-width: 0.8"/>
</g>
</g>
</g>
<g id="xtick_45">
<g id="line2d_106">
<g>
<path d="M 418.43 288.91 L 418.43 290.51" style="fill: #333333; stroke: #333333; stroke-width: 0.8"/>
</g>
</g>
</g>
<g id="xtick_46">
<g id="line2d_107">
<g>
<path d="M 436.74 288.91 L 436.74 290.51" style="fill: #333333; stroke: #333333; stroke-width: 0.8"/>
</g>
</g>
</g>
<g id="xtick_47">
<g id="line2d_108">
<g>
<path d="M 445.89 288.91 L 445.89 290.51" style="fill: #333333; stroke: #333333; stroke-width: 0.8"/>
</g>
</g>
</g>
<g id="xtick_48">
<g id="line2d_109">
<g>
<path d="M 455.04 288.91 L 455.04 290.51" style="fill: #333333; stroke: #333333; stroke-width: 0.8"/>
</g>
</g>
</g>
<g id="xtick_49">
<g id="line2d_110">
<g>
<path d="M 473.35 288.91 L 473.35 290.51" style="fill: #333333; stroke: #333333; stroke-width: 0.8"/>
</g>
</g>
</g>
<g id="xtick_50">
<g id="line2d_111">
<g>
<path d="M 482.5 288.91 L 482.5 290.51" style="fill: #333333; stroke: #333333; stroke-width: 0.8"/>
</g>
</g>
</g>
<g id="xtick_51">
<g id="line2d_112">
<g>
<path d="M 491.66 288.91 L 491.66 290.51" style="fill: #333333; stroke: #333333; stroke-width: 0.8"/>
</g>
</g>
</g>
<g id="xtick_52">
<g id="line2d_113">
<g>
<path d="M 509.96 288.91 L 509.96 290.51" style="fill: #333333; stroke: #333333; stroke-width: 0.8"/>
</g>
</g>
</g>
<g id="xtick_53">
<g id="line2d_114">
<g>
<path d="M 519.12 288.91 L 519.12 290.51" style="fill: #333333; stroke: #333333; stroke-width: 0.8"/>
</g>
</g>
</g>
<g id="xtick_54">
<g id="line2d_115">
<g>
<path d="M 528.27 288.91 L 528.27 290.51" style="fill: #333333; stroke: #333333; stroke-width: 0.8"/>
</g>
</g>
</g>
<g id="xtick_55">
<g id="line2d_116">
<g>
<path d="M 546.58 288.91 L 546.58 290.51" style="fill: #333333; stroke: #333333; stroke-width: 0.8"/>
</g>
</g>
</g>
<g id="xtick_56">
<g id="line2d_117">
<g>
<path d="M 555.73 288.91 L 555.73 290.51" style="fill: #333333; stroke: #333333; stroke-width: 0.8"/>
</g>
</g>
</g>
<g id="xtick_57">
<g id="line2d_118">
<g>
<path d="M 564.89 288.91 L 564.89 290.51" style="fill: #333333; stroke: #333333; stroke-width: 0.8"/>
</g>
</g>
</g>
<g id="xtick_58">
<g id="line2d_119">
<g>
<path d="M 583.19 288.91 L 583.19 290.51" style="fill: #333333; stroke: #333333; stroke-width: 0.8"/>
</g>
</g>
</g>
<g id="xtick_59">
<g id="line2d_120">
<g>
<path d="M 592.35 288.91 L 592.35 290.51" style="fill: #333333; stroke: #333333; stroke-width: 0.8"/>
</g>
</g>
</g>
<g id="xtick_60">
<g id="line2d_121">
<g>
<path d="M 601.5 288.91 L 601.5 290.51" style="fill: #333333; stroke: #333333; stroke-width: 0.8"/>
</g>
</g>
</g>
<g id="xtick_61">
<g id="line2d_122">
<g>
<path d="M 619.81 288.91 L 619.81 290.51" style="fill: #333333; stroke: #333333; stroke-width: 0.8"/>
</g>
</g>
</g>
<g id="xtick_62">
<g id="line2d_123">
<g>
<path d="M 628.96 288.91 L 628.96 290.51" style="fill: #333333; stroke: #333333; stroke-width: 0.8"/>
</g>
</g>
</g>
<g id="xtick_63">
<g id="line2d_124">
<g>
<path d="M 638.11 288.91 L 638.11 290.51" style="fill: #333333; stroke: #333333; stroke-width: 0.8"/>
</g>
</g>
</g>
<g id="xtick_64">
<g id="line2d_125">
<g>
<path d="M 656.42 288.91 L 656.42 290.51" style="fill: #333333; stroke: #333333; stroke-width: 0.8"/>
</g>
</g>
</g>
<g id="xtick_65">
<g id="line2d_126">
<g>
<path d="M 665.57 288.91 L 665.57 290.51" style="fill: #333333; stroke: #333333; stroke-width: 0.8"/>
</g>
</g>
</g>
<g id="xtick_66">
<g id="line2d_127">
<g>
<path d="M 674.73 288.91 L 674.73 290.51" style="fill: #333333; stroke: #333333; stroke-width: 0.8"/>
</g>
</g>
</g>
<g id="text_27">
<g transform="translate(498.24 318.00)">
<text><tspan x="0 9.45 18.47 26.85 30.66 40.72 44.53 52.17" y="-0.17" style="font-size: 12px; font-family: 'DejaVu Sans', sans-serif">OHC × 10</tspan><tspan x="59.92 65.26" y="-4.77" style="font-size: 8.4px; font-family: 'DejaVu Sans', sans-serif">22</tspan><tspan x="70.93 74.75" y="-0.17" style="font-size: 12px; font-family: 'DejaVu Sans', sans-serif"> J</tspan></text>
</g>
</g>
</g>
<g id="matplotlib.axis_4">
<g id="ytick_22">
<g id="line2d_128">
<path d="M 390.96 262.78 
L 683.88 262.78 
" clip-path="url(#paea2ed191d)" style="fill: none; stroke: #f0f0f0; stroke-width: 0.8; stroke-linecap: square"/>
</g>
<g id="line2d_129">
<g>
<path d="M 390.97 262.79 L 387.77 262.79" style="fill: #333333; stroke: #333333; stroke-width: 0.9"/>
</g>
</g>
<g id="text_28">
<text style="font-size: 10px; font-family: 'DejaVu Sans', sans-serif; text-anchor: end" x="386.26" y="266.58" transform="rotate(-0 386.26 266.58)">−4</text>
</g>
</g>
<g id="ytick_23">
<g id="line2d_130">
<path d="M 390.96 210.55 
L 683.88 210.55 
" clip-path="url(#paea2ed191d)" style="fill: none; stroke: #f0f0f0; stroke-width: 0.8; stroke-linecap: square"/>
</g>
<g id="line2d_131">
<g>
<path d="M 390.97 210.55 L 387.77 210.55" style="fill: #333333; stroke: #333333; stroke-width: 0.9"/>
</g>
</g>
<g id="text_29">
<text style="font-size: 10px; font-family: 'DejaVu Sans', sans-serif; text-anchor: end" x="386.26" y="214.35" transform="rotate(-0 386.26 214.35)">−2</text>
</g>
</g>
<g id="ytick_24">
<g id="line2d_132">
<path d="M 390.96 158.31 
L 683.88 158.31 
" clip-path="url(#paea2ed191d)" style="fill: none; stroke: #f0f0f0; stroke-width: 0.8; stroke-linecap: square"/>
</g>
<g id="line2d_133">
<g>
<path d="M 390.97 158.32 L 387.77 158.32" style="fill: #333333; stroke: #333333; stroke-width: 0.9"/>
</g>
</g>
<g id="text_30">
<text style="font-size: 10px; font-family: 'DejaVu Sans', sans-serif; text-anchor: end" x="386.26" y="162.11" transform="rotate(-0 386.26 162.11)">0</text>
</g>
</g>
<g id="ytick_25">
<g id="line2d_134">
<path d="M 390.96 106.08 
L 683.88 106.08 
" clip-path="url(#paea2ed191d)" style="fill: none; stroke: #f0f0f0; stroke-width: 0.8; stroke-linecap: square"/>
</g>
<g id="line2d_135">
<g>
<path d="M 390.97 106.08 L 387.77 106.08" style="fill: #333333; stroke: #333333; stroke-width: 0.9"/>
</g>
</g>
<g id="text_31">
<text style="font-size: 10px; font-family: 'DejaVu Sans', sans-serif; text-anchor: end" x="386.26" y="109.88" transform="rotate(-0 386.26 109.88)">2</text>
</g>
</g>
<g id="ytick_26">
<g id="line2d_136">
<path d="M 390.96 53.84 
L 683.88 53.84 
" clip-path="url(#paea2ed191d)" style="fill: none; stroke: #f0f0f0; stroke-width: 0.8; stroke-linecap: square"/>
</g>
<g id="line2d_137">
<g>
<path d="M 390.97 53.85 L 387.77 53.85" style="fill: #333333; stroke: #333333; stroke-width: 0.9"/>
</g>
</g>
<g id="text_32">
<text style="font-size: 10px; font-family: 'DejaVu Sans', sans-serif; text-anchor: end" x="386.26" y="57.64" transform="rotate(-0 386.26 57.64)">4</text>
</g>
</g>
<g id="ytick_27">
<g id="line2d_138">
<g>
<path d="M 390.97 288.91 L 389.37 288.91" style="fill: #333333; stroke: #333333; stroke-width: 0.8"/>
</g>
</g>
</g>
<g id="ytick_28">
<g id="line2d_139">
<g>
<path d="M 390.97 275.85 L 389.37 275.85" style="fill: #333333; stroke: #333333; stroke-width: 0.8"/>
</g>
</g>
</g>
<g id="ytick_29">
<g id="line2d_140">
<g>
<path d="M 390.97 249.73 L 389.37 249.73" style="fill: #333333; stroke: #333333; stroke-width: 0.8"/>
</g>
</g>
</g>
<g id="ytick_30">
<g id="line2d_141">
<g>
<path d="M 390.97 236.67 L 389.37 236.67" style="fill: #333333; stroke: #333333; stroke-width: 0.8"/>
</g>
</g>
</g>
<g id="ytick_31">
<g id="line2d_142">
<g>
<path d="M 390.97 223.61 L 389.37 223.61" style="fill: #333333; stroke: #333333; stroke-width: 0.8"/>
</g>
</g>
</g>
<g id="ytick_32">
<g id="line2d_143">
<g>
<path d="M 390.97 197.49 L 389.37 197.49" style="fill: #333333; stroke: #333333; stroke-width: 0.8"/>
</g>
</g>
</g>
<g id="ytick_33">
<g id="line2d_144">
<g>
<path d="M 390.97 184.44 L 389.37 184.44" style="fill: #333333; stroke: #333333; stroke-width: 0.8"/>
</g>
</g>
</g>
<g id="ytick_34">
<g id="line2d_145">
<g>
<path d="M 390.97 171.38 L 389.37 171.38" style="fill: #333333; stroke: #333333; stroke-width: 0.8"/>
</g>
</g>
</g>
<g id="ytick_35">
<g id="line2d_146">
<g>
<path d="M 390.97 145.26 L 389.37 145.26" style="fill: #333333; stroke: #333333; stroke-width: 0.8"/>
</g>
</g>
</g>
<g id="ytick_36">
<g id="line2d_147">
<g>
<path d="M 390.97 132.2 L 389.37 132.2" style="fill: #333333; stroke: #333333; stroke-width: 0.8"/>
</g>
</g>
</g>
<g id="ytick_37">
<g id="line2d_148">
<g>
<path d="M 390.97 119.14 L 389.37 119.14" style="fill: #333333; stroke: #333333; stroke-width: 0.8"/>
</g>
</g>
</g>
<g id="ytick_38">
<g id="line2d_149">
<g>
<path d="M 390.97 93.02 L 389.37 93.02" style="fill: #333333; stroke: #333333; stroke-width: 0.8"/>
</g>
</g>
</g>
<g id="ytick_39">
<g id="line2d_150">
<g>
<path d="M 390.97 79.97 L 389.37 79.97" style="fill: #333333; stroke: #333333; stroke-width: 0.8"/>
</g>
</g>
</g>
<g id="ytick_40">
<g id="line2d_151">
<g>
<path d="M 390.97 66.91 L 389.37 66.91" style="fill: #333333; stroke: #333333; stroke-width: 0.8"/>
</g>
</g>
</g>
<g id="ytick_41">
<g id="line2d_152">
<g>
<path d="M 390.97 40.79 L 389.37 40.79" style="fill: #333333; stroke: #333333; stroke-width: 0.8"/>
</g>
</g>
</g>
<g id="ytick_42">
<g id="line2d_153">
<g>
<path d="M 390.97 27.73 L 389.37 27.73" style="fill: #333333; stroke: #333333; stroke-width: 0.8"/>
</g>
</g>
</g>
<g id="text_33">
<g transform="translate(365.12 210.21) rotate(-90)">
<text><tspan x="0" y="-0.28" style="font-size: 12px; font-family: 'DejaVu Sans', sans-serif">O</tspan><tspan x="9.56" y="1.69" style="font-size: 8.4px; font-family: 'DejaVu Sans', sans-serif">2</tspan><tspan x="15.23 18.77 26.38 33.48 37.29 47.35 51.16 58.8" y="-0.28" style="font-size: 12px; font-family: 'DejaVu Sans', sans-serif">Inv × 10</tspan><tspan x="66.55 71.89" y="-4.88" style="font-size: 8.4px; font-family: 'DejaVu Sans', sans-serif">14</tspan><tspan x="77.56 81.38 93.07 100.41" y="-0.28" style="font-size: 12px; font-family: 'DejaVu Sans', sans-serif"> mol</tspan></text>
</g>
</g>
</g>
<g id="PathCollection_3">
<g clip-path="url(#paea2ed191d)">
<circle cx="451.38" cy="78.92" r="2.74" style="fill: #cccccc; fill-opacity: 0.38"/>
</g>
<g clip-path="url(#paea2ed191d)">
<circle cx="446.07" cy="94.07" r="2.74" style="fill: #cccccc; fill-opacity: 0.38"/>
</g>
<g clip-path="url(#paea2ed191d)">
<circle cx="456.69" cy="95.64" r="2.74" style="fill: #cccccc; fill-opacity: 0.38"/>
</g>
<g clip-path="url(#paea2ed191d)">
<circle cx="461.27" cy="89.11" r="2.74" style="fill: #cccccc; fill-opacity: 0.38"/>
</g>
<g clip-path="url(#paea2ed191d)">
<circle cx="467.49" cy="91.98" r="2.74" style="fill: #cccccc; fill-opacity: 0.38"/>
</g>
<g clip-path="url(#paea2ed191d)">
<circle cx="458.7" cy="102.43" r="2.74" style="fill: #cccccc; fill-opacity: 0.38"/>
</g>
<g clip-path="url(#paea2ed191d)">
<circle cx="464.38" cy="108.96" r="2.74" style="fill: #cccccc; fill-opacity: 0.38"/>
</g>
<g clip-path="url(#paea2ed191d)">
<circle cx="471.7" cy="108.43" r="2.74" style="fill: #cccccc; fill-opacity: 0.38"/>
</g>
<g clip-path="url(#paea2ed191d)">
<circle cx="503.37" cy="82.84" r="2.74" style="fill: #cccccc; fill-opacity: 0.38"/>
</g>
<g clip-path="url(#paea2ed191d)">
<circle cx="510.88" cy="90.93" r="2.74" style="fill: #cccccc; fill-opacity: 0.38"/>
</g>
<g clip-path="url(#paea2ed191d)">
<circle cx="500.81" cy="93.29" r="2.74" style="fill: #cccccc; fill-opacity: 0.38"/>
</g>
<g clip-path="url(#paea2ed191d)">
<circle cx="493.85" cy="102.43" r="2.74" style="fill: #cccccc; fill-opacity: 0.38"/>
</g>
<g clip-path="url(#paea2ed191d)">
<circle cx="504.65" cy="108.96" r="2.74" style="fill: #cccccc; fill-opacity: 0.38"/>
</g>
<g clip-path="url(#paea2ed191d)">
<circle cx="519.3" cy="106.87" r="2.74" style="fill: #cccccc; fill-opacity: 0.38"/>
</g>
<g clip-path="url(#paea2ed191d)">
<circle cx="439.11" cy="115.49" r="2.74" style="fill: #cccccc; fill-opacity: 0.38"/>
</g>
<g clip-path="url(#paea2ed191d)">
<circle cx="448.63" cy="119.66" r="2.74" style="fill: #cccccc; fill-opacity: 0.38"/>
</g>
<g clip-path="url(#paea2ed191d)">
<circle cx="453.58" cy="123.32" r="2.74" style="fill: #cccccc; fill-opacity: 0.38"/>
</g>
<g clip-path="url(#paea2ed191d)">
<circle cx="477.56" cy="119.66" r="2.74" style="fill: #cccccc; fill-opacity: 0.38"/>
</g>
<g clip-path="url(#paea2ed191d)">
<circle cx="478.66" cy="123.32" r="2.74" style="fill: #cccccc; fill-opacity: 0.38"/>
</g>
<g clip-path="url(#paea2ed191d)">
<circle cx="466.21" cy="126.19" r="2.74" style="fill: #cccccc; fill-opacity: 0.38"/>
</g>
<g clip-path="url(#paea2ed191d)">
<circle cx="473.72" cy="127.5" r="2.74" style="fill: #cccccc; fill-opacity: 0.38"/>
</g>
<g clip-path="url(#paea2ed191d)">
<circle cx="501.36" cy="122.54" r="2.74" style="fill: #cccccc; fill-opacity: 0.38"/>
</g>
<g clip-path="url(#paea2ed191d)">
<circle cx="498.8" cy="129.07" r="2.74" style="fill: #cccccc; fill-opacity: 0.38"/>
</g>
<g clip-path="url(#paea2ed191d)">
<circle cx="492.57" cy="123.84" r="2.74" style="fill: #cccccc; fill-opacity: 0.38"/>
</g>
<g clip-path="url(#paea2ed191d)">
<circle cx="526.44" cy="119.14" r="2.74" style="fill: #cccccc; fill-opacity: 0.38"/>
</g>
<g clip-path="url(#paea2ed191d)">
<circle cx="533.4" cy="116.79" r="2.74" style="fill: #cccccc; fill-opacity: 0.38"/>
</g>
<g clip-path="url(#paea2ed191d)">
<circle cx="529.37" cy="124.63" r="2.74" style="fill: #cccccc; fill-opacity: 0.38"/>
</g>
<g clip-path="url(#paea2ed191d)">
<circle cx="511.43" cy="132.72" r="2.74" style="fill: #cccccc; fill-opacity: 0.38"/>
</g>
<g clip-path="url(#paea2ed191d)">
<circle cx="523.33" cy="136.12" r="2.74" style="fill: #cccccc; fill-opacity: 0.38"/>
</g>
<g clip-path="url(#paea2ed191d)">
<circle cx="528.45" cy="135.6" r="2.74" style="fill: #cccccc; fill-opacity: 0.38"/>
</g>
<g clip-path="url(#paea2ed191d)">
<circle cx="532.66" cy="139.51" r="2.74" style="fill: #cccccc; fill-opacity: 0.38"/>
</g>
<g clip-path="url(#paea2ed191d)">
<circle cx="536.88" cy="137.69" r="2.74" style="fill: #cccccc; fill-opacity: 0.38"/>
</g>
<g clip-path="url(#paea2ed191d)">
<circle cx="508.87" cy="137.69" r="2.74" style="fill: #cccccc; fill-opacity: 0.38"/>
</g>
<g clip-path="url(#paea2ed191d)">
<circle cx="516.37" cy="147.61" r="2.74" style="fill: #cccccc; fill-opacity: 0.38"/>
</g>
<g clip-path="url(#paea2ed191d)">
<circle cx="533.4" cy="144.74" r="2.74" style="fill: #cccccc; fill-opacity: 0.38"/>
</g>
<g clip-path="url(#paea2ed191d)">
<circle cx="507.58" cy="155.71" r="2.74" style="fill: #cccccc; fill-opacity: 0.38"/>
</g>
<g clip-path="url(#paea2ed191d)">
<circle cx="535.23" cy="153.36" r="2.74" style="fill: #cccccc; fill-opacity: 0.38"/>
</g>
<g clip-path="url(#paea2ed191d)">
<circle cx="544.38" cy="132.72" r="2.74" style="fill: #cccccc; fill-opacity: 0.38"/>
</g>
<g clip-path="url(#paea2ed191d)">
<circle cx="544.93" cy="139.51" r="2.74" style="fill: #cccccc; fill-opacity: 0.38"/>
</g>
<g clip-path="url(#paea2ed191d)">
<circle cx="549.51" cy="142.39" r="2.74" style="fill: #cccccc; fill-opacity: 0.38"/>
</g>
<g clip-path="url(#paea2ed191d)">
<circle cx="548.78" cy="147.61" r="2.74" style="fill: #cccccc; fill-opacity: 0.38"/>
</g>
<g clip-path="url(#paea2ed191d)">
<circle cx="559.94" cy="151.79" r="2.74" style="fill: #cccccc; fill-opacity: 0.38"/>
</g>
<g clip-path="url(#paea2ed191d)">
<circle cx="557.01" cy="153.36" r="2.74" style="fill: #cccccc; fill-opacity: 0.38"/>
</g>
<g clip-path="url(#paea2ed191d)">
<circle cx="551.89" cy="153.36" r="2.74" style="fill: #cccccc; fill-opacity: 0.38"/>
</g>
<g clip-path="url(#paea2ed191d)">
<circle cx="490.19" cy="164.06" r="2.74" style="fill: #cccccc; fill-opacity: 0.38"/>
</g>
<g clip-path="url(#paea2ed191d)">
<circle cx="497.7" cy="166.41" r="2.74" style="fill: #cccccc; fill-opacity: 0.38"/>
</g>
<g clip-path="url(#paea2ed191d)">
<circle cx="494.59" cy="178.95" r="2.74" style="fill: #cccccc; fill-opacity: 0.38"/>
</g>
<g clip-path="url(#paea2ed191d)">
<circle cx="497.7" cy="181.3" r="2.74" style="fill: #cccccc; fill-opacity: 0.38"/>
</g>
<g clip-path="url(#paea2ed191d)">
<circle cx="506.3" cy="173.99" r="2.74" style="fill: #cccccc; fill-opacity: 0.38"/>
</g>
<g clip-path="url(#paea2ed191d)">
<circle cx="511.98" cy="177.91" r="2.74" style="fill: #cccccc; fill-opacity: 0.38"/>
</g>
<g clip-path="url(#paea2ed191d)">
<circle cx="516.92" cy="176.08" r="2.74" style="fill: #cccccc; fill-opacity: 0.38"/>
</g>
<g clip-path="url(#paea2ed191d)">
<circle cx="520.77" cy="183.91" r="2.74" style="fill: #cccccc; fill-opacity: 0.38"/>
</g>
<g clip-path="url(#paea2ed191d)">
<circle cx="525.71" cy="183.39" r="2.74" style="fill: #cccccc; fill-opacity: 0.38"/>
</g>
<g clip-path="url(#paea2ed191d)">
<circle cx="530.65" cy="184.7" r="2.74" style="fill: #cccccc; fill-opacity: 0.38"/>
</g>
<g clip-path="url(#paea2ed191d)">
<circle cx="533.76" cy="192.01" r="2.74" style="fill: #cccccc; fill-opacity: 0.38"/>
</g>
<g clip-path="url(#paea2ed191d)">
<circle cx="528.64" cy="196.71" r="2.74" style="fill: #cccccc; fill-opacity: 0.38"/>
</g>
<g clip-path="url(#paea2ed191d)">
<circle cx="533.21" cy="201.15" r="2.74" style="fill: #cccccc; fill-opacity: 0.38"/>
</g>
<g clip-path="url(#paea2ed191d)">
<circle cx="513.26" cy="186.79" r="2.74" style="fill: #cccccc; fill-opacity: 0.38"/>
</g>
<g clip-path="url(#paea2ed191d)">
<circle cx="508.32" cy="166.94" r="2.74" style="fill: #cccccc; fill-opacity: 0.38"/>
</g>
<g clip-path="url(#paea2ed191d)">
<circle cx="503.19" cy="165.63" r="2.74" style="fill: #cccccc; fill-opacity: 0.38"/>
</g>
<g clip-path="url(#paea2ed191d)">
<circle cx="541.09" cy="178.43" r="2.74" style="fill: #cccccc; fill-opacity: 0.38"/>
</g>
<g clip-path="url(#paea2ed191d)">
<circle cx="582.28" cy="161.19" r="2.74" style="fill: #cccccc; fill-opacity: 0.38"/>
</g>
<g clip-path="url(#paea2ed191d)">
<circle cx="591.06" cy="160.67" r="2.74" style="fill: #cccccc; fill-opacity: 0.38"/>
</g>
<g clip-path="url(#paea2ed191d)">
<circle cx="597.29" cy="162.76" r="2.74" style="fill: #cccccc; fill-opacity: 0.38"/>
</g>
<g clip-path="url(#paea2ed191d)">
<circle cx="587.4" cy="168.5" r="2.74" style="fill: #cccccc; fill-opacity: 0.38"/>
</g>
<g clip-path="url(#paea2ed191d)">
<circle cx="614.68" cy="169.81" r="2.74" style="fill: #cccccc; fill-opacity: 0.38"/>
</g>
<g clip-path="url(#paea2ed191d)">
<circle cx="616.69" cy="165.63" r="2.74" style="fill: #cccccc; fill-opacity: 0.38"/>
</g>
<g clip-path="url(#paea2ed191d)">
<circle cx="619.81" cy="162.76" r="2.74" style="fill: #cccccc; fill-opacity: 0.38"/>
</g>
<g clip-path="url(#paea2ed191d)">
<circle cx="615.96" cy="175.56" r="2.74" style="fill: #cccccc; fill-opacity: 0.38"/>
</g>
<g clip-path="url(#paea2ed191d)">
<circle cx="634.82" cy="166.94" r="2.74" style="fill: #cccccc; fill-opacity: 0.38"/>
</g>
<g clip-path="url(#paea2ed191d)">
<circle cx="633.54" cy="173.99" r="2.74" style="fill: #cccccc; fill-opacity: 0.38"/>
</g>
<g clip-path="url(#paea2ed191d)">
<circle cx="635.92" cy="179.73" r="2.74" style="fill: #cccccc; fill-opacity: 0.38"/>
</g>
<g clip-path="url(#paea2ed191d)">
<circle cx="627.31" cy="171.38" r="2.74" style="fill: #cccccc; fill-opacity: 0.38"/>
</g>
<g clip-path="url(#paea2ed191d)">
<circle cx="649.65" cy="177.91" r="2.74" style="fill: #cccccc; fill-opacity: 0.38"/>
</g>
<g clip-path="url(#paea2ed191d)">
<circle cx="656.6" cy="196.71" r="2.74" style="fill: #cccccc; fill-opacity: 0.38"/>
</g>
<g clip-path="url(#paea2ed191d)">
<circle cx="661.73" cy="196.19" r="2.74" style="fill: #cccccc; fill-opacity: 0.38"/>
</g>
<g clip-path="url(#paea2ed191d)">
<circle cx="624.75" cy="185.48" r="2.74" style="fill: #cccccc; fill-opacity: 0.38"/>
</g>
<g clip-path="url(#paea2ed191d)">
<circle cx="612.3" cy="178.43" r="2.74" style="fill: #cccccc; fill-opacity: 0.38"/>
</g>
<g clip-path="url(#paea2ed191d)">
<circle cx="598.39" cy="162.24" r="2.74" style="fill: #cccccc; fill-opacity: 0.38"/>
</g>
<g clip-path="url(#paea2ed191d)">
<circle cx="619.44" cy="162.76" r="2.74" style="fill: #cccccc; fill-opacity: 0.38"/>
</g>
<g clip-path="url(#paea2ed191d)">
<circle cx="616.15" cy="166.15" r="2.74" style="fill: #cccccc; fill-opacity: 0.38"/>
</g>
<g clip-path="url(#paea2ed191d)">
<circle cx="614.68" cy="170.07" r="2.74" style="fill: #cccccc; fill-opacity: 0.38"/>
</g>
<g clip-path="url(#paea2ed191d)">
<circle cx="615.41" cy="174.25" r="2.74" style="fill: #cccccc; fill-opacity: 0.38"/>
</g>
<g clip-path="url(#paea2ed191d)">
<circle cx="618.16" cy="178.17" r="2.74" style="fill: #cccccc; fill-opacity: 0.38"/>
</g>
<g clip-path="url(#paea2ed191d)">
<circle cx="627.13" cy="171.64" r="2.74" style="fill: #cccccc; fill-opacity: 0.38"/>
</g>
<g clip-path="url(#paea2ed191d)">
<circle cx="633.72" cy="173.99" r="2.74" style="fill: #cccccc; fill-opacity: 0.38"/>
</g>
<g clip-path="url(#paea2ed191d)">
<circle cx="635.37" cy="167.46" r="2.74" style="fill: #cccccc; fill-opacity: 0.38"/>
</g>
<g clip-path="url(#paea2ed191d)">
<circle cx="635.37" cy="180" r="2.74" style="fill: #cccccc; fill-opacity: 0.38"/>
</g>
<g clip-path="url(#paea2ed191d)">
<circle cx="649.28" cy="177.91" r="2.74" style="fill: #cccccc; fill-opacity: 0.38"/>
</g>
<g clip-path="url(#paea2ed191d)">
<circle cx="656.79" cy="196.45" r="2.74" style="fill: #cccccc; fill-opacity: 0.38"/>
</g>
<g clip-path="url(#paea2ed191d)">
<circle cx="662.28" cy="196.45" r="2.74" style="fill: #cccccc; fill-opacity: 0.38"/>
</g>
<g clip-path="url(#paea2ed191d)">
<circle cx="521.8" cy="178.87" r="2.74" style="fill: #cccccc; fill-opacity: 0.38"/>
</g>
<g clip-path="url(#paea2ed191d)">
<circle cx="529.01" cy="163.17" r="2.74" style="fill: #cccccc; fill-opacity: 0.38"/>
</g>
<g clip-path="url(#paea2ed191d)">
<circle cx="545.43" cy="158.36" r="2.74" style="fill: #cccccc; fill-opacity: 0.38"/>
</g>
<g clip-path="url(#paea2ed191d)">
<circle cx="541.65" cy="176.76" r="2.74" style="fill: #cccccc; fill-opacity: 0.38"/>
</g>
<g clip-path="url(#paea2ed191d)">
<circle cx="537.55" cy="188.49" r="2.74" style="fill: #cccccc; fill-opacity: 0.38"/>
</g>
<g clip-path="url(#paea2ed191d)">
<circle cx="506.04" cy="185.49" r="2.74" style="fill: #cccccc; fill-opacity: 0.38"/>
</g>
<g clip-path="url(#paea2ed191d)">
<circle cx="543.61" cy="155.29" r="2.74" style="fill: #cccccc; fill-opacity: 0.38"/>
</g>
<g clip-path="url(#paea2ed191d)">
<circle cx="555.17" cy="175.74" r="2.74" style="fill: #cccccc; fill-opacity: 0.38"/>
</g>
<g clip-path="url(#paea2ed191d)">
<circle cx="552.25" cy="166.88" r="2.74" style="fill: #cccccc; fill-opacity: 0.38"/>
</g>
<g clip-path="url(#paea2ed191d)">
<circle cx="538.04" cy="161.79" r="2.74" style="fill: #cccccc; fill-opacity: 0.38"/>
</g>
<g clip-path="url(#paea2ed191d)">
<circle cx="505.25" cy="155.95" r="2.74" style="fill: #cccccc; fill-opacity: 0.38"/>
</g>
<g clip-path="url(#paea2ed191d)">
<circle cx="551.02" cy="169.66" r="2.74" style="fill: #cccccc; fill-opacity: 0.38"/>
</g>
<g clip-path="url(#paea2ed191d)">
<circle cx="531.07" cy="157.68" r="2.74" style="fill: #cccccc; fill-opacity: 0.38"/>
</g>
<g clip-path="url(#paea2ed191d)">
<circle cx="540.67" cy="170.04" r="2.74" style="fill: #cccccc; fill-opacity: 0.38"/>
</g>
<g clip-path="url(#paea2ed191d)">
<circle cx="506.45" cy="179.56" r="2.74" style="fill: #cccccc; fill-opacity: 0.38"/>
</g>
<g clip-path="url(#paea2ed191d)">
<circle cx="510.03" cy="148.59" r="2.74" style="fill: #cccccc; fill-opacity: 0.38"/>
</g>
<g clip-path="url(#paea2ed191d)">
<circle cx="522.14" cy="165.24" r="2.74" style="fill: #cccccc; fill-opacity: 0.38"/>
</g>
<g clip-path="url(#paea2ed191d)">
<circle cx="557.06" cy="175.47" r="2.74" style="fill: #cccccc; fill-opacity: 0.38"/>
</g>
<g clip-path="url(#paea2ed191d)">
<circle cx="526.97" cy="169.91" r="2.74" style="fill: #cccccc; fill-opacity: 0.38"/>
</g>
<g clip-path="url(#paea2ed191d)">
<circle cx="538.72" cy="168.03" r="2.74" style="fill: #cccccc; fill-opacity: 0.38"/>
</g>
<g clip-path="url(#paea2ed191d)">
<circle cx="565.76" cy="154.78" r="2.74" style="fill: #cccccc; fill-opacity: 0.38"/>
</g>
<g clip-path="url(#paea2ed191d)">
<circle cx="531.87" cy="179.75" r="2.74" style="fill: #cccccc; fill-opacity: 0.38"/>
</g>
<g clip-path="url(#paea2ed191d)">
<circle cx="529.34" cy="170.28" r="2.74" style="fill: #cccccc; fill-opacity: 0.38"/>
</g>
<g clip-path="url(#paea2ed191d)">
<circle cx="510.68" cy="128.47" r="2.74" style="fill: #cccccc; fill-opacity: 0.38"/>
</g>
<g clip-path="url(#paea2ed191d)">
<circle cx="521.05" cy="151.12" r="2.74" style="fill: #cccccc; fill-opacity: 0.38"/>
</g>
<g clip-path="url(#paea2ed191d)">
<circle cx="541.55" cy="166.45" r="2.74" style="fill: #cccccc; fill-opacity: 0.38"/>
</g>
<g clip-path="url(#paea2ed191d)">
<circle cx="541.01" cy="154.62" r="2.74" style="fill: #cccccc; fill-opacity: 0.38"/>
</g>
<g clip-path="url(#paea2ed191d)">
<circle cx="535.78" cy="135.29" r="2.74" style="fill: #cccccc; fill-opacity: 0.38"/>
</g>
<g clip-path="url(#paea2ed191d)">
<circle cx="551.98" cy="168.2" r="2.74" style="fill: #cccccc; fill-opacity: 0.38"/>
</g>
<g clip-path="url(#paea2ed191d)">
<circle cx="519.62" cy="170.11" r="2.74" style="fill: #cccccc; fill-opacity: 0.38"/>
</g>
<g clip-path="url(#paea2ed191d)">
<circle cx="532.74" cy="147.44" r="2.74" style="fill: #cccccc; fill-opacity: 0.38"/>
</g>
<g clip-path="url(#paea2ed191d)">
<circle cx="547.15" cy="157.75" r="2.74" style="fill: #cccccc; fill-opacity: 0.38"/>
</g>
<g clip-path="url(#paea2ed191d)">
<circle cx="544.46" cy="155.2" r="2.74" style="fill: #cccccc; fill-opacity: 0.38"/>
</g>
<g clip-path="url(#paea2ed191d)">
<circle cx="553.37" cy="172.15" r="2.74" style="fill: #cccccc; fill-opacity: 0.38"/>
</g>
<g clip-path="url(#paea2ed191d)">
<circle cx="541.03" cy="137.21" r="2.74" style="fill: #cccccc; fill-opacity: 0.38"/>
</g>
<g clip-path="url(#paea2ed191d)">
<circle cx="528.1" cy="140.29" r="2.74" style="fill: #cccccc; fill-opacity: 0.38"/>
</g>
<g clip-path="url(#paea2ed191d)">
<circle cx="540.39" cy="156.72" r="2.74" style="fill: #cccccc; fill-opacity: 0.38"/>
</g>
<g clip-path="url(#paea2ed191d)">
<circle cx="515.41" cy="155.02" r="2.74" style="fill: #cccccc; fill-opacity: 0.38"/>
</g>
<g clip-path="url(#paea2ed191d)">
<circle cx="503.75" cy="193.97" r="2.74" style="fill: #cccccc; fill-opacity: 0.38"/>
</g>
<g clip-path="url(#paea2ed191d)">
<circle cx="544.39" cy="155.69" r="2.74" style="fill: #cccccc; fill-opacity: 0.38"/>
</g>
<g clip-path="url(#paea2ed191d)">
<circle cx="532.75" cy="167.64" r="2.74" style="fill: #cccccc; fill-opacity: 0.38"/>
</g>
<g clip-path="url(#paea2ed191d)">
<circle cx="539.41" cy="158.61" r="2.74" style="fill: #cccccc; fill-opacity: 0.38"/>
</g>
<g clip-path="url(#paea2ed191d)">
<circle cx="502.68" cy="155.04" r="2.74" style="fill: #cccccc; fill-opacity: 0.38"/>
</g>
<g clip-path="url(#paea2ed191d)">
<circle cx="527.08" cy="169.75" r="2.74" style="fill: #cccccc; fill-opacity: 0.38"/>
</g>
<g clip-path="url(#paea2ed191d)">
<circle cx="522.78" cy="189.13" r="2.74" style="fill: #cccccc; fill-opacity: 0.38"/>
</g>
<g clip-path="url(#paea2ed191d)">
<circle cx="517.94" cy="159.56" r="2.74" style="fill: #cccccc; fill-opacity: 0.38"/>
</g>
<g clip-path="url(#paea2ed191d)">
<circle cx="492.48" cy="175.5" r="2.74" style="fill: #cccccc; fill-opacity: 0.38"/>
</g>
<g clip-path="url(#paea2ed191d)">
<circle cx="527.63" cy="169.59" r="2.74" style="fill: #cccccc; fill-opacity: 0.38"/>
</g>
<g clip-path="url(#paea2ed191d)">
<circle cx="550.19" cy="173.53" r="2.74" style="fill: #cccccc; fill-opacity: 0.38"/>
</g>
<g clip-path="url(#paea2ed191d)">
<circle cx="540.74" cy="169.75" r="2.74" style="fill: #cccccc; fill-opacity: 0.38"/>
</g>
<g clip-path="url(#paea2ed191d)">
<circle cx="522.76" cy="198.02" r="2.74" style="fill: #cccccc; fill-opacity: 0.38"/>
</g>
<g clip-path="url(#paea2ed191d)">
<circle cx="533.49" cy="147.37" r="2.74" style="fill: #cccccc; fill-opacity: 0.38"/>
</g>
<g clip-path="url(#paea2ed191d)">
<circle cx="547.62" cy="161.21" r="2.74" style="fill: #cccccc; fill-opacity: 0.38"/>
</g>
<g clip-path="url(#paea2ed191d)">
<circle cx="531.48" cy="136.41" r="2.74" style="fill: #cccccc; fill-opacity: 0.38"/>
</g>
<g clip-path="url(#paea2ed191d)">
<circle cx="543.71" cy="164.52" r="2.74" style="fill: #cccccc; fill-opacity: 0.38"/>
</g>
<g clip-path="url(#paea2ed191d)">
<circle cx="546.25" cy="190.74" r="2.74" style="fill: #cccccc; fill-opacity: 0.38"/>
</g>
<g clip-path="url(#paea2ed191d)">
<circle cx="564.9" cy="177.69" r="2.74" style="fill: #cccccc; fill-opacity: 0.38"/>
</g>
<g clip-path="url(#paea2ed191d)">
<circle cx="539.49" cy="172.06" r="2.74" style="fill: #cccccc; fill-opacity: 0.38"/>
</g>
<g clip-path="url(#paea2ed191d)">
<circle cx="539.29" cy="163.7" r="2.74" style="fill: #cccccc; fill-opacity: 0.38"/>
</g>
<g clip-path="url(#paea2ed191d)">
<circle cx="548.17" cy="193.61" r="2.74" style="fill: #cccccc; fill-opacity: 0.38"/>
</g>
<g clip-path="url(#paea2ed191d)">
<circle cx="523.89" cy="159.93" r="2.74" style="fill: #cccccc; fill-opacity: 0.38"/>
</g>
<g clip-path="url(#paea2ed191d)">
<circle cx="533.03" cy="186.54" r="2.74" style="fill: #cccccc; fill-opacity: 0.38"/>
</g>
<g clip-path="url(#paea2ed191d)">
<circle cx="550.35" cy="160.58" r="2.74" style="fill: #cccccc; fill-opacity: 0.38"/>
</g>
<g clip-path="url(#paea2ed191d)">
<circle cx="569.6" cy="166.42" r="2.74" style="fill: #cccccc; fill-opacity: 0.38"/>
</g>
<g clip-path="url(#paea2ed191d)">
<circle cx="530.85" cy="169.35" r="2.74" style="fill: #cccccc; fill-opacity: 0.38"/>
</g>
<g clip-path="url(#paea2ed191d)">
<circle cx="532.88" cy="165.9" r="2.74" style="fill: #cccccc; fill-opacity: 0.38"/>
</g>
<g clip-path="url(#paea2ed191d)">
<circle cx="537.4" cy="172.6" r="2.74" style="fill: #cccccc; fill-opacity: 0.38"/>
</g>
<g clip-path="url(#paea2ed191d)">
<circle cx="558.35" cy="173.65" r="2.74" style="fill: #cccccc; fill-opacity: 0.38"/>
</g>
<g clip-path="url(#paea2ed191d)">
<circle cx="533.21" cy="189.02" r="2.74" style="fill: #cccccc; fill-opacity: 0.38"/>
</g>
<g clip-path="url(#paea2ed191d)">
<circle cx="560.66" cy="165.27" r="2.74" style="fill: #cccccc; fill-opacity: 0.38"/>
</g>
<g clip-path="url(#paea2ed191d)">
<circle cx="516.07" cy="138.34" r="2.74" style="fill: #cccccc; fill-opacity: 0.38"/>
</g>
<g clip-path="url(#paea2ed191d)">
<circle cx="530.36" cy="136.4" r="2.74" style="fill: #cccccc; fill-opacity: 0.38"/>
</g>
<g clip-path="url(#paea2ed191d)">
<circle cx="530.14" cy="145.86" r="2.74" style="fill: #cccccc; fill-opacity: 0.38"/>
</g>
<g clip-path="url(#paea2ed191d)">
<circle cx="548.16" cy="154.71" r="2.74" style="fill: #cccccc; fill-opacity: 0.38"/>
</g>
<g clip-path="url(#paea2ed191d)">
<circle cx="552.9" cy="174.56" r="2.74" style="fill: #cccccc; fill-opacity: 0.38"/>
</g>
<g clip-path="url(#paea2ed191d)">
<circle cx="506.13" cy="144.12" r="2.74" style="fill: #cccccc; fill-opacity: 0.38"/>
</g>
<g clip-path="url(#paea2ed191d)">
<circle cx="517.01" cy="165.65" r="2.74" style="fill: #cccccc; fill-opacity: 0.38"/>
</g>
<g clip-path="url(#paea2ed191d)">
<circle cx="539.93" cy="165.84" r="2.74" style="fill: #cccccc; fill-opacity: 0.38"/>
</g>
<g clip-path="url(#paea2ed191d)">
<circle cx="521.7" cy="169.03" r="2.74" style="fill: #cccccc; fill-opacity: 0.38"/>
</g>
<g clip-path="url(#paea2ed191d)">
<circle cx="505.89" cy="163.53" r="2.74" style="fill: #cccccc; fill-opacity: 0.38"/>
</g>
<g clip-path="url(#paea2ed191d)">
<circle cx="552.77" cy="171.1" r="2.74" style="fill: #cccccc; fill-opacity: 0.38"/>
</g>
<g clip-path="url(#paea2ed191d)">
<circle cx="542.81" cy="166.05" r="2.74" style="fill: #cccccc; fill-opacity: 0.38"/>
</g>
<g clip-path="url(#paea2ed191d)">
<circle cx="542.79" cy="180.43" r="2.74" style="fill: #cccccc; fill-opacity: 0.38"/>
</g>
<g clip-path="url(#paea2ed191d)">
<circle cx="525.06" cy="170.21" r="2.74" style="fill: #cccccc; fill-opacity: 0.38"/>
</g>
<g clip-path="url(#paea2ed191d)">
<circle cx="552.6" cy="132.09" r="2.74" style="fill: #cccccc; fill-opacity: 0.38"/>
</g>
<g clip-path="url(#paea2ed191d)">
<circle cx="529.37" cy="165.85" r="2.74" style="fill: #cccccc; fill-opacity: 0.38"/>
</g>
<g clip-path="url(#paea2ed191d)">
<circle cx="553.84" cy="168.28" r="2.74" style="fill: #cccccc; fill-opacity: 0.38"/>
</g>
<g clip-path="url(#paea2ed191d)">
<circle cx="517.07" cy="157.2" r="2.74" style="fill: #cccccc; fill-opacity: 0.38"/>
</g>
<g clip-path="url(#paea2ed191d)">
<circle cx="518.13" cy="154.68" r="2.74" style="fill: #cccccc; fill-opacity: 0.38"/>
</g>
<g clip-path="url(#paea2ed191d)">
<circle cx="537.51" cy="180.85" r="2.74" style="fill: #cccccc; fill-opacity: 0.38"/>
</g>
<g clip-path="url(#paea2ed191d)">
<circle cx="520.91" cy="167.82" r="2.74" style="fill: #cccccc; fill-opacity: 0.38"/>
</g>
<g clip-path="url(#paea2ed191d)">
<circle cx="546.13" cy="151.66" r="2.74" style="fill: #cccccc; fill-opacity: 0.38"/>
</g>
<g clip-path="url(#paea2ed191d)">
<circle cx="538.52" cy="160.97" r="2.74" style="fill: #cccccc; fill-opacity: 0.38"/>
</g>
<g clip-path="url(#paea2ed191d)">
<circle cx="516.87" cy="163.1" r="2.74" style="fill: #cccccc; fill-opacity: 0.38"/>
</g>
<g clip-path="url(#paea2ed191d)">
<circle cx="535.1" cy="142.52" r="2.74" style="fill: #cccccc; fill-opacity: 0.38"/>
</g>
<g clip-path="url(#paea2ed191d)">
<circle cx="527.33" cy="174.58" r="2.74" style="fill: #cccccc; fill-opacity: 0.38"/>
</g>
<g clip-path="url(#paea2ed191d)">
<circle cx="550.53" cy="163.66" r="2.74" style="fill: #cccccc; fill-opacity: 0.38"/>
</g>
<g clip-path="url(#paea2ed191d)">
<circle cx="522.18" cy="172.32" r="2.74" style="fill: #cccccc; fill-opacity: 0.38"/>
</g>
<g clip-path="url(#paea2ed191d)">
<circle cx="525.72" cy="143.44" r="2.74" style="fill: #cccccc; fill-opacity: 0.38"/>
</g>
<g clip-path="url(#paea2ed191d)">
<circle cx="574.75" cy="174.47" r="2.74" style="fill: #cccccc; fill-opacity: 0.38"/>
</g>
<g clip-path="url(#paea2ed191d)">
<circle cx="570.36" cy="172.45" r="2.74" style="fill: #cccccc; fill-opacity: 0.38"/>
</g>
<g clip-path="url(#paea2ed191d)">
<circle cx="534.92" cy="155.32" r="2.74" style="fill: #cccccc; fill-opacity: 0.38"/>
</g>
<g clip-path="url(#paea2ed191d)">
<circle cx="537.77" cy="156.14" r="2.74" style="fill: #cccccc; fill-opacity: 0.38"/>
</g>
<g clip-path="url(#paea2ed191d)">
<circle cx="561.84" cy="144.81" r="2.74" style="fill: #cccccc; fill-opacity: 0.38"/>
</g>
<g clip-path="url(#paea2ed191d)">
<circle cx="531.49" cy="187.46" r="2.74" style="fill: #cccccc; fill-opacity: 0.38"/>
</g>
</g>
<g id="patch_8">
<path d="M 390.96 288.90 
L 390.96 27.73 
" style="fill: none; stroke: #8c8c8c; stroke-linejoin: miter; stroke-linecap: square"/>
</g>
<g id="patch_9">
<path d="M 683.88 288.90 
L 683.88 27.73 
" style="fill: none; stroke: #8c8c8c; stroke-linejoin: miter; stroke-linecap: square"/>
</g>
<g id="patch_10">
<path d="M 390.96 288.90 
L 683.88 288.90 
" style="fill: none; stroke: #333333; stroke-width: 0.9; stroke-linejoin: miter; stroke-linecap: square"/>
</g>
<g id="patch_11">
<path d="M 390.96 27.73 
L 683.88 27.73 
" style="fill: none; stroke: #8c8c8c; stroke-linejoin: miter; stroke-linecap: square"/>
</g>
<g id="line2d_154">
<path d="M 447.90 134.02 
L 650.01 189.65 
" clip-path="url(#paea2ed191d)" style="fill: none; stroke: #b4b4b4; stroke-opacity: 0.5; stroke-width: 1.5; stroke-linecap: square"/>
</g>
<g id="line2d_155">
<path d="M 531.93 158.31 
L 636.28 157.27 
" clip-path="url(#paea2ed191d)" style="fill: none; stroke: #b4b4b4; stroke-opacity: 0.5; stroke-width: 1.5; stroke-linecap: square"/>
</g>
<g id="line2d_156">
<path d="M 482.50 150.48 
L 634.08 197.49 
" clip-path="url(#paea2ed191d)" style="fill: none; stroke: #b4b4b4; stroke-opacity: 0.5; stroke-width: 1.5; stroke-linecap: square"/>
</g>
<g id="line2d_157">
<path d="M 491.65 149.17 
L 649.09 189.39 
" clip-path="url(#paea2ed191d)" style="fill: none; stroke: #b4b4b4; stroke-opacity: 0.5; stroke-width: 1.5; stroke-linecap: square"/>
</g>
<g id="line2d_158">
<path d="M 500.81 160.92 
L 683.88 215.77 
" clip-path="url(#paea2ed191d)" style="fill: none; stroke: #b4b4b4; stroke-opacity: 0.5; stroke-width: 1.5; stroke-linecap: square"/>
</g>
<g id="line2d_159">
<path d="M 509.96 155.70 
L 665.57 202.71 
" clip-path="url(#paea2ed191d)" style="fill: none; stroke: #b4b4b4; stroke-opacity: 0.5; stroke-width: 1.5; stroke-linecap: square"/>
</g>
<g id="text_34">
<g transform="translate(428.16 24.53)">
<text><tspan x="0 9.45 19.8 23.34 30.57 38.21 42.02" y="-0.88" style="font-size: 12px; font-family: 'DejaVu Sans', sans-serif">OMIP2 O</tspan><tspan x="51.58" y="1.09" style="font-size: 8.4px; font-family: 'DejaVu Sans', sans-serif">2</tspan><tspan x="57.26 61.59 70.61 77.99 85.35 90.05 93.87 102.2 109.59 112.92 120.27 124.98 128.31 135.65 143.26 149.51 157.12 160.45 168.07 171.88 179.52 183.85 191.48 199.12 206.75" y="-0.88" style="font-size: 12px; font-family: 'DejaVu Sans', sans-serif">-Heat Relationship 0-700m</tspan></text>
</g>
</g>
<g id="line2d_160">
<path d="M 477.92 140.03 
L 642.50 193.83 
" clip-path="url(#paea2ed191d)" style="fill: none; stroke: #ff0000; stroke-width: 2.6"/>
</g>
<g id="PathCollection_4">
<g clip-path="url(#paea2ed191d)">
<circle cx="471.7" cy="95.64" r="2.65" style="fill: #ff0000"/>
</g>
<g clip-path="url(#paea2ed191d)">
<circle cx="480.31" cy="105.3" r="2.65" style="fill: #ff0000"/>
</g>
<g clip-path="url(#paea2ed191d)">
<circle cx="486.53" cy="105.82" r="2.65" style="fill: #ff0000"/>
</g>
<g clip-path="url(#paea2ed191d)">
<circle cx="478.66" cy="110.52" r="2.65" style="fill: #ff0000"/>
</g>
<g clip-path="url(#paea2ed191d)">
<circle cx="493.85" cy="119.14" r="2.65" style="fill: #ff0000"/>
</g>
<g clip-path="url(#paea2ed191d)">
<circle cx="485.98" cy="131.68" r="2.65" style="fill: #ff0000"/>
</g>
<g clip-path="url(#paea2ed191d)">
<circle cx="493.85" cy="133.25" r="2.65" style="fill: #ff0000"/>
</g>
<g clip-path="url(#paea2ed191d)">
<circle cx="488.91" cy="137.42" r="2.65" style="fill: #ff0000"/>
</g>
<g clip-path="url(#paea2ed191d)">
<circle cx="496.05" cy="139.51" r="2.65" style="fill: #ff0000"/>
</g>
<g clip-path="url(#paea2ed191d)">
<circle cx="513.26" cy="141.6" r="2.65" style="fill: #ff0000"/>
</g>
<g clip-path="url(#paea2ed191d)">
<circle cx="526.07" cy="143.69" r="2.65" style="fill: #ff0000"/>
</g>
<g clip-path="url(#paea2ed191d)">
<circle cx="541.27" cy="145.78" r="2.65" style="fill: #ff0000"/>
</g>
<g clip-path="url(#paea2ed191d)">
<circle cx="542.37" cy="147.87" r="2.65" style="fill: #ff0000"/>
</g>
<g clip-path="url(#paea2ed191d)">
<circle cx="543.65" cy="153.09" r="2.65" style="fill: #ff0000"/>
</g>
<g clip-path="url(#paea2ed191d)">
<circle cx="508.5" cy="160.41" r="2.65" style="fill: #ff0000"/>
</g>
<g clip-path="url(#paea2ed191d)">
<circle cx="513.26" cy="160.93" r="2.65" style="fill: #ff0000"/>
</g>
<g clip-path="url(#paea2ed191d)">
<circle cx="518.75" cy="163.02" r="2.65" style="fill: #ff0000"/>
</g>
<g clip-path="url(#paea2ed191d)">
<circle cx="521.68" cy="168.5" r="2.65" style="fill: #ff0000"/>
</g>
<g clip-path="url(#paea2ed191d)">
<circle cx="517.1" cy="170.33" r="2.65" style="fill: #ff0000"/>
</g>
<g clip-path="url(#paea2ed191d)">
<circle cx="522.78" cy="173.73" r="2.65" style="fill: #ff0000"/>
</g>
<g clip-path="url(#paea2ed191d)">
<circle cx="524.06" cy="178.17" r="2.65" style="fill: #ff0000"/>
</g>
<g clip-path="url(#paea2ed191d)">
<circle cx="532.12" cy="163.02" r="2.65" style="fill: #ff0000"/>
</g>
<g clip-path="url(#paea2ed191d)">
<circle cx="533.95" cy="179.47" r="2.65" style="fill: #ff0000"/>
</g>
<g clip-path="url(#paea2ed191d)">
<circle cx="539.26" cy="167.2" r="2.65" style="fill: #ff0000"/>
</g>
<g clip-path="url(#paea2ed191d)">
<circle cx="540.54" cy="169.81" r="2.65" style="fill: #ff0000"/>
</g>
<g clip-path="url(#paea2ed191d)">
<circle cx="542.55" cy="171.38" r="2.65" style="fill: #ff0000"/>
</g>
<g clip-path="url(#paea2ed191d)">
<circle cx="515.09" cy="185.48" r="2.65" style="fill: #ff0000"/>
</g>
<g clip-path="url(#paea2ed191d)">
<circle cx="522.41" cy="192.01" r="2.65" style="fill: #ff0000"/>
</g>
<g clip-path="url(#paea2ed191d)">
<circle cx="544.75" cy="163.54" r="2.65" style="fill: #ff0000"/>
</g>
<g clip-path="url(#paea2ed191d)">
<circle cx="543.65" cy="157.27" r="2.65" style="fill: #ff0000"/>
</g>
<g clip-path="url(#paea2ed191d)">
<circle cx="546.76" cy="166.15" r="2.65" style="fill: #ff0000"/>
</g>
<g clip-path="url(#paea2ed191d)">
<circle cx="548.78" cy="168.76" r="2.65" style="fill: #ff0000"/>
</g>
<g clip-path="url(#paea2ed191d)">
<circle cx="553.72" cy="159.62" r="2.65" style="fill: #ff0000"/>
</g>
<g clip-path="url(#paea2ed191d)">
<circle cx="552.44" cy="163.54" r="2.65" style="fill: #ff0000"/>
</g>
<g clip-path="url(#paea2ed191d)">
<circle cx="556.28" cy="162.76" r="2.65" style="fill: #ff0000"/>
</g>
<g clip-path="url(#paea2ed191d)">
<circle cx="554.45" cy="169.81" r="2.65" style="fill: #ff0000"/>
</g>
<g clip-path="url(#paea2ed191d)">
<circle cx="558.48" cy="167.2" r="2.65" style="fill: #ff0000"/>
</g>
<g clip-path="url(#paea2ed191d)">
<circle cx="571.48" cy="166.15" r="2.65" style="fill: #ff0000"/>
</g>
<g clip-path="url(#paea2ed191d)">
<circle cx="576.24" cy="167.72" r="2.65" style="fill: #ff0000"/>
</g>
<g clip-path="url(#paea2ed191d)">
<circle cx="581.36" cy="170.85" r="2.65" style="fill: #ff0000"/>
</g>
<g clip-path="url(#paea2ed191d)">
<circle cx="567.63" cy="173.73" r="2.65" style="fill: #ff0000"/>
</g>
<g clip-path="url(#paea2ed191d)">
<circle cx="593.26" cy="174.77" r="2.65" style="fill: #ff0000"/>
</g>
<g clip-path="url(#paea2ed191d)">
<circle cx="597.11" cy="173.2" r="2.65" style="fill: #ff0000"/>
</g>
<g clip-path="url(#paea2ed191d)">
<circle cx="603.15" cy="172.16" r="2.65" style="fill: #ff0000"/>
</g>
<g clip-path="url(#paea2ed191d)">
<circle cx="607.91" cy="172.16" r="2.65" style="fill: #ff0000"/>
</g>
<g clip-path="url(#paea2ed191d)">
<circle cx="628.59" cy="175.03" r="2.65" style="fill: #ff0000"/>
</g>
<g clip-path="url(#paea2ed191d)">
<circle cx="641.59" cy="177.91" r="2.65" style="fill: #ff0000"/>
</g>
</g>
<g id="line2d_161">
<path d="M 381.81 114.43 
L 693.03 221.26 
" clip-path="url(#paea2ed191d)" style="fill: none; stroke: #000000; stroke-opacity: 0.33; stroke-width: 2.6"/>
</g>
<g id="line2d_162">
<path d="M 381.81 119.03 
L 693.03 229.14 
" clip-path="url(#paea2ed191d)" style="fill: none; stroke: #00ffff; stroke-opacity: 0.4; stroke-width: 2.6"/>
</g>
<g id="line2d_163">
<path d="M 381.81 119.03 
L 693.03 229.14 
" clip-path="url(#paea2ed191d)" style="fill: none; stroke-dasharray: 4.62,1.75; stroke-dashoffset: 0; stroke: #00f4ff; stroke-opacity: 0.72; stroke-width: 2.5"/>
</g>
<g id="line2d_164">
<path d="M 381.81 123.46 
L 693.03 224.25 
" clip-path="url(#paea2ed191d)" style="fill: none; stroke: #000000; stroke-opacity: 0.8; stroke-width: 2.4; stroke-linecap: square"/>
</g>
<g id="line2d_165">
<path d="M 559.39 164.71 
L 683.88 210.70 
" clip-path="url(#paea2ed191d)" style="fill: none; stroke-dasharray: 2.4,3.72; stroke-dashoffset: 0; stroke: #000000; stroke-opacity: 0.58; stroke-width: 2.4"/>
</g>
<g id="line2d_166">
<path d="M 437.46 119.66 
L 559.39 164.71 
" clip-path="url(#paea2ed191d)" style="fill: none; stroke-dasharray: 5.06,1.03; stroke-dashoffset: 0; stroke: #000000; stroke-opacity: 0.58; stroke-width: 2.3"/>
</g>
</g>
<g id="axes_3">
<g id="patch_12">
<path d="M 735.26 289.61 
L 1028.49 289.61 
L 1028.49 28.29 
L 735.26 28.29 
z
" style="fill: #ffffff"/>
</g>
<g id="matplotlib.axis_5">
<g id="xtick_67">
<g id="line2d_167">
<path d="M 735.26 289.61 
L 735.26 28.29 
" clip-path="url(#pecd2aa6397)" style="fill: none; stroke: #f0f0f0; stroke-width: 0.8; stroke-linecap: square"/>
</g>
<g id="line2d_168">
<g>
<path d="M 735.27 289.61 L 735.27 292.81" style="fill: #333333; stroke: #333333; stroke-width: 0.9"/>
</g>
</g>
<g id="text_35">
<text style="font-size: 10px; font-family: 'DejaVu Sans', sans-serif; text-anchor: middle" x="735.26" y="302.41" transform="rotate(-0 735.26 302.41)">−8</text>
</g>
</g>
<g id="xtick_68">
<g id="line2d_169">
<path d="M 771.91 289.61 
L 771.91 28.29 
" clip-path="url(#pecd2aa6397)" style="fill: none; stroke: #f0f0f0; stroke-width: 0.8; stroke-linecap: square"/>
</g>
<g id="line2d_170">
<g>
<path d="M 771.92 289.61 L 771.92 292.81" style="fill: #333333; stroke: #333333; stroke-width: 0.9"/>
</g>
</g>
<g id="text_36">
<text style="font-size: 10px; font-family: 'DejaVu Sans', sans-serif; text-anchor: middle" x="771.91" y="302.41" transform="rotate(-0 771.91 302.41)">−6</text>
</g>
</g>
<g id="xtick_69">
<g id="line2d_171">
<path d="M 808.57 289.61 
L 808.57 28.29 
" clip-path="url(#pecd2aa6397)" style="fill: none; stroke: #f0f0f0; stroke-width: 0.8; stroke-linecap: square"/>
</g>
<g id="line2d_172">
<g>
<path d="M 808.57 289.61 L 808.57 292.81" style="fill: #333333; stroke: #333333; stroke-width: 0.9"/>
</g>
</g>
<g id="text_37">
<text style="font-size: 10px; font-family: 'DejaVu Sans', sans-serif; text-anchor: middle" x="808.57" y="302.41" transform="rotate(-0 808.57 302.41)">−4</text>
</g>
</g>
<g id="xtick_70">
<g id="line2d_173">
<path d="M 845.22 289.61 
L 845.22 28.29 
" clip-path="url(#pecd2aa6397)" style="fill: none; stroke: #f0f0f0; stroke-width: 0.8; stroke-linecap: square"/>
</g>
<g id="line2d_174">
<g>
<path d="M 845.23 289.61 L 845.23 292.81" style="fill: #333333; stroke: #333333; stroke-width: 0.9"/>
</g>
</g>
<g id="text_38">
<text style="font-size: 10px; font-family: 'DejaVu Sans', sans-serif; text-anchor: middle" x="845.22" y="302.41" transform="rotate(-0 845.22 302.41)">−2</text>
</g>
</g>
<g id="xtick_71">
<g id="line2d_175">
<path d="M 881.87 289.61 
L 881.87 28.29 
" clip-path="url(#pecd2aa6397)" style="fill: none; stroke: #f0f0f0; stroke-width: 0.8; stroke-linecap: square"/>
</g>
<g id="line2d_176">
<g>
<path d="M 881.88 289.61 L 881.88 292.81" style="fill: #333333; stroke: #333333; stroke-width: 0.9"/>
</g>
</g>
<g id="text_39">
<text style="font-size: 10px; font-family: 'DejaVu Sans', sans-serif; text-anchor: middle" x="881.87" y="302.41" transform="rotate(-0 881.87 302.41)">0</text>
</g>
</g>
<g id="xtick_72">
<g id="line2d_177">
<path d="M 918.53 289.61 
L 918.53 28.29 
" clip-path="url(#pecd2aa6397)" style="fill: none; stroke: #f0f0f0; stroke-width: 0.8; stroke-linecap: square"/>
</g>
<g id="line2d_178">
<g>
<path d="M 918.53 289.61 L 918.53 292.81" style="fill: #333333; stroke: #333333; stroke-width: 0.9"/>
</g>
</g>
<g id="text_40">
<text style="font-size: 10px; font-family: 'DejaVu Sans', sans-serif; text-anchor: middle" x="918.53" y="302.41" transform="rotate(-0 918.53 302.41)">2</text>
</g>
</g>
<g id="xtick_73">
<g id="line2d_179">
<path d="M 955.18 289.61 
L 955.18 28.29 
" clip-path="url(#pecd2aa6397)" style="fill: none; stroke: #f0f0f0; stroke-width: 0.8; stroke-linecap: square"/>
</g>
<g id="line2d_180">
<g>
<path d="M 955.19 289.61 L 955.19 292.81" style="fill: #333333; stroke: #333333; stroke-width: 0.9"/>
</g>
</g>
<g id="text_41">
<text style="font-size: 10px; font-family: 'DejaVu Sans', sans-serif; text-anchor: middle" x="955.18" y="302.41" transform="rotate(-0 955.18 302.41)">4</text>
</g>
</g>
<g id="xtick_74">
<g id="line2d_181">
<path d="M 991.83 289.61 
L 991.83 28.29 
" clip-path="url(#pecd2aa6397)" style="fill: none; stroke: #f0f0f0; stroke-width: 0.8; stroke-linecap: square"/>
</g>
<g id="line2d_182">
<g>
<path d="M 991.84 289.61 L 991.84 292.81" style="fill: #333333; stroke: #333333; stroke-width: 0.9"/>
</g>
</g>
<g id="text_42">
<text style="font-size: 10px; font-family: 'DejaVu Sans', sans-serif; text-anchor: middle" x="991.83" y="302.41" transform="rotate(-0 991.83 302.41)">6</text>
</g>
</g>
<g id="xtick_75">
<g id="line2d_183">
<path d="M 1028.49 289.61 
L 1028.49 28.29 
" clip-path="url(#pecd2aa6397)" style="fill: none; stroke: #f0f0f0; stroke-width: 0.8; stroke-linecap: square"/>
</g>
<g id="line2d_184">
<g>
<path d="M 1028.49 289.61 L 1028.49 292.81" style="fill: #333333; stroke: #333333; stroke-width: 0.9"/>
</g>
</g>
<g id="text_43">
<text style="font-size: 10px; font-family: 'DejaVu Sans', sans-serif; text-anchor: middle" x="1028.49" y="302.41" transform="rotate(-0 1028.49 302.41)">8</text>
</g>
</g>
<g id="xtick_76">
<g id="line2d_185">
<g>
<path d="M 744.43 289.61 L 744.43 291.21" style="fill: #333333; stroke: #333333; stroke-width: 0.8"/>
</g>
</g>
</g>
<g id="xtick_77">
<g id="line2d_186">
<g>
<path d="M 753.59 289.61 L 753.59 291.21" style="fill: #333333; stroke: #333333; stroke-width: 0.8"/>
</g>
</g>
</g>
<g id="xtick_78">
<g id="line2d_187">
<g>
<path d="M 762.76 289.61 L 762.76 291.21" style="fill: #333333; stroke: #333333; stroke-width: 0.8"/>
</g>
</g>
</g>
<g id="xtick_79">
<g id="line2d_188">
<g>
<path d="M 781.08 289.61 L 781.08 291.21" style="fill: #333333; stroke: #333333; stroke-width: 0.8"/>
</g>
</g>
</g>
<g id="xtick_80">
<g id="line2d_189">
<g>
<path d="M 790.25 289.61 L 790.25 291.21" style="fill: #333333; stroke: #333333; stroke-width: 0.8"/>
</g>
</g>
</g>
<g id="xtick_81">
<g id="line2d_190">
<g>
<path d="M 799.41 289.61 L 799.41 291.21" style="fill: #333333; stroke: #333333; stroke-width: 0.8"/>
</g>
</g>
</g>
<g id="xtick_82">
<g id="line2d_191">
<g>
<path d="M 817.74 289.61 L 817.74 291.21" style="fill: #333333; stroke: #333333; stroke-width: 0.8"/>
</g>
</g>
</g>
<g id="xtick_83">
<g id="line2d_192">
<g>
<path d="M 826.9 289.61 L 826.9 291.21" style="fill: #333333; stroke: #333333; stroke-width: 0.8"/>
</g>
</g>
</g>
<g id="xtick_84">
<g id="line2d_193">
<g>
<path d="M 836.06 289.61 L 836.06 291.21" style="fill: #333333; stroke: #333333; stroke-width: 0.8"/>
</g>
</g>
</g>
<g id="xtick_85">
<g id="line2d_194">
<g>
<path d="M 854.39 289.61 L 854.39 291.21" style="fill: #333333; stroke: #333333; stroke-width: 0.8"/>
</g>
</g>
</g>
<g id="xtick_86">
<g id="line2d_195">
<g>
<path d="M 863.55 289.61 L 863.55 291.21" style="fill: #333333; stroke: #333333; stroke-width: 0.8"/>
</g>
</g>
</g>
<g id="xtick_87">
<g id="line2d_196">
<g>
<path d="M 872.72 289.61 L 872.72 291.21" style="fill: #333333; stroke: #333333; stroke-width: 0.8"/>
</g>
</g>
</g>
<g id="xtick_88">
<g id="line2d_197">
<g>
<path d="M 891.04 289.61 L 891.04 291.21" style="fill: #333333; stroke: #333333; stroke-width: 0.8"/>
</g>
</g>
</g>
<g id="xtick_89">
<g id="line2d_198">
<g>
<path d="M 900.21 289.61 L 900.21 291.21" style="fill: #333333; stroke: #333333; stroke-width: 0.8"/>
</g>
</g>
</g>
<g id="xtick_90">
<g id="line2d_199">
<g>
<path d="M 909.37 289.61 L 909.37 291.21" style="fill: #333333; stroke: #333333; stroke-width: 0.8"/>
</g>
</g>
</g>
<g id="xtick_91">
<g id="line2d_200">
<g>
<path d="M 927.7 289.61 L 927.7 291.21" style="fill: #333333; stroke: #333333; stroke-width: 0.8"/>
</g>
</g>
</g>
<g id="xtick_92">
<g id="line2d_201">
<g>
<path d="M 936.86 289.61 L 936.86 291.21" style="fill: #333333; stroke: #333333; stroke-width: 0.8"/>
</g>
</g>
</g>
<g id="xtick_93">
<g id="line2d_202">
<g>
<path d="M 946.02 289.61 L 946.02 291.21" style="fill: #333333; stroke: #333333; stroke-width: 0.8"/>
</g>
</g>
</g>
<g id="xtick_94">
<g id="line2d_203">
<g>
<path d="M 964.35 289.61 L 964.35 291.21" style="fill: #333333; stroke: #333333; stroke-width: 0.8"/>
</g>
</g>
</g>
<g id="xtick_95">
<g id="line2d_204">
<g>
<path d="M 973.51 289.61 L 973.51 291.21" style="fill: #333333; stroke: #333333; stroke-width: 0.8"/>
</g>
</g>
</g>
<g id="xtick_96">
<g id="line2d_205">
<g>
<path d="M 982.68 289.61 L 982.68 291.21" style="fill: #333333; stroke: #333333; stroke-width: 0.8"/>
</g>
</g>
</g>
<g id="xtick_97">
<g id="line2d_206">
<g>
<path d="M 1001 289.61 L 1001 291.21" style="fill: #333333; stroke: #333333; stroke-width: 0.8"/>
</g>
</g>
</g>
<g id="xtick_98">
<g id="line2d_207">
<g>
<path d="M 1010.17 289.61 L 1010.17 291.21" style="fill: #333333; stroke: #333333; stroke-width: 0.8"/>
</g>
</g>
</g>
<g id="xtick_99">
<g id="line2d_208">
<g>
<path d="M 1019.33 289.61 L 1019.33 291.21" style="fill: #333333; stroke: #333333; stroke-width: 0.8"/>
</g>
</g>
</g>
<g id="text_44">
<g transform="translate(842.69 318.71)">
<text><tspan x="0 9.45 18.47 26.85 30.66 40.72 44.53 52.17" y="-0.17" style="font-size: 12px; font-family: 'DejaVu Sans', sans-serif">OHC × 10</tspan><tspan x="59.92 65.26" y="-4.77" style="font-size: 8.4px; font-family: 'DejaVu Sans', sans-serif">22</tspan><tspan x="70.93 74.75" y="-0.17" style="font-size: 12px; font-family: 'DejaVu Sans', sans-serif"> J</tspan></text>
</g>
</g>
</g>
<g id="matplotlib.axis_6">
<g id="ytick_43">
<g id="line2d_209">
<path d="M 735.26 263.48 
L 1028.49 263.48 
" clip-path="url(#pecd2aa6397)" style="fill: none; stroke: #f0f0f0; stroke-width: 0.8; stroke-linecap: square"/>
</g>
<g id="line2d_210">
<g>
<path d="M 735.27 263.48 L 732.07 263.48" style="fill: #333333; stroke: #333333; stroke-width: 0.9"/>
</g>
</g>
<g id="text_45">
<text style="font-size: 10px; font-family: 'DejaVu Sans', sans-serif; text-anchor: end" x="730.56" y="267.28" transform="rotate(-0 730.56 267.28)">−4</text>
</g>
</g>
<g id="ytick_44">
<g id="line2d_211">
<path d="M 735.26 211.21 
L 1028.49 211.21 
" clip-path="url(#pecd2aa6397)" style="fill: none; stroke: #f0f0f0; stroke-width: 0.8; stroke-linecap: square"/>
</g>
<g id="line2d_212">
<g>
<path d="M 735.27 211.22 L 732.07 211.22" style="fill: #333333; stroke: #333333; stroke-width: 0.9"/>
</g>
</g>
<g id="text_46">
<text style="font-size: 10px; font-family: 'DejaVu Sans', sans-serif; text-anchor: end" x="730.56" y="215.01" transform="rotate(-0 730.56 215.01)">−2</text>
</g>
</g>
<g id="ytick_45">
<g id="line2d_213">
<path d="M 735.26 158.95 
L 1028.49 158.95 
" clip-path="url(#pecd2aa6397)" style="fill: none; stroke: #f0f0f0; stroke-width: 0.8; stroke-linecap: square"/>
</g>
<g id="line2d_214">
<g>
<path d="M 735.27 158.95 L 732.07 158.95" style="fill: #333333; stroke: #333333; stroke-width: 0.9"/>
</g>
</g>
<g id="text_47">
<text style="font-size: 10px; font-family: 'DejaVu Sans', sans-serif; text-anchor: end" x="730.56" y="162.75" transform="rotate(-0 730.56 162.75)">0</text>
</g>
</g>
<g id="ytick_46">
<g id="line2d_215">
<path d="M 735.26 106.69 
L 1028.49 106.69 
" clip-path="url(#pecd2aa6397)" style="fill: none; stroke: #f0f0f0; stroke-width: 0.8; stroke-linecap: square"/>
</g>
<g id="line2d_216">
<g>
<path d="M 735.27 106.69 L 732.07 106.69" style="fill: #333333; stroke: #333333; stroke-width: 0.9"/>
</g>
</g>
<g id="text_48">
<text style="font-size: 10px; font-family: 'DejaVu Sans', sans-serif; text-anchor: end" x="730.56" y="110.49" transform="rotate(-0 730.56 110.49)">2</text>
</g>
</g>
<g id="ytick_47">
<g id="line2d_217">
<path d="M 735.26 54.42 
L 1028.49 54.42 
" clip-path="url(#pecd2aa6397)" style="fill: none; stroke: #f0f0f0; stroke-width: 0.8; stroke-linecap: square"/>
</g>
<g id="line2d_218">
<g>
<path d="M 735.27 54.43 L 732.07 54.43" style="fill: #333333; stroke: #333333; stroke-width: 0.9"/>
</g>
</g>
<g id="text_49">
<text style="font-size: 10px; font-family: 'DejaVu Sans', sans-serif; text-anchor: end" x="730.56" y="58.22" transform="rotate(-0 730.56 58.22)">4</text>
</g>
</g>
<g id="ytick_48">
<g id="line2d_219">
<g>
<path d="M 735.27 289.61 L 733.67 289.61" style="fill: #333333; stroke: #333333; stroke-width: 0.8"/>
</g>
</g>
</g>
<g id="ytick_49">
<g id="line2d_220">
<g>
<path d="M 735.27 276.55 L 733.67 276.55" style="fill: #333333; stroke: #333333; stroke-width: 0.8"/>
</g>
</g>
</g>
<g id="ytick_50">
<g id="line2d_221">
<g>
<path d="M 735.27 250.42 L 733.67 250.42" style="fill: #333333; stroke: #333333; stroke-width: 0.8"/>
</g>
</g>
</g>
<g id="ytick_51">
<g id="line2d_222">
<g>
<path d="M 735.27 237.35 L 733.67 237.35" style="fill: #333333; stroke: #333333; stroke-width: 0.8"/>
</g>
</g>
</g>
<g id="ytick_52">
<g id="line2d_223">
<g>
<path d="M 735.27 224.28 L 733.67 224.28" style="fill: #333333; stroke: #333333; stroke-width: 0.8"/>
</g>
</g>
</g>
<g id="ytick_53">
<g id="line2d_224">
<g>
<path d="M 735.27 198.15 L 733.67 198.15" style="fill: #333333; stroke: #333333; stroke-width: 0.8"/>
</g>
</g>
</g>
<g id="ytick_54">
<g id="line2d_225">
<g>
<path d="M 735.27 185.09 L 733.67 185.09" style="fill: #333333; stroke: #333333; stroke-width: 0.8"/>
</g>
</g>
</g>
<g id="ytick_55">
<g id="line2d_226">
<g>
<path d="M 735.27 172.02 L 733.67 172.02" style="fill: #333333; stroke: #333333; stroke-width: 0.8"/>
</g>
</g>
</g>
<g id="ytick_56">
<g id="line2d_227">
<g>
<path d="M 735.27 145.89 L 733.67 145.89" style="fill: #333333; stroke: #333333; stroke-width: 0.8"/>
</g>
</g>
</g>
<g id="ytick_57">
<g id="line2d_228">
<g>
<path d="M 735.27 132.82 L 733.67 132.82" style="fill: #333333; stroke: #333333; stroke-width: 0.8"/>
</g>
</g>
</g>
<g id="ytick_58">
<g id="line2d_229">
<g>
<path d="M 735.27 119.76 L 733.67 119.76" style="fill: #333333; stroke: #333333; stroke-width: 0.8"/>
</g>
</g>
</g>
<g id="ytick_59">
<g id="line2d_230">
<g>
<path d="M 735.27 93.63 L 733.67 93.63" style="fill: #333333; stroke: #333333; stroke-width: 0.8"/>
</g>
</g>
</g>
<g id="ytick_60">
<g id="line2d_231">
<g>
<path d="M 735.27 80.56 L 733.67 80.56" style="fill: #333333; stroke: #333333; stroke-width: 0.8"/>
</g>
</g>
</g>
<g id="ytick_61">
<g id="line2d_232">
<g>
<path d="M 735.27 67.49 L 733.67 67.49" style="fill: #333333; stroke: #333333; stroke-width: 0.8"/>
</g>
</g>
</g>
<g id="ytick_62">
<g id="line2d_233">
<g>
<path d="M 735.27 41.36 L 733.67 41.36" style="fill: #333333; stroke: #333333; stroke-width: 0.8"/>
</g>
</g>
</g>
<g id="ytick_63">
<g id="line2d_234">
<g>
<path d="M 735.27 28.3 L 733.67 28.3" style="fill: #333333; stroke: #333333; stroke-width: 0.8"/>
</g>
</g>
</g>
<g id="text_50">
<g transform="translate(709.42 210.85) rotate(-90)">
<text><tspan x="0" y="-0.28" style="font-size: 12px; font-family: 'DejaVu Sans', sans-serif">O</tspan><tspan x="9.56" y="1.69" style="font-size: 8.4px; font-family: 'DejaVu Sans', sans-serif">2</tspan><tspan x="15.23 18.77 26.38 33.48 37.29 47.35 51.16 58.8" y="-0.28" style="font-size: 12px; font-family: 'DejaVu Sans', sans-serif">Inv × 10</tspan><tspan x="66.55 71.89" y="-4.88" style="font-size: 8.4px; font-family: 'DejaVu Sans', sans-serif">14</tspan><tspan x="77.56 81.38 93.07 100.41" y="-0.28" style="font-size: 12px; font-family: 'DejaVu Sans', sans-serif"> mol</tspan></text>
</g>
</g>
</g>
<g id="PathCollection_5">
<g clip-path="url(#pecd2aa6397)">
<circle cx="758.54" cy="53.38" r="2.74" style="fill: #cccccc; fill-opacity: 0.38"/>
</g>
<g clip-path="url(#pecd2aa6397)">
<circle cx="754.88" cy="59.13" r="2.74" style="fill: #cccccc; fill-opacity: 0.38"/>
</g>
<g clip-path="url(#pecd2aa6397)">
<circle cx="741.86" cy="63.05" r="2.74" style="fill: #cccccc; fill-opacity: 0.38"/>
</g>
<g clip-path="url(#pecd2aa6397)">
<circle cx="754.88" cy="65.93" r="2.74" style="fill: #cccccc; fill-opacity: 0.38"/>
</g>
<g clip-path="url(#pecd2aa6397)">
<circle cx="764.41" cy="66.19" r="2.74" style="fill: #cccccc; fill-opacity: 0.38"/>
</g>
<g clip-path="url(#pecd2aa6397)">
<circle cx="771.19" cy="66.97" r="2.74" style="fill: #cccccc; fill-opacity: 0.38"/>
</g>
<g clip-path="url(#pecd2aa6397)">
<circle cx="762.76" cy="75.33" r="2.74" style="fill: #cccccc; fill-opacity: 0.38"/>
</g>
<g clip-path="url(#pecd2aa6397)">
<circle cx="769.9" cy="74.03" r="2.74" style="fill: #cccccc; fill-opacity: 0.38"/>
</g>
<g clip-path="url(#pecd2aa6397)">
<circle cx="774.85" cy="76.9" r="2.74" style="fill: #cccccc; fill-opacity: 0.38"/>
</g>
<g clip-path="url(#pecd2aa6397)">
<circle cx="796.11" cy="79.25" r="2.74" style="fill: #cccccc; fill-opacity: 0.38"/>
</g>
<g clip-path="url(#pecd2aa6397)">
<circle cx="778.7" cy="83.96" r="2.74" style="fill: #cccccc; fill-opacity: 0.38"/>
</g>
<g clip-path="url(#pecd2aa6397)">
<circle cx="754.33" cy="86.05" r="2.74" style="fill: #cccccc; fill-opacity: 0.38"/>
</g>
<g clip-path="url(#pecd2aa6397)">
<circle cx="759.82" cy="87.62" r="2.74" style="fill: #cccccc; fill-opacity: 0.38"/>
</g>
<g clip-path="url(#pecd2aa6397)">
<circle cx="739.85" cy="82.65" r="2.74" style="fill: #cccccc; fill-opacity: 0.38"/>
</g>
<g clip-path="url(#pecd2aa6397)">
<circle cx="737.28" cy="89.71" r="2.74" style="fill: #cccccc; fill-opacity: 0.38"/>
</g>
<g clip-path="url(#pecd2aa6397)">
<circle cx="745.35" cy="92.58" r="2.74" style="fill: #cccccc; fill-opacity: 0.38"/>
</g>
<g clip-path="url(#pecd2aa6397)">
<circle cx="793.73" cy="89.71" r="2.74" style="fill: #cccccc; fill-opacity: 0.38"/>
</g>
<g clip-path="url(#pecd2aa6397)">
<circle cx="799.96" cy="92.58" r="2.74" style="fill: #cccccc; fill-opacity: 0.38"/>
</g>
<g clip-path="url(#pecd2aa6397)">
<circle cx="784.93" cy="96.76" r="2.74" style="fill: #cccccc; fill-opacity: 0.38"/>
</g>
<g clip-path="url(#pecd2aa6397)">
<circle cx="798.68" cy="99.11" r="2.74" style="fill: #cccccc; fill-opacity: 0.38"/>
</g>
<g clip-path="url(#pecd2aa6397)">
<circle cx="809.86" cy="98.33" r="2.74" style="fill: #cccccc; fill-opacity: 0.38"/>
</g>
<g clip-path="url(#pecd2aa6397)">
<circle cx="806.19" cy="104.08" r="2.74" style="fill: #cccccc; fill-opacity: 0.38"/>
</g>
<g clip-path="url(#pecd2aa6397)">
<circle cx="812.42" cy="104.86" r="2.74" style="fill: #cccccc; fill-opacity: 0.38"/>
</g>
<g clip-path="url(#pecd2aa6397)">
<circle cx="819.39" cy="101.99" r="2.74" style="fill: #cccccc; fill-opacity: 0.38"/>
</g>
<g clip-path="url(#pecd2aa6397)">
<circle cx="791.16" cy="105.38" r="2.74" style="fill: #cccccc; fill-opacity: 0.38"/>
</g>
<g clip-path="url(#pecd2aa6397)">
<circle cx="797.39" cy="108.26" r="2.74" style="fill: #cccccc; fill-opacity: 0.38"/>
</g>
<g clip-path="url(#pecd2aa6397)">
<circle cx="822.5" cy="111.13" r="2.74" style="fill: #cccccc; fill-opacity: 0.38"/>
</g>
<g clip-path="url(#pecd2aa6397)">
<circle cx="826.17" cy="108.26" r="2.74" style="fill: #cccccc; fill-opacity: 0.38"/>
</g>
<g clip-path="url(#pecd2aa6397)">
<circle cx="809.86" cy="114.01" r="2.74" style="fill: #cccccc; fill-opacity: 0.38"/>
</g>
<g clip-path="url(#pecd2aa6397)">
<circle cx="830.01" cy="115.58" r="2.74" style="fill: #cccccc; fill-opacity: 0.38"/>
</g>
<g clip-path="url(#pecd2aa6397)">
<circle cx="819.94" cy="119.76" r="2.74" style="fill: #cccccc; fill-opacity: 0.38"/>
</g>
<g clip-path="url(#pecd2aa6397)">
<circle cx="833.68" cy="121.06" r="2.74" style="fill: #cccccc; fill-opacity: 0.38"/>
</g>
<g clip-path="url(#pecd2aa6397)">
<circle cx="840.09" cy="119.76" r="2.74" style="fill: #cccccc; fill-opacity: 0.38"/>
</g>
<g clip-path="url(#pecd2aa6397)">
<circle cx="848.71" cy="115.58" r="2.74" style="fill: #cccccc; fill-opacity: 0.38"/>
</g>
<g clip-path="url(#pecd2aa6397)">
<circle cx="856.22" cy="116.88" r="2.74" style="fill: #cccccc; fill-opacity: 0.38"/>
</g>
<g clip-path="url(#pecd2aa6397)">
<circle cx="863.74" cy="118.19" r="2.74" style="fill: #cccccc; fill-opacity: 0.38"/>
</g>
<g clip-path="url(#pecd2aa6397)">
<circle cx="871.25" cy="123.94" r="2.74" style="fill: #cccccc; fill-opacity: 0.38"/>
</g>
<g clip-path="url(#pecd2aa6397)">
<circle cx="877.66" cy="129.69" r="2.74" style="fill: #cccccc; fill-opacity: 0.38"/>
</g>
<g clip-path="url(#pecd2aa6397)">
<circle cx="867.58" cy="125.51" r="2.74" style="fill: #cccccc; fill-opacity: 0.38"/>
</g>
<g clip-path="url(#pecd2aa6397)">
<circle cx="866.3" cy="131.26" r="2.74" style="fill: #cccccc; fill-opacity: 0.38"/>
</g>
<g clip-path="url(#pecd2aa6397)">
<circle cx="870.15" cy="137" r="2.74" style="fill: #cccccc; fill-opacity: 0.38"/>
</g>
<g clip-path="url(#pecd2aa6397)">
<circle cx="860.07" cy="137" r="2.74" style="fill: #cccccc; fill-opacity: 0.38"/>
</g>
<g clip-path="url(#pecd2aa6397)">
<circle cx="852.56" cy="131.26" r="2.74" style="fill: #cccccc; fill-opacity: 0.38"/>
</g>
<g clip-path="url(#pecd2aa6397)">
<circle cx="851.27" cy="135.44" r="2.74" style="fill: #cccccc; fill-opacity: 0.38"/>
</g>
<g clip-path="url(#pecd2aa6397)">
<circle cx="845.04" cy="126.81" r="2.74" style="fill: #cccccc; fill-opacity: 0.38"/>
</g>
<g clip-path="url(#pecd2aa6397)">
<circle cx="842.48" cy="134.13" r="2.74" style="fill: #cccccc; fill-opacity: 0.38"/>
</g>
<g clip-path="url(#pecd2aa6397)">
<circle cx="834.96" cy="128.38" r="2.74" style="fill: #cccccc; fill-opacity: 0.38"/>
</g>
<g clip-path="url(#pecd2aa6397)">
<circle cx="830.01" cy="132.56" r="2.74" style="fill: #cccccc; fill-opacity: 0.38"/>
</g>
<g clip-path="url(#pecd2aa6397)">
<circle cx="739.85" cy="102.51" r="2.74" style="fill: #cccccc; fill-opacity: 0.38"/>
</g>
<g clip-path="url(#pecd2aa6397)">
<circle cx="743.51" cy="106.95" r="2.74" style="fill: #cccccc; fill-opacity: 0.38"/>
</g>
<g clip-path="url(#pecd2aa6397)">
<circle cx="748.46" cy="109.83" r="2.74" style="fill: #cccccc; fill-opacity: 0.38"/>
</g>
<g clip-path="url(#pecd2aa6397)">
<circle cx="752.31" cy="112.7" r="2.74" style="fill: #cccccc; fill-opacity: 0.38"/>
</g>
<g clip-path="url(#pecd2aa6397)">
<circle cx="757.26" cy="114.01" r="2.74" style="fill: #cccccc; fill-opacity: 0.38"/>
</g>
<g clip-path="url(#pecd2aa6397)">
<circle cx="762.39" cy="111.13" r="2.74" style="fill: #cccccc; fill-opacity: 0.38"/>
</g>
<g clip-path="url(#pecd2aa6397)">
<circle cx="764.77" cy="119.76" r="2.74" style="fill: #cccccc; fill-opacity: 0.38"/>
</g>
<g clip-path="url(#pecd2aa6397)">
<circle cx="771.19" cy="122.63" r="2.74" style="fill: #cccccc; fill-opacity: 0.38"/>
</g>
<g clip-path="url(#pecd2aa6397)">
<circle cx="759.82" cy="125.51" r="2.74" style="fill: #cccccc; fill-opacity: 0.38"/>
</g>
<g clip-path="url(#pecd2aa6397)">
<circle cx="779.8" cy="126.81" r="2.74" style="fill: #cccccc; fill-opacity: 0.38"/>
</g>
<g clip-path="url(#pecd2aa6397)">
<circle cx="786.21" cy="129.69" r="2.74" style="fill: #cccccc; fill-opacity: 0.38"/>
</g>
<g clip-path="url(#pecd2aa6397)">
<circle cx="791.16" cy="135.44" r="2.74" style="fill: #cccccc; fill-opacity: 0.38"/>
</g>
<g clip-path="url(#pecd2aa6397)">
<circle cx="796.11" cy="142.49" r="2.74" style="fill: #cccccc; fill-opacity: 0.38"/>
</g>
<g clip-path="url(#pecd2aa6397)">
<circle cx="787.31" cy="148.24" r="2.74" style="fill: #cccccc; fill-opacity: 0.38"/>
</g>
<g clip-path="url(#pecd2aa6397)">
<circle cx="779.8" cy="145.37" r="2.74" style="fill: #cccccc; fill-opacity: 0.38"/>
</g>
<g clip-path="url(#pecd2aa6397)">
<circle cx="774.85" cy="141.19" r="2.74" style="fill: #cccccc; fill-opacity: 0.38"/>
</g>
<g clip-path="url(#pecd2aa6397)">
<circle cx="768.62" cy="139.62" r="2.74" style="fill: #cccccc; fill-opacity: 0.38"/>
</g>
<g clip-path="url(#pecd2aa6397)">
<circle cx="807.47" cy="151.12" r="2.74" style="fill: #cccccc; fill-opacity: 0.38"/>
</g>
<g clip-path="url(#pecd2aa6397)">
<circle cx="814.99" cy="148.24" r="2.74" style="fill: #cccccc; fill-opacity: 0.38"/>
</g>
<g clip-path="url(#pecd2aa6397)">
<circle cx="737.28" cy="114.01" r="2.74" style="fill: #cccccc; fill-opacity: 0.38"/>
</g>
<g clip-path="url(#pecd2aa6397)">
<circle cx="740.95" cy="118.19" r="2.74" style="fill: #cccccc; fill-opacity: 0.38"/>
</g>
<g clip-path="url(#pecd2aa6397)">
<circle cx="749.74" cy="96.76" r="2.74" style="fill: #cccccc; fill-opacity: 0.38"/>
</g>
<g clip-path="url(#pecd2aa6397)">
<circle cx="754.88" cy="101.2" r="2.74" style="fill: #cccccc; fill-opacity: 0.38"/>
</g>
<g clip-path="url(#pecd2aa6397)">
<circle cx="759.82" cy="104.08" r="2.74" style="fill: #cccccc; fill-opacity: 0.38"/>
</g>
<g clip-path="url(#pecd2aa6397)">
<circle cx="767.34" cy="101.2" r="2.74" style="fill: #cccccc; fill-opacity: 0.38"/>
</g>
<g clip-path="url(#pecd2aa6397)">
<circle cx="769.9" cy="105.38" r="2.74" style="fill: #cccccc; fill-opacity: 0.38"/>
</g>
<g clip-path="url(#pecd2aa6397)">
<circle cx="774.85" cy="109.83" r="2.74" style="fill: #cccccc; fill-opacity: 0.38"/>
</g>
<g clip-path="url(#pecd2aa6397)">
<circle cx="784.93" cy="114.01" r="2.74" style="fill: #cccccc; fill-opacity: 0.38"/>
</g>
<g clip-path="url(#pecd2aa6397)">
<circle cx="799.96" cy="114.01" r="2.74" style="fill: #cccccc; fill-opacity: 0.38"/>
</g>
<g clip-path="url(#pecd2aa6397)">
<circle cx="797.39" cy="122.63" r="2.74" style="fill: #cccccc; fill-opacity: 0.38"/>
</g>
<g clip-path="url(#pecd2aa6397)">
<circle cx="802.34" cy="129.69" r="2.74" style="fill: #cccccc; fill-opacity: 0.38"/>
</g>
<g clip-path="url(#pecd2aa6397)">
<circle cx="809.86" cy="129.69" r="2.74" style="fill: #cccccc; fill-opacity: 0.38"/>
</g>
<g clip-path="url(#pecd2aa6397)">
<circle cx="817.37" cy="134.13" r="2.74" style="fill: #cccccc; fill-opacity: 0.38"/>
</g>
<g clip-path="url(#pecd2aa6397)">
<circle cx="870.15" cy="148.24" r="2.74" style="fill: #cccccc; fill-opacity: 0.38"/>
</g>
<g clip-path="url(#pecd2aa6397)">
<circle cx="875.1" cy="142.49" r="2.74" style="fill: #cccccc; fill-opacity: 0.38"/>
</g>
<g clip-path="url(#pecd2aa6397)">
<circle cx="878.76" cy="151.12" r="2.74" style="fill: #cccccc; fill-opacity: 0.38"/>
</g>
<g clip-path="url(#pecd2aa6397)">
<circle cx="860.07" cy="145.37" r="2.74" style="fill: #cccccc; fill-opacity: 0.38"/>
</g>
<g clip-path="url(#pecd2aa6397)">
<circle cx="888.84" cy="133.35" r="2.74" style="fill: #cccccc; fill-opacity: 0.38"/>
</g>
<g clip-path="url(#pecd2aa6397)">
<circle cx="890.68" cy="134.65" r="2.74" style="fill: #cccccc; fill-opacity: 0.38"/>
</g>
<g clip-path="url(#pecd2aa6397)">
<circle cx="886.28" cy="139.62" r="2.74" style="fill: #cccccc; fill-opacity: 0.38"/>
</g>
<g clip-path="url(#pecd2aa6397)">
<circle cx="891.41" cy="140.66" r="2.74" style="fill: #cccccc; fill-opacity: 0.38"/>
</g>
<g clip-path="url(#pecd2aa6397)">
<circle cx="888.84" cy="144.84" r="2.74" style="fill: #cccccc; fill-opacity: 0.38"/>
</g>
<g clip-path="url(#pecd2aa6397)">
<circle cx="895.62" cy="148.24" r="2.74" style="fill: #cccccc; fill-opacity: 0.38"/>
</g>
<g clip-path="url(#pecd2aa6397)">
<circle cx="899.84" cy="142.49" r="2.74" style="fill: #cccccc; fill-opacity: 0.38"/>
</g>
<g clip-path="url(#pecd2aa6397)">
<circle cx="904.97" cy="139.62" r="2.74" style="fill: #cccccc; fill-opacity: 0.38"/>
</g>
<g clip-path="url(#pecd2aa6397)">
<circle cx="901.85" cy="146.93" r="2.74" style="fill: #cccccc; fill-opacity: 0.38"/>
</g>
<g clip-path="url(#pecd2aa6397)">
<circle cx="893.06" cy="152.68" r="2.74" style="fill: #cccccc; fill-opacity: 0.38"/>
</g>
<g clip-path="url(#pecd2aa6397)">
<circle cx="898.19" cy="153.99" r="2.74" style="fill: #cccccc; fill-opacity: 0.38"/>
</g>
<g clip-path="url(#pecd2aa6397)">
<circle cx="903.87" cy="151.9" r="2.74" style="fill: #cccccc; fill-opacity: 0.38"/>
</g>
<g clip-path="url(#pecd2aa6397)">
<circle cx="911.93" cy="148.76" r="2.74" style="fill: #cccccc; fill-opacity: 0.38"/>
</g>
<g clip-path="url(#pecd2aa6397)">
<circle cx="918.17" cy="151.64" r="2.74" style="fill: #cccccc; fill-opacity: 0.38"/>
</g>
<g clip-path="url(#pecd2aa6397)">
<circle cx="926.96" cy="148.76" r="2.74" style="fill: #cccccc; fill-opacity: 0.38"/>
</g>
<g clip-path="url(#pecd2aa6397)">
<circle cx="935.76" cy="148.24" r="2.74" style="fill: #cccccc; fill-opacity: 0.38"/>
</g>
<g clip-path="url(#pecd2aa6397)">
<circle cx="926.41" cy="154.51" r="2.74" style="fill: #cccccc; fill-opacity: 0.38"/>
</g>
<g clip-path="url(#pecd2aa6397)">
<circle cx="947.49" cy="155.56" r="2.74" style="fill: #cccccc; fill-opacity: 0.38"/>
</g>
<g clip-path="url(#pecd2aa6397)">
<circle cx="949.5" cy="153.99" r="2.74" style="fill: #cccccc; fill-opacity: 0.38"/>
</g>
<g clip-path="url(#pecd2aa6397)">
<circle cx="884.44" cy="153.99" r="2.74" style="fill: #cccccc; fill-opacity: 0.38"/>
</g>
<g clip-path="url(#pecd2aa6397)">
<circle cx="891.96" cy="158.43" r="2.74" style="fill: #cccccc; fill-opacity: 0.38"/>
</g>
<g clip-path="url(#pecd2aa6397)">
<circle cx="775.95" cy="165.49" r="2.74" style="fill: #cccccc; fill-opacity: 0.38"/>
</g>
<g clip-path="url(#pecd2aa6397)">
<circle cx="807.11" cy="174.89" r="2.74" style="fill: #cccccc; fill-opacity: 0.38"/>
</g>
<g clip-path="url(#pecd2aa6397)">
<circle cx="813.34" cy="166.27" r="2.74" style="fill: #cccccc; fill-opacity: 0.38"/>
</g>
<g clip-path="url(#pecd2aa6397)">
<circle cx="817" cy="167.06" r="2.74" style="fill: #cccccc; fill-opacity: 0.38"/>
</g>
<g clip-path="url(#pecd2aa6397)">
<circle cx="819.57" cy="164.96" r="2.74" style="fill: #cccccc; fill-opacity: 0.38"/>
</g>
<g clip-path="url(#pecd2aa6397)">
<circle cx="823.23" cy="163.4" r="2.74" style="fill: #cccccc; fill-opacity: 0.38"/>
</g>
<g clip-path="url(#pecd2aa6397)">
<circle cx="828.18" cy="166.27" r="2.74" style="fill: #cccccc; fill-opacity: 0.38"/>
</g>
<g clip-path="url(#pecd2aa6397)">
<circle cx="835.7" cy="173.33" r="2.74" style="fill: #cccccc; fill-opacity: 0.38"/>
</g>
<g clip-path="url(#pecd2aa6397)">
<circle cx="838.99" cy="173.85" r="2.74" style="fill: #cccccc; fill-opacity: 0.38"/>
</g>
<g clip-path="url(#pecd2aa6397)">
<circle cx="839.54" cy="166.27" r="2.74" style="fill: #cccccc; fill-opacity: 0.38"/>
</g>
<g clip-path="url(#pecd2aa6397)">
<circle cx="844.49" cy="167.58" r="2.74" style="fill: #cccccc; fill-opacity: 0.38"/>
</g>
<g clip-path="url(#pecd2aa6397)">
<circle cx="848.16" cy="169.15" r="2.74" style="fill: #cccccc; fill-opacity: 0.38"/>
</g>
<g clip-path="url(#pecd2aa6397)">
<circle cx="852.01" cy="164.96" r="2.74" style="fill: #cccccc; fill-opacity: 0.38"/>
</g>
<g clip-path="url(#pecd2aa6397)">
<circle cx="856.41" cy="173.85" r="2.74" style="fill: #cccccc; fill-opacity: 0.38"/>
</g>
<g clip-path="url(#pecd2aa6397)">
<circle cx="858.24" cy="180.38" r="2.74" style="fill: #cccccc; fill-opacity: 0.38"/>
</g>
<g clip-path="url(#pecd2aa6397)">
<circle cx="860.62" cy="186.13" r="2.74" style="fill: #cccccc; fill-opacity: 0.38"/>
</g>
<g clip-path="url(#pecd2aa6397)">
<circle cx="861.9" cy="179.08" r="2.74" style="fill: #cccccc; fill-opacity: 0.38"/>
</g>
<g clip-path="url(#pecd2aa6397)">
<circle cx="864.47" cy="177.77" r="2.74" style="fill: #cccccc; fill-opacity: 0.38"/>
</g>
<g clip-path="url(#pecd2aa6397)">
<circle cx="866.85" cy="174.89" r="2.74" style="fill: #cccccc; fill-opacity: 0.38"/>
</g>
<g clip-path="url(#pecd2aa6397)">
<circle cx="871.8" cy="175.68" r="2.74" style="fill: #cccccc; fill-opacity: 0.38"/>
</g>
<g clip-path="url(#pecd2aa6397)">
<circle cx="876.93" cy="190.31" r="2.74" style="fill: #cccccc; fill-opacity: 0.38"/>
</g>
<g clip-path="url(#pecd2aa6397)">
<circle cx="880.6" cy="178.55" r="2.74" style="fill: #cccccc; fill-opacity: 0.38"/>
</g>
<g clip-path="url(#pecd2aa6397)">
<circle cx="821.95" cy="160.52" r="2.74" style="fill: #cccccc; fill-opacity: 0.38"/>
</g>
<g clip-path="url(#pecd2aa6397)">
<circle cx="810.77" cy="160.52" r="2.74" style="fill: #cccccc; fill-opacity: 0.38"/>
</g>
<g clip-path="url(#pecd2aa6397)">
<circle cx="936.31" cy="163.4" r="2.74" style="fill: #cccccc; fill-opacity: 0.38"/>
</g>
<g clip-path="url(#pecd2aa6397)">
<circle cx="961.23" cy="164.18" r="2.74" style="fill: #cccccc; fill-opacity: 0.38"/>
</g>
<g clip-path="url(#pecd2aa6397)">
<circle cx="969.66" cy="163.4" r="2.74" style="fill: #cccccc; fill-opacity: 0.38"/>
</g>
<g clip-path="url(#pecd2aa6397)">
<circle cx="974.61" cy="170.98" r="2.74" style="fill: #cccccc; fill-opacity: 0.38"/>
</g>
<g clip-path="url(#pecd2aa6397)">
<circle cx="986.71" cy="169.15" r="2.74" style="fill: #cccccc; fill-opacity: 0.38"/>
</g>
<g clip-path="url(#pecd2aa6397)">
<circle cx="1001.19" cy="172.8" r="2.74" style="fill: #cccccc; fill-opacity: 0.38"/>
</g>
<g clip-path="url(#pecd2aa6397)">
<circle cx="949.14" cy="170.45" r="2.74" style="fill: #cccccc; fill-opacity: 0.38"/>
</g>
<g clip-path="url(#pecd2aa6397)">
<circle cx="1007.78" cy="186.13" r="2.74" style="fill: #cccccc; fill-opacity: 0.38"/>
</g>
<g clip-path="url(#pecd2aa6397)">
<circle cx="1016.58" cy="189.79" r="2.74" style="fill: #cccccc; fill-opacity: 0.38"/>
</g>
<g clip-path="url(#pecd2aa6397)">
<circle cx="1024.09" cy="189.01" r="2.74" style="fill: #cccccc; fill-opacity: 0.38"/>
</g>
<g clip-path="url(#pecd2aa6397)">
<circle cx="1012.91" cy="192.66" r="2.74" style="fill: #cccccc; fill-opacity: 0.38"/>
</g>
<g clip-path="url(#pecd2aa6397)">
<circle cx="977.91" cy="181.43" r="2.74" style="fill: #cccccc; fill-opacity: 0.38"/>
</g>
<g clip-path="url(#pecd2aa6397)">
<circle cx="980.48" cy="187.7" r="2.74" style="fill: #cccccc; fill-opacity: 0.38"/>
</g>
<g clip-path="url(#pecd2aa6397)">
<circle cx="884.26" cy="193.19" r="2.74" style="fill: #cccccc; fill-opacity: 0.38"/>
</g>
<g clip-path="url(#pecd2aa6397)">
<circle cx="890.49" cy="184.3" r="2.74" style="fill: #cccccc; fill-opacity: 0.38"/>
</g>
<g clip-path="url(#pecd2aa6397)">
<circle cx="899.84" cy="184.3" r="2.74" style="fill: #cccccc; fill-opacity: 0.38"/>
</g>
<g clip-path="url(#pecd2aa6397)">
<circle cx="906.8" cy="189.01" r="2.74" style="fill: #cccccc; fill-opacity: 0.38"/>
</g>
<g clip-path="url(#pecd2aa6397)">
<circle cx="921.83" cy="193.19" r="2.74" style="fill: #cccccc; fill-opacity: 0.38"/>
</g>
<g clip-path="url(#pecd2aa6397)">
<circle cx="930.44" cy="201.29" r="2.74" style="fill: #cccccc; fill-opacity: 0.38"/>
</g>
<g clip-path="url(#pecd2aa6397)">
<circle cx="934.29" cy="200.5" r="2.74" style="fill: #cccccc; fill-opacity: 0.38"/>
</g>
<g clip-path="url(#pecd2aa6397)">
<circle cx="940.52" cy="204.69" r="2.74" style="fill: #cccccc; fill-opacity: 0.38"/>
</g>
<g clip-path="url(#pecd2aa6397)">
<circle cx="945.47" cy="204.69" r="2.74" style="fill: #cccccc; fill-opacity: 0.38"/>
</g>
<g clip-path="url(#pecd2aa6397)">
<circle cx="951.7" cy="202.33" r="2.74" style="fill: #cccccc; fill-opacity: 0.38"/>
</g>
<g clip-path="url(#pecd2aa6397)">
<circle cx="959.22" cy="211.74" r="2.74" style="fill: #cccccc; fill-opacity: 0.38"/>
</g>
<g clip-path="url(#pecd2aa6397)">
<circle cx="961.6" cy="209.65" r="2.74" style="fill: #cccccc; fill-opacity: 0.38"/>
</g>
<g clip-path="url(#pecd2aa6397)">
<circle cx="969.11" cy="209.65" r="2.74" style="fill: #cccccc; fill-opacity: 0.38"/>
</g>
<g clip-path="url(#pecd2aa6397)">
<circle cx="976.63" cy="214.62" r="2.74" style="fill: #cccccc; fill-opacity: 0.38"/>
</g>
<g clip-path="url(#pecd2aa6397)">
<circle cx="980.48" cy="215.92" r="2.74" style="fill: #cccccc; fill-opacity: 0.38"/>
</g>
<g clip-path="url(#pecd2aa6397)">
<circle cx="984.14" cy="221.67" r="2.74" style="fill: #cccccc; fill-opacity: 0.38"/>
</g>
<g clip-path="url(#pecd2aa6397)">
<circle cx="989.09" cy="227.42" r="2.74" style="fill: #cccccc; fill-opacity: 0.38"/>
</g>
<g clip-path="url(#pecd2aa6397)">
<circle cx="998.62" cy="225.85" r="2.74" style="fill: #cccccc; fill-opacity: 0.38"/>
</g>
<g clip-path="url(#pecd2aa6397)">
<circle cx="1006.68" cy="224.55" r="2.74" style="fill: #cccccc; fill-opacity: 0.38"/>
</g>
<g clip-path="url(#pecd2aa6397)">
<circle cx="996.6" cy="231.6" r="2.74" style="fill: #cccccc; fill-opacity: 0.38"/>
</g>
<g clip-path="url(#pecd2aa6397)">
<circle cx="1002.83" cy="236.57" r="2.74" style="fill: #cccccc; fill-opacity: 0.38"/>
</g>
<g clip-path="url(#pecd2aa6397)">
<circle cx="1005.4" cy="242.05" r="2.74" style="fill: #cccccc; fill-opacity: 0.38"/>
</g>
<g clip-path="url(#pecd2aa6397)">
<circle cx="1018.6" cy="253.55" r="2.74" style="fill: #cccccc; fill-opacity: 0.38"/>
</g>
<g clip-path="url(#pecd2aa6397)">
<circle cx="896.91" cy="170.45" r="2.74" style="fill: #cccccc; fill-opacity: 0.38"/>
</g>
<g clip-path="url(#pecd2aa6397)">
<circle cx="919.27" cy="166.27" r="2.74" style="fill: #cccccc; fill-opacity: 0.38"/>
</g>
<g clip-path="url(#pecd2aa6397)">
<circle cx="906.8" cy="163.4" r="2.74" style="fill: #cccccc; fill-opacity: 0.38"/>
</g>
<g clip-path="url(#pecd2aa6397)">
<circle cx="780.48" cy="144.03" r="2.74" style="fill: #cccccc; fill-opacity: 0.38"/>
</g>
<g clip-path="url(#pecd2aa6397)">
<circle cx="884.43" cy="134.56" r="2.74" style="fill: #cccccc; fill-opacity: 0.38"/>
</g>
<g clip-path="url(#pecd2aa6397)">
<circle cx="913.09" cy="198.38" r="2.74" style="fill: #cccccc; fill-opacity: 0.38"/>
</g>
<g clip-path="url(#pecd2aa6397)">
<circle cx="752.47" cy="100.55" r="2.74" style="fill: #cccccc; fill-opacity: 0.38"/>
</g>
<g clip-path="url(#pecd2aa6397)">
<circle cx="785.91" cy="113.36" r="2.74" style="fill: #cccccc; fill-opacity: 0.38"/>
</g>
<g clip-path="url(#pecd2aa6397)">
<circle cx="1004.7" cy="235.09" r="2.74" style="fill: #cccccc; fill-opacity: 0.38"/>
</g>
<g clip-path="url(#pecd2aa6397)">
<circle cx="764.18" cy="108.19" r="2.74" style="fill: #cccccc; fill-opacity: 0.38"/>
</g>
<g clip-path="url(#pecd2aa6397)">
<circle cx="780.82" cy="104.14" r="2.74" style="fill: #cccccc; fill-opacity: 0.38"/>
</g>
<g clip-path="url(#pecd2aa6397)">
<circle cx="1010.34" cy="207.36" r="2.74" style="fill: #cccccc; fill-opacity: 0.38"/>
</g>
<g clip-path="url(#pecd2aa6397)">
<circle cx="918.8" cy="172.74" r="2.74" style="fill: #cccccc; fill-opacity: 0.38"/>
</g>
<g clip-path="url(#pecd2aa6397)">
<circle cx="847.89" cy="132.63" r="2.74" style="fill: #cccccc; fill-opacity: 0.38"/>
</g>
<g clip-path="url(#pecd2aa6397)">
<circle cx="887.82" cy="161.5" r="2.74" style="fill: #cccccc; fill-opacity: 0.38"/>
</g>
<g clip-path="url(#pecd2aa6397)">
<circle cx="930.29" cy="176.31" r="2.74" style="fill: #cccccc; fill-opacity: 0.38"/>
</g>
<g clip-path="url(#pecd2aa6397)">
<circle cx="821.63" cy="138.64" r="2.74" style="fill: #cccccc; fill-opacity: 0.38"/>
</g>
<g clip-path="url(#pecd2aa6397)">
<circle cx="783.12" cy="110.82" r="2.74" style="fill: #cccccc; fill-opacity: 0.38"/>
</g>
<g clip-path="url(#pecd2aa6397)">
<circle cx="965.39" cy="210.86" r="2.74" style="fill: #cccccc; fill-opacity: 0.38"/>
</g>
<g clip-path="url(#pecd2aa6397)">
<circle cx="932.4" cy="170.04" r="2.74" style="fill: #cccccc; fill-opacity: 0.38"/>
</g>
<g clip-path="url(#pecd2aa6397)">
<circle cx="888.1" cy="172.06" r="2.74" style="fill: #cccccc; fill-opacity: 0.38"/>
</g>
<g clip-path="url(#pecd2aa6397)">
<circle cx="973.44" cy="216.53" r="2.74" style="fill: #cccccc; fill-opacity: 0.38"/>
</g>
<g clip-path="url(#pecd2aa6397)">
<circle cx="898.39" cy="162.67" r="2.74" style="fill: #cccccc; fill-opacity: 0.38"/>
</g>
<g clip-path="url(#pecd2aa6397)">
<circle cx="1019.47" cy="191.92" r="2.74" style="fill: #cccccc; fill-opacity: 0.38"/>
</g>
<g clip-path="url(#pecd2aa6397)">
<circle cx="801.77" cy="113.37" r="2.74" style="fill: #cccccc; fill-opacity: 0.38"/>
</g>
<g clip-path="url(#pecd2aa6397)">
<circle cx="899.69" cy="177.02" r="2.74" style="fill: #cccccc; fill-opacity: 0.38"/>
</g>
<g clip-path="url(#pecd2aa6397)">
<circle cx="880.04" cy="149.86" r="2.74" style="fill: #cccccc; fill-opacity: 0.38"/>
</g>
<g clip-path="url(#pecd2aa6397)">
<circle cx="843.49" cy="152.81" r="2.74" style="fill: #cccccc; fill-opacity: 0.38"/>
</g>
<g clip-path="url(#pecd2aa6397)">
<circle cx="910.31" cy="175.27" r="2.74" style="fill: #cccccc; fill-opacity: 0.38"/>
</g>
<g clip-path="url(#pecd2aa6397)">
<circle cx="810.41" cy="130.61" r="2.74" style="fill: #cccccc; fill-opacity: 0.38"/>
</g>
<g clip-path="url(#pecd2aa6397)">
<circle cx="969.36" cy="234.08" r="2.74" style="fill: #cccccc; fill-opacity: 0.38"/>
</g>
<g clip-path="url(#pecd2aa6397)">
<circle cx="987.63" cy="202.29" r="2.74" style="fill: #cccccc; fill-opacity: 0.38"/>
</g>
<g clip-path="url(#pecd2aa6397)">
<circle cx="780.53" cy="135.8" r="2.74" style="fill: #cccccc; fill-opacity: 0.38"/>
</g>
<g clip-path="url(#pecd2aa6397)">
<circle cx="875.4" cy="169.82" r="2.74" style="fill: #cccccc; fill-opacity: 0.38"/>
</g>
<g clip-path="url(#pecd2aa6397)">
<circle cx="822.14" cy="159.98" r="2.74" style="fill: #cccccc; fill-opacity: 0.38"/>
</g>
<g clip-path="url(#pecd2aa6397)">
<circle cx="767.74" cy="138.15" r="2.74" style="fill: #cccccc; fill-opacity: 0.38"/>
</g>
<g clip-path="url(#pecd2aa6397)">
<circle cx="995.65" cy="223.4" r="2.74" style="fill: #cccccc; fill-opacity: 0.38"/>
</g>
<g clip-path="url(#pecd2aa6397)">
<circle cx="864.99" cy="141.64" r="2.74" style="fill: #cccccc; fill-opacity: 0.38"/>
</g>
<g clip-path="url(#pecd2aa6397)">
<circle cx="785.84" cy="95.73" r="2.74" style="fill: #cccccc; fill-opacity: 0.38"/>
</g>
<g clip-path="url(#pecd2aa6397)">
<circle cx="933.24" cy="183.2" r="2.74" style="fill: #cccccc; fill-opacity: 0.38"/>
</g>
<g clip-path="url(#pecd2aa6397)">
<circle cx="801.13" cy="111.06" r="2.74" style="fill: #cccccc; fill-opacity: 0.38"/>
</g>
<g clip-path="url(#pecd2aa6397)">
<circle cx="997.19" cy="213.39" r="2.74" style="fill: #cccccc; fill-opacity: 0.38"/>
</g>
<g clip-path="url(#pecd2aa6397)">
<circle cx="805.32" cy="159.89" r="2.74" style="fill: #cccccc; fill-opacity: 0.38"/>
</g>
<g clip-path="url(#pecd2aa6397)">
<circle cx="753.7" cy="106.22" r="2.74" style="fill: #cccccc; fill-opacity: 0.38"/>
</g>
<g clip-path="url(#pecd2aa6397)">
<circle cx="800.72" cy="121.02" r="2.74" style="fill: #cccccc; fill-opacity: 0.38"/>
</g>
<g clip-path="url(#pecd2aa6397)">
<circle cx="841.38" cy="151.54" r="2.74" style="fill: #cccccc; fill-opacity: 0.38"/>
</g>
<g clip-path="url(#pecd2aa6397)">
<circle cx="875.91" cy="154.36" r="2.74" style="fill: #cccccc; fill-opacity: 0.38"/>
</g>
<g clip-path="url(#pecd2aa6397)">
<circle cx="998.51" cy="200.82" r="2.74" style="fill: #cccccc; fill-opacity: 0.38"/>
</g>
<g clip-path="url(#pecd2aa6397)">
<circle cx="939.97" cy="199.13" r="2.74" style="fill: #cccccc; fill-opacity: 0.38"/>
</g>
<g clip-path="url(#pecd2aa6397)">
<circle cx="839.57" cy="167.23" r="2.74" style="fill: #cccccc; fill-opacity: 0.38"/>
</g>
<g clip-path="url(#pecd2aa6397)">
<circle cx="749.16" cy="110.16" r="2.74" style="fill: #cccccc; fill-opacity: 0.38"/>
</g>
<g clip-path="url(#pecd2aa6397)">
<circle cx="789.24" cy="126.57" r="2.74" style="fill: #cccccc; fill-opacity: 0.38"/>
</g>
<g clip-path="url(#pecd2aa6397)">
<circle cx="1023.83" cy="225.79" r="2.74" style="fill: #cccccc; fill-opacity: 0.38"/>
</g>
<g clip-path="url(#pecd2aa6397)">
<circle cx="873.33" cy="142.55" r="2.74" style="fill: #cccccc; fill-opacity: 0.38"/>
</g>
<g clip-path="url(#pecd2aa6397)">
<circle cx="938.19" cy="157.8" r="2.74" style="fill: #cccccc; fill-opacity: 0.38"/>
</g>
<g clip-path="url(#pecd2aa6397)">
<circle cx="759.76" cy="117.6" r="2.74" style="fill: #cccccc; fill-opacity: 0.38"/>
</g>
<g clip-path="url(#pecd2aa6397)">
<circle cx="753.98" cy="97.72" r="2.74" style="fill: #cccccc; fill-opacity: 0.38"/>
</g>
<g clip-path="url(#pecd2aa6397)">
<circle cx="981.61" cy="188.06" r="2.74" style="fill: #cccccc; fill-opacity: 0.38"/>
</g>
<g clip-path="url(#pecd2aa6397)">
<circle cx="909.27" cy="161.71" r="2.74" style="fill: #cccccc; fill-opacity: 0.38"/>
</g>
<g clip-path="url(#pecd2aa6397)">
<circle cx="830.99" cy="124.1" r="2.74" style="fill: #cccccc; fill-opacity: 0.38"/>
</g>
<g clip-path="url(#pecd2aa6397)">
<circle cx="833.42" cy="147.63" r="2.74" style="fill: #cccccc; fill-opacity: 0.38"/>
</g>
<g clip-path="url(#pecd2aa6397)">
<circle cx="769.45" cy="103.48" r="2.74" style="fill: #cccccc; fill-opacity: 0.38"/>
</g>
<g clip-path="url(#pecd2aa6397)">
<circle cx="792.85" cy="93.01" r="2.74" style="fill: #cccccc; fill-opacity: 0.38"/>
</g>
<g clip-path="url(#pecd2aa6397)">
<circle cx="751.32" cy="94.98" r="2.74" style="fill: #cccccc; fill-opacity: 0.38"/>
</g>
<g clip-path="url(#pecd2aa6397)">
<circle cx="979.72" cy="211.74" r="2.74" style="fill: #cccccc; fill-opacity: 0.38"/>
</g>
<g clip-path="url(#pecd2aa6397)">
<circle cx="875.18" cy="149.27" r="2.74" style="fill: #cccccc; fill-opacity: 0.38"/>
</g>
<g clip-path="url(#pecd2aa6397)">
<circle cx="780.1" cy="99.69" r="2.74" style="fill: #cccccc; fill-opacity: 0.38"/>
</g>
<g clip-path="url(#pecd2aa6397)">
<circle cx="951.71" cy="184.66" r="2.74" style="fill: #cccccc; fill-opacity: 0.38"/>
</g>
<g clip-path="url(#pecd2aa6397)">
<circle cx="799.29" cy="136.25" r="2.74" style="fill: #cccccc; fill-opacity: 0.38"/>
</g>
<g clip-path="url(#pecd2aa6397)">
<circle cx="761.79" cy="87.72" r="2.74" style="fill: #cccccc; fill-opacity: 0.38"/>
</g>
<g clip-path="url(#pecd2aa6397)">
<circle cx="912.22" cy="193.71" r="2.74" style="fill: #cccccc; fill-opacity: 0.38"/>
</g>
<g clip-path="url(#pecd2aa6397)">
<circle cx="995.6" cy="200.7" r="2.74" style="fill: #cccccc; fill-opacity: 0.38"/>
</g>
<g clip-path="url(#pecd2aa6397)">
<circle cx="751.98" cy="108.11" r="2.74" style="fill: #cccccc; fill-opacity: 0.38"/>
</g>
<g clip-path="url(#pecd2aa6397)">
<circle cx="970.19" cy="216.8" r="2.74" style="fill: #cccccc; fill-opacity: 0.38"/>
</g>
<g clip-path="url(#pecd2aa6397)">
<circle cx="797.75" cy="107.66" r="2.74" style="fill: #cccccc; fill-opacity: 0.38"/>
</g>
<g clip-path="url(#pecd2aa6397)">
<circle cx="770.48" cy="110.05" r="2.74" style="fill: #cccccc; fill-opacity: 0.38"/>
</g>
<g clip-path="url(#pecd2aa6397)">
<circle cx="749.47" cy="125.11" r="2.74" style="fill: #cccccc; fill-opacity: 0.38"/>
</g>
<g clip-path="url(#pecd2aa6397)">
<circle cx="826.58" cy="129.27" r="2.74" style="fill: #cccccc; fill-opacity: 0.38"/>
</g>
<g clip-path="url(#pecd2aa6397)">
<circle cx="948.31" cy="195.8" r="2.74" style="fill: #cccccc; fill-opacity: 0.38"/>
</g>
<g clip-path="url(#pecd2aa6397)">
<circle cx="882.72" cy="191.75" r="2.74" style="fill: #cccccc; fill-opacity: 0.38"/>
</g>
<g clip-path="url(#pecd2aa6397)">
<circle cx="983.59" cy="214.43" r="2.74" style="fill: #cccccc; fill-opacity: 0.38"/>
</g>
<g clip-path="url(#pecd2aa6397)">
<circle cx="805.33" cy="125.78" r="2.74" style="fill: #cccccc; fill-opacity: 0.38"/>
</g>
<g clip-path="url(#pecd2aa6397)">
<circle cx="832.81" cy="131.31" r="2.74" style="fill: #cccccc; fill-opacity: 0.38"/>
</g>
<g clip-path="url(#pecd2aa6397)">
<circle cx="816.81" cy="132.07" r="2.74" style="fill: #cccccc; fill-opacity: 0.38"/>
</g>
<g clip-path="url(#pecd2aa6397)">
<circle cx="1018.74" cy="217.45" r="2.74" style="fill: #cccccc; fill-opacity: 0.38"/>
</g>
<g clip-path="url(#pecd2aa6397)">
<circle cx="1008.28" cy="206.47" r="2.74" style="fill: #cccccc; fill-opacity: 0.38"/>
</g>
<g clip-path="url(#pecd2aa6397)">
<circle cx="839.96" cy="147.54" r="2.74" style="fill: #cccccc; fill-opacity: 0.38"/>
</g>
<g clip-path="url(#pecd2aa6397)">
<circle cx="866.68" cy="136.83" r="2.74" style="fill: #cccccc; fill-opacity: 0.38"/>
</g>
<g clip-path="url(#pecd2aa6397)">
<circle cx="832.56" cy="138.85" r="2.74" style="fill: #cccccc; fill-opacity: 0.38"/>
</g>
<g clip-path="url(#pecd2aa6397)">
<circle cx="953.75" cy="186.68" r="2.74" style="fill: #cccccc; fill-opacity: 0.38"/>
</g>
<g clip-path="url(#pecd2aa6397)">
<circle cx="755.65" cy="100.89" r="2.74" style="fill: #cccccc; fill-opacity: 0.38"/>
</g>
<g clip-path="url(#pecd2aa6397)">
<circle cx="763.34" cy="129.13" r="2.74" style="fill: #cccccc; fill-opacity: 0.38"/>
</g>
<g clip-path="url(#pecd2aa6397)">
<circle cx="857.72" cy="162.7" r="2.74" style="fill: #cccccc; fill-opacity: 0.38"/>
</g>
<g clip-path="url(#pecd2aa6397)">
<circle cx="813.15" cy="109.18" r="2.74" style="fill: #cccccc; fill-opacity: 0.38"/>
</g>
<g clip-path="url(#pecd2aa6397)">
<circle cx="981.43" cy="197.47" r="2.74" style="fill: #cccccc; fill-opacity: 0.38"/>
</g>
<g clip-path="url(#pecd2aa6397)">
<circle cx="952.43" cy="195.17" r="2.74" style="fill: #cccccc; fill-opacity: 0.38"/>
</g>
<g clip-path="url(#pecd2aa6397)">
<circle cx="897.47" cy="162.66" r="2.74" style="fill: #cccccc; fill-opacity: 0.38"/>
</g>
<g clip-path="url(#pecd2aa6397)">
<circle cx="929.91" cy="188.98" r="2.74" style="fill: #cccccc; fill-opacity: 0.38"/>
</g>
<g clip-path="url(#pecd2aa6397)">
<circle cx="938.54" cy="180.63" r="2.74" style="fill: #cccccc; fill-opacity: 0.38"/>
</g>
<g clip-path="url(#pecd2aa6397)">
<circle cx="963.43" cy="205.73" r="2.74" style="fill: #cccccc; fill-opacity: 0.38"/>
</g>
<g clip-path="url(#pecd2aa6397)">
<circle cx="1004.5" cy="207.94" r="2.74" style="fill: #cccccc; fill-opacity: 0.38"/>
</g>
<g clip-path="url(#pecd2aa6397)">
<circle cx="786.41" cy="146.83" r="2.74" style="fill: #cccccc; fill-opacity: 0.38"/>
</g>
<g clip-path="url(#pecd2aa6397)">
<circle cx="919.99" cy="156.46" r="2.74" style="fill: #cccccc; fill-opacity: 0.38"/>
</g>
<g clip-path="url(#pecd2aa6397)">
<circle cx="784.7" cy="129.43" r="2.74" style="fill: #cccccc; fill-opacity: 0.38"/>
</g>
<g clip-path="url(#pecd2aa6397)">
<circle cx="868.68" cy="180.9" r="2.74" style="fill: #cccccc; fill-opacity: 0.38"/>
</g>
<g clip-path="url(#pecd2aa6397)">
<circle cx="964.9" cy="199.41" r="2.74" style="fill: #cccccc; fill-opacity: 0.38"/>
</g>
<g clip-path="url(#pecd2aa6397)">
<circle cx="995.3" cy="214.29" r="2.74" style="fill: #cccccc; fill-opacity: 0.38"/>
</g>
<g clip-path="url(#pecd2aa6397)">
<circle cx="957.31" cy="190.37" r="2.74" style="fill: #cccccc; fill-opacity: 0.38"/>
</g>
<g clip-path="url(#pecd2aa6397)">
<circle cx="754.36" cy="126.79" r="2.74" style="fill: #cccccc; fill-opacity: 0.38"/>
</g>
<g clip-path="url(#pecd2aa6397)">
<circle cx="845.21" cy="140.17" r="2.74" style="fill: #cccccc; fill-opacity: 0.38"/>
</g>
<g clip-path="url(#pecd2aa6397)">
<circle cx="790.15" cy="66.82" r="2.74" style="fill: #cccccc; fill-opacity: 0.38"/>
</g>
<g clip-path="url(#pecd2aa6397)">
<circle cx="1024.49" cy="240.59" r="2.74" style="fill: #cccccc; fill-opacity: 0.38"/>
</g>
<g clip-path="url(#pecd2aa6397)">
<circle cx="784.81" cy="116.13" r="2.74" style="fill: #cccccc; fill-opacity: 0.38"/>
</g>
<g clip-path="url(#pecd2aa6397)">
<circle cx="812.93" cy="137.93" r="2.74" style="fill: #cccccc; fill-opacity: 0.38"/>
</g>
<g clip-path="url(#pecd2aa6397)">
<circle cx="844.59" cy="143.13" r="2.74" style="fill: #cccccc; fill-opacity: 0.38"/>
</g>
<g clip-path="url(#pecd2aa6397)">
<circle cx="761.5" cy="140.2" r="2.74" style="fill: #cccccc; fill-opacity: 0.38"/>
</g>
<g clip-path="url(#pecd2aa6397)">
<circle cx="988.48" cy="223.7" r="2.74" style="fill: #cccccc; fill-opacity: 0.38"/>
</g>
<g clip-path="url(#pecd2aa6397)">
<circle cx="922.86" cy="171.31" r="2.74" style="fill: #cccccc; fill-opacity: 0.38"/>
</g>
<g clip-path="url(#pecd2aa6397)">
<circle cx="789.22" cy="123.86" r="2.74" style="fill: #cccccc; fill-opacity: 0.38"/>
</g>
<g clip-path="url(#pecd2aa6397)">
<circle cx="884.14" cy="136.86" r="2.74" style="fill: #cccccc; fill-opacity: 0.38"/>
</g>
<g clip-path="url(#pecd2aa6397)">
<circle cx="766.49" cy="124.9" r="2.74" style="fill: #cccccc; fill-opacity: 0.38"/>
</g>
<g clip-path="url(#pecd2aa6397)">
<circle cx="915.75" cy="172.84" r="2.74" style="fill: #cccccc; fill-opacity: 0.38"/>
</g>
<g clip-path="url(#pecd2aa6397)">
<circle cx="809.39" cy="85.92" r="2.74" style="fill: #cccccc; fill-opacity: 0.38"/>
</g>
<g clip-path="url(#pecd2aa6397)">
<circle cx="755.26" cy="121.21" r="2.74" style="fill: #cccccc; fill-opacity: 0.38"/>
</g>
<g clip-path="url(#pecd2aa6397)">
<circle cx="776.74" cy="132.26" r="2.74" style="fill: #cccccc; fill-opacity: 0.38"/>
</g>
<g clip-path="url(#pecd2aa6397)">
<circle cx="900.12" cy="169.66" r="2.74" style="fill: #cccccc; fill-opacity: 0.38"/>
</g>
<g clip-path="url(#pecd2aa6397)">
<circle cx="923.04" cy="179.29" r="2.74" style="fill: #cccccc; fill-opacity: 0.38"/>
</g>
<g clip-path="url(#pecd2aa6397)">
<circle cx="835.5" cy="129.16" r="2.74" style="fill: #cccccc; fill-opacity: 0.38"/>
</g>
<g clip-path="url(#pecd2aa6397)">
<circle cx="924.85" cy="177.31" r="2.74" style="fill: #cccccc; fill-opacity: 0.38"/>
</g>
<g clip-path="url(#pecd2aa6397)">
<circle cx="843.15" cy="157.42" r="2.74" style="fill: #cccccc; fill-opacity: 0.38"/>
</g>
<g clip-path="url(#pecd2aa6397)">
<circle cx="781.07" cy="116.57" r="2.74" style="fill: #cccccc; fill-opacity: 0.38"/>
</g>
<g clip-path="url(#pecd2aa6397)">
<circle cx="832.81" cy="99.91" r="2.74" style="fill: #cccccc; fill-opacity: 0.38"/>
</g>
<g clip-path="url(#pecd2aa6397)">
<circle cx="855.26" cy="130.62" r="2.74" style="fill: #cccccc; fill-opacity: 0.38"/>
</g>
<g clip-path="url(#pecd2aa6397)">
<circle cx="1000.33" cy="254.17" r="2.74" style="fill: #cccccc; fill-opacity: 0.38"/>
</g>
<g clip-path="url(#pecd2aa6397)">
<circle cx="776.86" cy="120.37" r="2.74" style="fill: #cccccc; fill-opacity: 0.38"/>
</g>
<g clip-path="url(#pecd2aa6397)">
<circle cx="768.59" cy="128.44" r="2.74" style="fill: #cccccc; fill-opacity: 0.38"/>
</g>
<g clip-path="url(#pecd2aa6397)">
<circle cx="901.87" cy="160.08" r="2.74" style="fill: #cccccc; fill-opacity: 0.38"/>
</g>
<g clip-path="url(#pecd2aa6397)">
<circle cx="1014.56" cy="219.15" r="2.74" style="fill: #cccccc; fill-opacity: 0.38"/>
</g>
<g clip-path="url(#pecd2aa6397)">
<circle cx="998.82" cy="179.62" r="2.74" style="fill: #cccccc; fill-opacity: 0.38"/>
</g>
<g clip-path="url(#pecd2aa6397)">
<circle cx="940.78" cy="171.32" r="2.74" style="fill: #cccccc; fill-opacity: 0.38"/>
</g>
<g clip-path="url(#pecd2aa6397)">
<circle cx="763.15" cy="98.51" r="2.74" style="fill: #cccccc; fill-opacity: 0.38"/>
</g>
<g clip-path="url(#pecd2aa6397)">
<circle cx="970.54" cy="195.31" r="2.74" style="fill: #cccccc; fill-opacity: 0.38"/>
</g>
<g clip-path="url(#pecd2aa6397)">
<circle cx="936.05" cy="184.6" r="2.74" style="fill: #cccccc; fill-opacity: 0.38"/>
</g>
<g clip-path="url(#pecd2aa6397)">
<circle cx="784.79" cy="116.09" r="2.74" style="fill: #cccccc; fill-opacity: 0.38"/>
</g>
<g clip-path="url(#pecd2aa6397)">
<circle cx="874.8" cy="138.33" r="2.74" style="fill: #cccccc; fill-opacity: 0.38"/>
</g>
<g clip-path="url(#pecd2aa6397)">
<circle cx="758.26" cy="102.07" r="2.74" style="fill: #cccccc; fill-opacity: 0.38"/>
</g>
<g clip-path="url(#pecd2aa6397)">
<circle cx="969.27" cy="203.21" r="2.74" style="fill: #cccccc; fill-opacity: 0.38"/>
</g>
<g clip-path="url(#pecd2aa6397)">
<circle cx="945.93" cy="168.06" r="2.74" style="fill: #cccccc; fill-opacity: 0.38"/>
</g>
<g clip-path="url(#pecd2aa6397)">
<circle cx="970.04" cy="195.01" r="2.74" style="fill: #cccccc; fill-opacity: 0.38"/>
</g>
<g clip-path="url(#pecd2aa6397)">
<circle cx="957.65" cy="194.12" r="2.74" style="fill: #cccccc; fill-opacity: 0.38"/>
</g>
<g clip-path="url(#pecd2aa6397)">
<circle cx="819.37" cy="148.13" r="2.74" style="fill: #cccccc; fill-opacity: 0.38"/>
</g>
<g clip-path="url(#pecd2aa6397)">
<circle cx="965.87" cy="205.17" r="2.74" style="fill: #cccccc; fill-opacity: 0.38"/>
</g>
<g clip-path="url(#pecd2aa6397)">
<circle cx="814.3" cy="143.59" r="2.74" style="fill: #cccccc; fill-opacity: 0.38"/>
</g>
<g clip-path="url(#pecd2aa6397)">
<circle cx="783.1" cy="164.5" r="2.74" style="fill: #cccccc; fill-opacity: 0.38"/>
</g>
<g clip-path="url(#pecd2aa6397)">
<circle cx="853.89" cy="134.05" r="2.74" style="fill: #cccccc; fill-opacity: 0.38"/>
</g>
<g clip-path="url(#pecd2aa6397)">
<circle cx="884.02" cy="153.57" r="2.74" style="fill: #cccccc; fill-opacity: 0.38"/>
</g>
<g clip-path="url(#pecd2aa6397)">
<circle cx="824.57" cy="141.23" r="2.74" style="fill: #cccccc; fill-opacity: 0.38"/>
</g>
<g clip-path="url(#pecd2aa6397)">
<circle cx="914.29" cy="158.57" r="2.74" style="fill: #cccccc; fill-opacity: 0.38"/>
</g>
<g clip-path="url(#pecd2aa6397)">
<circle cx="913.37" cy="167.72" r="2.74" style="fill: #cccccc; fill-opacity: 0.38"/>
</g>
<g clip-path="url(#pecd2aa6397)">
<circle cx="811.67" cy="126.71" r="2.74" style="fill: #cccccc; fill-opacity: 0.38"/>
</g>
<g clip-path="url(#pecd2aa6397)">
<circle cx="919" cy="215.72" r="2.74" style="fill: #cccccc; fill-opacity: 0.38"/>
</g>
<g clip-path="url(#pecd2aa6397)">
<circle cx="844.6" cy="149.81" r="2.74" style="fill: #cccccc; fill-opacity: 0.38"/>
</g>
<g clip-path="url(#pecd2aa6397)">
<circle cx="950.43" cy="181.57" r="2.74" style="fill: #cccccc; fill-opacity: 0.38"/>
</g>
<g clip-path="url(#pecd2aa6397)">
<circle cx="825.86" cy="113.17" r="2.74" style="fill: #cccccc; fill-opacity: 0.38"/>
</g>
<g clip-path="url(#pecd2aa6397)">
<circle cx="968.41" cy="168.49" r="2.74" style="fill: #cccccc; fill-opacity: 0.38"/>
</g>
<g clip-path="url(#pecd2aa6397)">
<circle cx="860.83" cy="130.51" r="2.74" style="fill: #cccccc; fill-opacity: 0.38"/>
</g>
<g clip-path="url(#pecd2aa6397)">
<circle cx="899.56" cy="187.09" r="2.74" style="fill: #cccccc; fill-opacity: 0.38"/>
</g>
<g clip-path="url(#pecd2aa6397)">
<circle cx="933.23" cy="217.26" r="2.74" style="fill: #cccccc; fill-opacity: 0.38"/>
</g>
<g clip-path="url(#pecd2aa6397)">
<circle cx="889.78" cy="155.89" r="2.74" style="fill: #cccccc; fill-opacity: 0.38"/>
</g>
<g clip-path="url(#pecd2aa6397)">
<circle cx="816.66" cy="134.17" r="2.74" style="fill: #cccccc; fill-opacity: 0.38"/>
</g>
<g clip-path="url(#pecd2aa6397)">
<circle cx="1019.04" cy="203.2" r="2.74" style="fill: #cccccc; fill-opacity: 0.38"/>
</g>
<g clip-path="url(#pecd2aa6397)">
<circle cx="771.36" cy="117.84" r="2.74" style="fill: #cccccc; fill-opacity: 0.38"/>
</g>
<g clip-path="url(#pecd2aa6397)">
<circle cx="835.54" cy="138.96" r="2.74" style="fill: #cccccc; fill-opacity: 0.38"/>
</g>
<g clip-path="url(#pecd2aa6397)">
<circle cx="898.4" cy="191.92" r="2.74" style="fill: #cccccc; fill-opacity: 0.38"/>
</g>
<g clip-path="url(#pecd2aa6397)">
<circle cx="752.48" cy="101.03" r="2.74" style="fill: #cccccc; fill-opacity: 0.38"/>
</g>
<g clip-path="url(#pecd2aa6397)">
<circle cx="787.87" cy="129.67" r="2.74" style="fill: #cccccc; fill-opacity: 0.38"/>
</g>
<g clip-path="url(#pecd2aa6397)">
<circle cx="968.54" cy="191.92" r="2.74" style="fill: #cccccc; fill-opacity: 0.38"/>
</g>
<g clip-path="url(#pecd2aa6397)">
<circle cx="964.21" cy="188.41" r="2.74" style="fill: #cccccc; fill-opacity: 0.38"/>
</g>
<g clip-path="url(#pecd2aa6397)">
<circle cx="923.03" cy="180.42" r="2.74" style="fill: #cccccc; fill-opacity: 0.38"/>
</g>
<g clip-path="url(#pecd2aa6397)">
<circle cx="997.29" cy="204.32" r="2.74" style="fill: #cccccc; fill-opacity: 0.38"/>
</g>
<g clip-path="url(#pecd2aa6397)">
<circle cx="956.28" cy="192.54" r="2.74" style="fill: #cccccc; fill-opacity: 0.38"/>
</g>
<g clip-path="url(#pecd2aa6397)">
<circle cx="828.21" cy="127.47" r="2.74" style="fill: #cccccc; fill-opacity: 0.38"/>
</g>
<g clip-path="url(#pecd2aa6397)">
<circle cx="925.25" cy="171.63" r="2.74" style="fill: #cccccc; fill-opacity: 0.38"/>
</g>
<g clip-path="url(#pecd2aa6397)">
<circle cx="839.79" cy="152.74" r="2.74" style="fill: #cccccc; fill-opacity: 0.38"/>
</g>
<g clip-path="url(#pecd2aa6397)">
<circle cx="954.68" cy="200.89" r="2.74" style="fill: #cccccc; fill-opacity: 0.38"/>
</g>
<g clip-path="url(#pecd2aa6397)">
<circle cx="852.32" cy="122.01" r="2.74" style="fill: #cccccc; fill-opacity: 0.38"/>
</g>
<g clip-path="url(#pecd2aa6397)">
<circle cx="787.4" cy="124.09" r="2.74" style="fill: #cccccc; fill-opacity: 0.38"/>
</g>
<g clip-path="url(#pecd2aa6397)">
<circle cx="990.19" cy="190.8" r="2.74" style="fill: #cccccc; fill-opacity: 0.38"/>
</g>
<g clip-path="url(#pecd2aa6397)">
<circle cx="938.02" cy="178.61" r="2.74" style="fill: #cccccc; fill-opacity: 0.38"/>
</g>
<g clip-path="url(#pecd2aa6397)">
<circle cx="953.24" cy="199.92" r="2.74" style="fill: #cccccc; fill-opacity: 0.38"/>
</g>
<g clip-path="url(#pecd2aa6397)">
<circle cx="901.34" cy="181.36" r="2.74" style="fill: #cccccc; fill-opacity: 0.38"/>
</g>
<g clip-path="url(#pecd2aa6397)">
<circle cx="963.96" cy="193.63" r="2.74" style="fill: #cccccc; fill-opacity: 0.38"/>
</g>
<g clip-path="url(#pecd2aa6397)">
<circle cx="870.01" cy="152.64" r="2.74" style="fill: #cccccc; fill-opacity: 0.38"/>
</g>
<g clip-path="url(#pecd2aa6397)">
<circle cx="903.08" cy="160.7" r="2.74" style="fill: #cccccc; fill-opacity: 0.38"/>
</g>
<g clip-path="url(#pecd2aa6397)">
<circle cx="761.97" cy="131.85" r="2.74" style="fill: #cccccc; fill-opacity: 0.38"/>
</g>
<g clip-path="url(#pecd2aa6397)">
<circle cx="900.07" cy="178.41" r="2.74" style="fill: #cccccc; fill-opacity: 0.38"/>
</g>
<g clip-path="url(#pecd2aa6397)">
<circle cx="972.84" cy="200.67" r="2.74" style="fill: #cccccc; fill-opacity: 0.38"/>
</g>
<g clip-path="url(#pecd2aa6397)">
<circle cx="942.26" cy="161.44" r="2.74" style="fill: #cccccc; fill-opacity: 0.38"/>
</g>
<g clip-path="url(#pecd2aa6397)">
<circle cx="969.63" cy="234.86" r="2.74" style="fill: #cccccc; fill-opacity: 0.38"/>
</g>
<g clip-path="url(#pecd2aa6397)">
<circle cx="883.53" cy="155.37" r="2.74" style="fill: #cccccc; fill-opacity: 0.38"/>
</g>
<g clip-path="url(#pecd2aa6397)">
<circle cx="991.55" cy="215.39" r="2.74" style="fill: #cccccc; fill-opacity: 0.38"/>
</g>
<g clip-path="url(#pecd2aa6397)">
<circle cx="774.8" cy="110.53" r="2.74" style="fill: #cccccc; fill-opacity: 0.38"/>
</g>
<g clip-path="url(#pecd2aa6397)">
<circle cx="989.97" cy="213.98" r="2.74" style="fill: #cccccc; fill-opacity: 0.38"/>
</g>
<g clip-path="url(#pecd2aa6397)">
<circle cx="763.37" cy="109.85" r="2.74" style="fill: #cccccc; fill-opacity: 0.38"/>
</g>
<g clip-path="url(#pecd2aa6397)">
<circle cx="762.36" cy="95.34" r="2.74" style="fill: #cccccc; fill-opacity: 0.38"/>
</g>
<g clip-path="url(#pecd2aa6397)">
<circle cx="799.95" cy="139.98" r="2.74" style="fill: #cccccc; fill-opacity: 0.38"/>
</g>
<g clip-path="url(#pecd2aa6397)">
<circle cx="763.86" cy="111.02" r="2.74" style="fill: #cccccc; fill-opacity: 0.38"/>
</g>
<g clip-path="url(#pecd2aa6397)">
<circle cx="791.36" cy="115.99" r="2.74" style="fill: #cccccc; fill-opacity: 0.38"/>
</g>
<g clip-path="url(#pecd2aa6397)">
<circle cx="743.39" cy="86.26" r="2.74" style="fill: #cccccc; fill-opacity: 0.38"/>
</g>
<g clip-path="url(#pecd2aa6397)">
<circle cx="767.69" cy="93.01" r="2.74" style="fill: #cccccc; fill-opacity: 0.38"/>
</g>
<g clip-path="url(#pecd2aa6397)">
<circle cx="772.1" cy="114.66" r="2.74" style="fill: #cccccc; fill-opacity: 0.38"/>
</g>
<g clip-path="url(#pecd2aa6397)">
<circle cx="791.94" cy="125.97" r="2.74" style="fill: #cccccc; fill-opacity: 0.38"/>
</g>
<g clip-path="url(#pecd2aa6397)">
<circle cx="796.61" cy="114.83" r="2.74" style="fill: #cccccc; fill-opacity: 0.38"/>
</g>
<g clip-path="url(#pecd2aa6397)">
<circle cx="747.45" cy="103.43" r="2.74" style="fill: #cccccc; fill-opacity: 0.38"/>
</g>
<g clip-path="url(#pecd2aa6397)">
<circle cx="778.95" cy="115.87" r="2.74" style="fill: #cccccc; fill-opacity: 0.38"/>
</g>
<g clip-path="url(#pecd2aa6397)">
<circle cx="779.76" cy="100.95" r="2.74" style="fill: #cccccc; fill-opacity: 0.38"/>
</g>
<g clip-path="url(#pecd2aa6397)">
<circle cx="747.37" cy="80.87" r="2.74" style="fill: #cccccc; fill-opacity: 0.38"/>
</g>
<g clip-path="url(#pecd2aa6397)">
<circle cx="793.62" cy="115.62" r="2.74" style="fill: #cccccc; fill-opacity: 0.38"/>
</g>
<g clip-path="url(#pecd2aa6397)">
<circle cx="774.63" cy="112.8" r="2.74" style="fill: #cccccc; fill-opacity: 0.38"/>
</g>
<g clip-path="url(#pecd2aa6397)">
<circle cx="802.31" cy="115.86" r="2.74" style="fill: #cccccc; fill-opacity: 0.38"/>
</g>
<g clip-path="url(#pecd2aa6397)">
<circle cx="749.73" cy="121.11" r="2.74" style="fill: #cccccc; fill-opacity: 0.38"/>
</g>
<g clip-path="url(#pecd2aa6397)">
<circle cx="772.7" cy="110.09" r="2.74" style="fill: #cccccc; fill-opacity: 0.38"/>
</g>
<g clip-path="url(#pecd2aa6397)">
<circle cx="759.03" cy="115.88" r="2.74" style="fill: #cccccc; fill-opacity: 0.38"/>
</g>
<g clip-path="url(#pecd2aa6397)">
<circle cx="780.66" cy="86.96" r="2.74" style="fill: #cccccc; fill-opacity: 0.38"/>
</g>
<g clip-path="url(#pecd2aa6397)">
<circle cx="778.33" cy="104.31" r="2.74" style="fill: #cccccc; fill-opacity: 0.38"/>
</g>
<g clip-path="url(#pecd2aa6397)">
<circle cx="771.85" cy="107.98" r="2.74" style="fill: #cccccc; fill-opacity: 0.38"/>
</g>
<g clip-path="url(#pecd2aa6397)">
<circle cx="759.13" cy="106.41" r="2.74" style="fill: #cccccc; fill-opacity: 0.38"/>
</g>
<g clip-path="url(#pecd2aa6397)">
<circle cx="771.27" cy="136.9" r="2.74" style="fill: #cccccc; fill-opacity: 0.38"/>
</g>
<g clip-path="url(#pecd2aa6397)">
<circle cx="762.34" cy="97.78" r="2.74" style="fill: #cccccc; fill-opacity: 0.38"/>
</g>
<g clip-path="url(#pecd2aa6397)">
<circle cx="797.5" cy="102.26" r="2.74" style="fill: #cccccc; fill-opacity: 0.38"/>
</g>
<g clip-path="url(#pecd2aa6397)">
<circle cx="768.39" cy="116.11" r="2.74" style="fill: #cccccc; fill-opacity: 0.38"/>
</g>
<g clip-path="url(#pecd2aa6397)">
<circle cx="769.32" cy="100.99" r="2.74" style="fill: #cccccc; fill-opacity: 0.38"/>
</g>
<g clip-path="url(#pecd2aa6397)">
<circle cx="754.63" cy="94.49" r="2.74" style="fill: #cccccc; fill-opacity: 0.38"/>
</g>
<g clip-path="url(#pecd2aa6397)">
<circle cx="754.31" cy="119.28" r="2.74" style="fill: #cccccc; fill-opacity: 0.38"/>
</g>
<g clip-path="url(#pecd2aa6397)">
<circle cx="801.78" cy="111.64" r="2.74" style="fill: #cccccc; fill-opacity: 0.38"/>
</g>
<g clip-path="url(#pecd2aa6397)">
<circle cx="758.39" cy="89.1" r="2.74" style="fill: #cccccc; fill-opacity: 0.38"/>
</g>
<g clip-path="url(#pecd2aa6397)">
<circle cx="795.98" cy="117.01" r="2.74" style="fill: #cccccc; fill-opacity: 0.38"/>
</g>
<g clip-path="url(#pecd2aa6397)">
<circle cx="777.43" cy="112.54" r="2.74" style="fill: #cccccc; fill-opacity: 0.38"/>
</g>
<g clip-path="url(#pecd2aa6397)">
<circle cx="803.59" cy="114.01" r="2.74" style="fill: #cccccc; fill-opacity: 0.38"/>
</g>
<g clip-path="url(#pecd2aa6397)">
<circle cx="748.22" cy="116.68" r="2.74" style="fill: #cccccc; fill-opacity: 0.38"/>
</g>
<g clip-path="url(#pecd2aa6397)">
<circle cx="800.95" cy="120.54" r="2.74" style="fill: #cccccc; fill-opacity: 0.38"/>
</g>
<g clip-path="url(#pecd2aa6397)">
<circle cx="789.48" cy="105.26" r="2.74" style="fill: #cccccc; fill-opacity: 0.38"/>
</g>
<g clip-path="url(#pecd2aa6397)">
<circle cx="775.61" cy="124.73" r="2.74" style="fill: #cccccc; fill-opacity: 0.38"/>
</g>
<g clip-path="url(#pecd2aa6397)">
<circle cx="785.17" cy="104.15" r="2.74" style="fill: #cccccc; fill-opacity: 0.38"/>
</g>
<g clip-path="url(#pecd2aa6397)">
<circle cx="786.09" cy="120.01" r="2.74" style="fill: #cccccc; fill-opacity: 0.38"/>
</g>
<g clip-path="url(#pecd2aa6397)">
<circle cx="767.5" cy="130.58" r="2.74" style="fill: #cccccc; fill-opacity: 0.38"/>
</g>
<g clip-path="url(#pecd2aa6397)">
<circle cx="780.12" cy="114.12" r="2.74" style="fill: #cccccc; fill-opacity: 0.38"/>
</g>
<g clip-path="url(#pecd2aa6397)">
<circle cx="752.6" cy="112.24" r="2.74" style="fill: #cccccc; fill-opacity: 0.38"/>
</g>
<g clip-path="url(#pecd2aa6397)">
<circle cx="929.05" cy="208.94" r="2.74" style="fill: #cccccc; fill-opacity: 0.38"/>
</g>
<g clip-path="url(#pecd2aa6397)">
<circle cx="833.44" cy="129.83" r="2.74" style="fill: #cccccc; fill-opacity: 0.38"/>
</g>
<g clip-path="url(#pecd2aa6397)">
<circle cx="873.3" cy="121.59" r="2.74" style="fill: #cccccc; fill-opacity: 0.38"/>
</g>
<g clip-path="url(#pecd2aa6397)">
<circle cx="798.18" cy="128.21" r="2.74" style="fill: #cccccc; fill-opacity: 0.38"/>
</g>
<g clip-path="url(#pecd2aa6397)">
<circle cx="840.37" cy="127.02" r="2.74" style="fill: #cccccc; fill-opacity: 0.38"/>
</g>
<g clip-path="url(#pecd2aa6397)">
<circle cx="961.04" cy="186.32" r="2.74" style="fill: #cccccc; fill-opacity: 0.38"/>
</g>
<g clip-path="url(#pecd2aa6397)">
<circle cx="947.83" cy="186.53" r="2.74" style="fill: #cccccc; fill-opacity: 0.38"/>
</g>
<g clip-path="url(#pecd2aa6397)">
<circle cx="891.59" cy="151.01" r="2.74" style="fill: #cccccc; fill-opacity: 0.38"/>
</g>
<g clip-path="url(#pecd2aa6397)">
<circle cx="927.18" cy="152.31" r="2.74" style="fill: #cccccc; fill-opacity: 0.38"/>
</g>
<g clip-path="url(#pecd2aa6397)">
<circle cx="947.32" cy="198.23" r="2.74" style="fill: #cccccc; fill-opacity: 0.38"/>
</g>
<g clip-path="url(#pecd2aa6397)">
<circle cx="848.02" cy="133.67" r="2.74" style="fill: #cccccc; fill-opacity: 0.38"/>
</g>
<g clip-path="url(#pecd2aa6397)">
<circle cx="960.95" cy="183.22" r="2.74" style="fill: #cccccc; fill-opacity: 0.38"/>
</g>
<g clip-path="url(#pecd2aa6397)">
<circle cx="868.34" cy="168.05" r="2.74" style="fill: #cccccc; fill-opacity: 0.38"/>
</g>
<g clip-path="url(#pecd2aa6397)">
<circle cx="817.91" cy="107.49" r="2.74" style="fill: #cccccc; fill-opacity: 0.38"/>
</g>
<g clip-path="url(#pecd2aa6397)">
<circle cx="882.53" cy="129.84" r="2.74" style="fill: #cccccc; fill-opacity: 0.38"/>
</g>
<g clip-path="url(#pecd2aa6397)">
<circle cx="893.6" cy="172.33" r="2.74" style="fill: #cccccc; fill-opacity: 0.38"/>
</g>
<g clip-path="url(#pecd2aa6397)">
<circle cx="910.87" cy="144.32" r="2.74" style="fill: #cccccc; fill-opacity: 0.38"/>
</g>
<g clip-path="url(#pecd2aa6397)">
<circle cx="907.06" cy="164.71" r="2.74" style="fill: #cccccc; fill-opacity: 0.38"/>
</g>
<g clip-path="url(#pecd2aa6397)">
<circle cx="797.46" cy="122.26" r="2.74" style="fill: #cccccc; fill-opacity: 0.38"/>
</g>
<g clip-path="url(#pecd2aa6397)">
<circle cx="901.51" cy="143.51" r="2.74" style="fill: #cccccc; fill-opacity: 0.38"/>
</g>
<g clip-path="url(#pecd2aa6397)">
<circle cx="950.7" cy="180.52" r="2.74" style="fill: #cccccc; fill-opacity: 0.38"/>
</g>
<g clip-path="url(#pecd2aa6397)">
<circle cx="906.91" cy="161.16" r="2.74" style="fill: #cccccc; fill-opacity: 0.38"/>
</g>
<g clip-path="url(#pecd2aa6397)">
<circle cx="960.03" cy="167.52" r="2.74" style="fill: #cccccc; fill-opacity: 0.38"/>
</g>
<g clip-path="url(#pecd2aa6397)">
<circle cx="879.3" cy="137.14" r="2.74" style="fill: #cccccc; fill-opacity: 0.38"/>
</g>
<g clip-path="url(#pecd2aa6397)">
<circle cx="931.31" cy="163.8" r="2.74" style="fill: #cccccc; fill-opacity: 0.38"/>
</g>
<g clip-path="url(#pecd2aa6397)">
<circle cx="814.67" cy="145.54" r="2.74" style="fill: #cccccc; fill-opacity: 0.38"/>
</g>
<g clip-path="url(#pecd2aa6397)">
<circle cx="946.16" cy="202.16" r="2.74" style="fill: #cccccc; fill-opacity: 0.38"/>
</g>
<g clip-path="url(#pecd2aa6397)">
<circle cx="866.23" cy="133.85" r="2.74" style="fill: #cccccc; fill-opacity: 0.38"/>
</g>
<g clip-path="url(#pecd2aa6397)">
<circle cx="942.88" cy="192.37" r="2.74" style="fill: #cccccc; fill-opacity: 0.38"/>
</g>
<g clip-path="url(#pecd2aa6397)">
<circle cx="846.1" cy="138.3" r="2.74" style="fill: #cccccc; fill-opacity: 0.38"/>
</g>
<g clip-path="url(#pecd2aa6397)">
<circle cx="898.94" cy="176.12" r="2.74" style="fill: #cccccc; fill-opacity: 0.38"/>
</g>
<g clip-path="url(#pecd2aa6397)">
<circle cx="937.64" cy="180.49" r="2.74" style="fill: #cccccc; fill-opacity: 0.38"/>
</g>
<g clip-path="url(#pecd2aa6397)">
<circle cx="914.1" cy="185.06" r="2.74" style="fill: #cccccc; fill-opacity: 0.38"/>
</g>
<g clip-path="url(#pecd2aa6397)">
<circle cx="898.18" cy="140.47" r="2.74" style="fill: #cccccc; fill-opacity: 0.38"/>
</g>
<g clip-path="url(#pecd2aa6397)">
<circle cx="959.24" cy="200.34" r="2.74" style="fill: #cccccc; fill-opacity: 0.38"/>
</g>
<g clip-path="url(#pecd2aa6397)">
<circle cx="805.57" cy="125.07" r="2.74" style="fill: #cccccc; fill-opacity: 0.38"/>
</g>
<g clip-path="url(#pecd2aa6397)">
<circle cx="808" cy="126.95" r="2.74" style="fill: #cccccc; fill-opacity: 0.38"/>
</g>
<g clip-path="url(#pecd2aa6397)">
<circle cx="886.28" cy="141.1" r="2.74" style="fill: #cccccc; fill-opacity: 0.38"/>
</g>
<g clip-path="url(#pecd2aa6397)">
<circle cx="956.46" cy="204.43" r="2.74" style="fill: #cccccc; fill-opacity: 0.38"/>
</g>
<g clip-path="url(#pecd2aa6397)">
<circle cx="909.76" cy="167" r="2.74" style="fill: #cccccc; fill-opacity: 0.38"/>
</g>
<g clip-path="url(#pecd2aa6397)">
<circle cx="844.16" cy="142.17" r="2.74" style="fill: #cccccc; fill-opacity: 0.38"/>
</g>
<g clip-path="url(#pecd2aa6397)">
<circle cx="809" cy="117.97" r="2.74" style="fill: #cccccc; fill-opacity: 0.38"/>
</g>
<g clip-path="url(#pecd2aa6397)">
<circle cx="868.29" cy="143.25" r="2.74" style="fill: #cccccc; fill-opacity: 0.38"/>
</g>
<g clip-path="url(#pecd2aa6397)">
<circle cx="873.87" cy="157.78" r="2.74" style="fill: #cccccc; fill-opacity: 0.38"/>
</g>
<g clip-path="url(#pecd2aa6397)">
<circle cx="871.77" cy="147.73" r="2.74" style="fill: #cccccc; fill-opacity: 0.38"/>
</g>
<g clip-path="url(#pecd2aa6397)">
<circle cx="898.07" cy="166.63" r="2.74" style="fill: #cccccc; fill-opacity: 0.38"/>
</g>
<g clip-path="url(#pecd2aa6397)">
<circle cx="837.74" cy="130.67" r="2.74" style="fill: #cccccc; fill-opacity: 0.38"/>
</g>
<g clip-path="url(#pecd2aa6397)">
<circle cx="943.52" cy="181.87" r="2.74" style="fill: #cccccc; fill-opacity: 0.38"/>
</g>
<g clip-path="url(#pecd2aa6397)">
<circle cx="840.44" cy="146.47" r="2.74" style="fill: #cccccc; fill-opacity: 0.38"/>
</g>
<g clip-path="url(#pecd2aa6397)">
<circle cx="808.89" cy="125.21" r="2.74" style="fill: #cccccc; fill-opacity: 0.38"/>
</g>
<g clip-path="url(#pecd2aa6397)">
<circle cx="851" cy="137.51" r="2.74" style="fill: #cccccc; fill-opacity: 0.38"/>
</g>
<g clip-path="url(#pecd2aa6397)">
<circle cx="953.16" cy="154.9" r="2.74" style="fill: #cccccc; fill-opacity: 0.38"/>
</g>
<g clip-path="url(#pecd2aa6397)">
<circle cx="818" cy="135.04" r="2.74" style="fill: #cccccc; fill-opacity: 0.38"/>
</g>
<g clip-path="url(#pecd2aa6397)">
<circle cx="838.59" cy="133.13" r="2.74" style="fill: #cccccc; fill-opacity: 0.38"/>
</g>
<g clip-path="url(#pecd2aa6397)">
<circle cx="951.57" cy="164.73" r="2.74" style="fill: #cccccc; fill-opacity: 0.38"/>
</g>
<g clip-path="url(#pecd2aa6397)">
<circle cx="850.85" cy="169.36" r="2.74" style="fill: #cccccc; fill-opacity: 0.38"/>
</g>
<g clip-path="url(#pecd2aa6397)">
<circle cx="937.03" cy="200.61" r="2.74" style="fill: #cccccc; fill-opacity: 0.38"/>
</g>
<g clip-path="url(#pecd2aa6397)">
<circle cx="798.16" cy="135.95" r="2.74" style="fill: #cccccc; fill-opacity: 0.38"/>
</g>
<g clip-path="url(#pecd2aa6397)">
<circle cx="944.93" cy="182.6" r="2.74" style="fill: #cccccc; fill-opacity: 0.38"/>
</g>
<g clip-path="url(#pecd2aa6397)">
<circle cx="831.56" cy="102.35" r="2.74" style="fill: #cccccc; fill-opacity: 0.38"/>
</g>
<g clip-path="url(#pecd2aa6397)">
<circle cx="821.68" cy="125.03" r="2.74" style="fill: #cccccc; fill-opacity: 0.38"/>
</g>
<g clip-path="url(#pecd2aa6397)">
<circle cx="919.47" cy="154.8" r="2.74" style="fill: #cccccc; fill-opacity: 0.38"/>
</g>
<g clip-path="url(#pecd2aa6397)">
<circle cx="962.51" cy="191.28" r="2.74" style="fill: #cccccc; fill-opacity: 0.38"/>
</g>
<g clip-path="url(#pecd2aa6397)">
<circle cx="957.26" cy="218.4" r="2.74" style="fill: #cccccc; fill-opacity: 0.38"/>
</g>
<g clip-path="url(#pecd2aa6397)">
<circle cx="921.23" cy="201.53" r="2.74" style="fill: #cccccc; fill-opacity: 0.38"/>
</g>
<g clip-path="url(#pecd2aa6397)">
<circle cx="949.42" cy="169.66" r="2.74" style="fill: #cccccc; fill-opacity: 0.38"/>
</g>
<g clip-path="url(#pecd2aa6397)">
<circle cx="962.1" cy="185.79" r="2.74" style="fill: #cccccc; fill-opacity: 0.38"/>
</g>
<g clip-path="url(#pecd2aa6397)">
<circle cx="886.49" cy="173.91" r="2.74" style="fill: #cccccc; fill-opacity: 0.38"/>
</g>
<g clip-path="url(#pecd2aa6397)">
<circle cx="815.42" cy="112.96" r="2.74" style="fill: #cccccc; fill-opacity: 0.38"/>
</g>
<g clip-path="url(#pecd2aa6397)">
<circle cx="938.13" cy="198.4" r="2.74" style="fill: #cccccc; fill-opacity: 0.38"/>
</g>
<g clip-path="url(#pecd2aa6397)">
<circle cx="859.17" cy="130.82" r="2.74" style="fill: #cccccc; fill-opacity: 0.38"/>
</g>
<g clip-path="url(#pecd2aa6397)">
<circle cx="844.68" cy="120.69" r="2.74" style="fill: #cccccc; fill-opacity: 0.38"/>
</g>
<g clip-path="url(#pecd2aa6397)">
<circle cx="877.46" cy="163.2" r="2.74" style="fill: #cccccc; fill-opacity: 0.38"/>
</g>
<g clip-path="url(#pecd2aa6397)">
<circle cx="796.32" cy="134.13" r="2.74" style="fill: #cccccc; fill-opacity: 0.38"/>
</g>
<g clip-path="url(#pecd2aa6397)">
<circle cx="793.5" cy="107.46" r="2.74" style="fill: #cccccc; fill-opacity: 0.38"/>
</g>
<g clip-path="url(#pecd2aa6397)">
<circle cx="836.26" cy="150.48" r="2.74" style="fill: #cccccc; fill-opacity: 0.38"/>
</g>
<g clip-path="url(#pecd2aa6397)">
<circle cx="893.99" cy="148.78" r="2.74" style="fill: #cccccc; fill-opacity: 0.38"/>
</g>
<g clip-path="url(#pecd2aa6397)">
<circle cx="920.72" cy="186.71" r="2.74" style="fill: #cccccc; fill-opacity: 0.38"/>
</g>
<g clip-path="url(#pecd2aa6397)">
<circle cx="956.9" cy="175.5" r="2.74" style="fill: #cccccc; fill-opacity: 0.38"/>
</g>
<g clip-path="url(#pecd2aa6397)">
<circle cx="932.69" cy="174.82" r="2.74" style="fill: #cccccc; fill-opacity: 0.38"/>
</g>
<g clip-path="url(#pecd2aa6397)">
<circle cx="954.1" cy="190.55" r="2.74" style="fill: #cccccc; fill-opacity: 0.38"/>
</g>
<g clip-path="url(#pecd2aa6397)">
<circle cx="901.03" cy="174.66" r="2.74" style="fill: #cccccc; fill-opacity: 0.38"/>
</g>
<g clip-path="url(#pecd2aa6397)">
<circle cx="918.02" cy="166.88" r="2.74" style="fill: #cccccc; fill-opacity: 0.38"/>
</g>
<g clip-path="url(#pecd2aa6397)">
<circle cx="892.51" cy="184.16" r="2.74" style="fill: #cccccc; fill-opacity: 0.38"/>
</g>
<g clip-path="url(#pecd2aa6397)">
<circle cx="804.42" cy="126.61" r="2.74" style="fill: #cccccc; fill-opacity: 0.38"/>
</g>
<g clip-path="url(#pecd2aa6397)">
<circle cx="801.02" cy="126.78" r="2.74" style="fill: #cccccc; fill-opacity: 0.38"/>
</g>
<g clip-path="url(#pecd2aa6397)">
<circle cx="922.59" cy="163.01" r="2.74" style="fill: #cccccc; fill-opacity: 0.38"/>
</g>
<g clip-path="url(#pecd2aa6397)">
<circle cx="825.48" cy="148.09" r="2.74" style="fill: #cccccc; fill-opacity: 0.38"/>
</g>
<g clip-path="url(#pecd2aa6397)">
<circle cx="927.76" cy="151.62" r="2.74" style="fill: #cccccc; fill-opacity: 0.38"/>
</g>
<g clip-path="url(#pecd2aa6397)">
<circle cx="871.04" cy="154.62" r="2.74" style="fill: #cccccc; fill-opacity: 0.38"/>
</g>
<g clip-path="url(#pecd2aa6397)">
<circle cx="791.46" cy="132.52" r="2.74" style="fill: #cccccc; fill-opacity: 0.38"/>
</g>
<g clip-path="url(#pecd2aa6397)">
<circle cx="888.01" cy="139.46" r="2.74" style="fill: #cccccc; fill-opacity: 0.38"/>
</g>
<g clip-path="url(#pecd2aa6397)">
<circle cx="867.38" cy="127.31" r="2.74" style="fill: #cccccc; fill-opacity: 0.38"/>
</g>
<g clip-path="url(#pecd2aa6397)">
<circle cx="803.11" cy="124.92" r="2.74" style="fill: #cccccc; fill-opacity: 0.38"/>
</g>
<g clip-path="url(#pecd2aa6397)">
<circle cx="835.7" cy="147.58" r="2.74" style="fill: #cccccc; fill-opacity: 0.38"/>
</g>
<g clip-path="url(#pecd2aa6397)">
<circle cx="843.63" cy="139.01" r="2.74" style="fill: #cccccc; fill-opacity: 0.38"/>
</g>
<g clip-path="url(#pecd2aa6397)">
<circle cx="850.43" cy="151.05" r="2.74" style="fill: #cccccc; fill-opacity: 0.38"/>
</g>
<g clip-path="url(#pecd2aa6397)">
<circle cx="913.31" cy="172.11" r="2.74" style="fill: #cccccc; fill-opacity: 0.38"/>
</g>
<g clip-path="url(#pecd2aa6397)">
<circle cx="819.37" cy="108.82" r="2.74" style="fill: #cccccc; fill-opacity: 0.38"/>
</g>
<g clip-path="url(#pecd2aa6397)">
<circle cx="867.42" cy="143.94" r="2.74" style="fill: #cccccc; fill-opacity: 0.38"/>
</g>
<g clip-path="url(#pecd2aa6397)">
<circle cx="895.9" cy="158.93" r="2.74" style="fill: #cccccc; fill-opacity: 0.38"/>
</g>
<g clip-path="url(#pecd2aa6397)">
<circle cx="955.01" cy="180.75" r="2.74" style="fill: #cccccc; fill-opacity: 0.38"/>
</g>
<g clip-path="url(#pecd2aa6397)">
<circle cx="810.27" cy="126.18" r="2.74" style="fill: #cccccc; fill-opacity: 0.38"/>
</g>
<g clip-path="url(#pecd2aa6397)">
<circle cx="804.06" cy="111.86" r="2.74" style="fill: #cccccc; fill-opacity: 0.38"/>
</g>
<g clip-path="url(#pecd2aa6397)">
<circle cx="823.62" cy="119.46" r="2.74" style="fill: #cccccc; fill-opacity: 0.38"/>
</g>
<g clip-path="url(#pecd2aa6397)">
<circle cx="828.65" cy="137.85" r="2.74" style="fill: #cccccc; fill-opacity: 0.38"/>
</g>
<g clip-path="url(#pecd2aa6397)">
<circle cx="818.58" cy="127.49" r="2.74" style="fill: #cccccc; fill-opacity: 0.38"/>
</g>
<g clip-path="url(#pecd2aa6397)">
<circle cx="803.48" cy="91.08" r="2.74" style="fill: #cccccc; fill-opacity: 0.38"/>
</g>
<g clip-path="url(#pecd2aa6397)">
<circle cx="826.73" cy="126.72" r="2.74" style="fill: #cccccc; fill-opacity: 0.38"/>
</g>
<g clip-path="url(#pecd2aa6397)">
<circle cx="829.13" cy="135.65" r="2.74" style="fill: #cccccc; fill-opacity: 0.38"/>
</g>
</g>
<g id="patch_13">
<path d="M 735.26 289.61 
L 735.26 28.29 
" style="fill: none; stroke: #8c8c8c; stroke-linejoin: miter; stroke-linecap: square"/>
</g>
<g id="patch_14">
<path d="M 1028.49 289.61 
L 1028.49 28.29 
" style="fill: none; stroke: #8c8c8c; stroke-linejoin: miter; stroke-linecap: square"/>
</g>
<g id="patch_15">
<path d="M 735.26 289.61 
L 1028.49 289.61 
" style="fill: none; stroke: #333333; stroke-width: 0.9; stroke-linejoin: miter; stroke-linecap: square"/>
</g>
<g id="patch_16">
<path d="M 735.26 28.29 
L 1028.49 28.29 
" style="fill: none; stroke: #8c8c8c; stroke-linejoin: miter; stroke-linecap: square"/>
</g>
<g id="line2d_235">
<path d="M 735.26 80.55 
L 1028.49 248.58 
" clip-path="url(#pecd2aa6397)" style="fill: none; stroke: #b4b4b4; stroke-opacity: 0.5; stroke-width: 1.5; stroke-linecap: square"/>
</g>
<g id="line2d_236">
<path d="M 759.27 82.65 
L 1010.16 232.12 
" clip-path="url(#pecd2aa6397)" style="fill: none; stroke: #b4b4b4; stroke-opacity: 0.5; stroke-width: 1.5; stroke-linecap: square"/>
</g>
<g id="line2d_237">
<path d="M 735.26 97.54 
L 1028.49 226.89 
" clip-path="url(#pecd2aa6397)" style="fill: none; stroke: #b4b4b4; stroke-opacity: 0.5; stroke-width: 1.5; stroke-linecap: square"/>
</g>
<g id="line2d_238">
<path d="M 735.26 101.46 
L 1001.00 221.67 
" clip-path="url(#pecd2aa6397)" style="fill: none; stroke: #b4b4b4; stroke-opacity: 0.5; stroke-width: 1.5; stroke-linecap: square"/>
</g>
<g id="line2d_239">
<path d="M 735.26 105.12 
L 1028.49 206.25 
" clip-path="url(#pecd2aa6397)" style="fill: none; stroke: #b4b4b4; stroke-opacity: 0.5; stroke-width: 1.5; stroke-linecap: square"/>
</g>
<g id="line2d_240">
<path d="M 735.26 109.82 
L 1028.49 202.59 
" clip-path="url(#pecd2aa6397)" style="fill: none; stroke: #b4b4b4; stroke-opacity: 0.5; stroke-width: 1.5; stroke-linecap: square"/>
</g>
<g id="line2d_241">
<path d="M 735.26 112.96 
L 1028.49 198.15 
" clip-path="url(#pecd2aa6397)" style="fill: none; stroke: #b4b4b4; stroke-opacity: 0.5; stroke-width: 1.5; stroke-linecap: square"/>
</g>
<g id="line2d_242">
<path d="M 756.70 103.03 
L 1028.49 213.83 
" clip-path="url(#pecd2aa6397)" style="fill: none; stroke: #b4b4b4; stroke-opacity: 0.5; stroke-width: 1.5; stroke-linecap: square"/>
</g>
<g id="line2d_243">
<path d="M 762.75 98.85 
L 1019.32 216.44 
" clip-path="url(#pecd2aa6397)" style="fill: none; stroke: #b4b4b4; stroke-opacity: 0.5; stroke-width: 1.5; stroke-linecap: square"/>
</g>
<g id="line2d_244">
<path d="M 744.42 109.30 
L 1028.49 194.75 
" clip-path="url(#pecd2aa6397)" style="fill: none; stroke: #b4b4b4; stroke-opacity: 0.5; stroke-width: 1.5; stroke-linecap: square"/>
</g>
<g id="line2d_245">
<path d="M 735.26 91.01 
L 1028.49 211.21 
" clip-path="url(#pecd2aa6397)" style="fill: none; stroke: #b4b4b4; stroke-opacity: 0.5; stroke-width: 1.5; stroke-linecap: square"/>
</g>
<g id="line2d_246">
<path d="M 753.59 93.62 
L 991.83 200.76 
" clip-path="url(#pecd2aa6397)" style="fill: none; stroke: #b4b4b4; stroke-opacity: 0.5; stroke-width: 1.5; stroke-linecap: square"/>
</g>
<g id="text_51">
<g transform="translate(743.15 25.09)">
<text><tspan x="0 8.38 18.73 22.27 29.51 37.14 40.96 49.98 53.31 59.57 64.27 71.61 76.55 79.88 86.48 93.83 97.17 100.98" y="-0.88" style="font-size: 12px; font-family: 'DejaVu Sans', sans-serif">CMIP6 Historical O</tspan><tspan x="110.54" y="1.09" style="font-size: 8.4px; font-family: 'DejaVu Sans', sans-serif">2</tspan><tspan x="116.21 120.54 129.57 136.95 144.3 149.01 152.82 161.16 168.54 171.88 179.23 183.94 187.27 194.61 202.22 208.47 216.07 219.41 227.03 230.84 238.47 242.8 250.44 258.07 265.71" y="-0.88" style="font-size: 12px; font-family: 'DejaVu Sans', sans-serif">-Heat Relationship 0-700m</tspan></text>
</g>
</g>
<g id="line2d_247">
<path d="M 775.40 114.79 
L 1028.12 219.31 
" clip-path="url(#pecd2aa6397)" style="fill: none; stroke: #ff00ff; stroke-width: 2.6"/>
</g>
<g id="PathCollection_6">
<g clip-path="url(#pecd2aa6397)">
<circle cx="775.77" cy="107.48" r="2.65" style="fill: #ff00ff"/>
</g>
<g clip-path="url(#pecd2aa6397)">
<circle cx="778.15" cy="106.43" r="2.65" style="fill: #ff00ff"/>
</g>
<g clip-path="url(#pecd2aa6397)">
<circle cx="780.35" cy="108.26" r="2.65" style="fill: #ff00ff"/>
</g>
<g clip-path="url(#pecd2aa6397)">
<circle cx="782.73" cy="106.95" r="2.65" style="fill: #ff00ff"/>
</g>
<g clip-path="url(#pecd2aa6397)">
<circle cx="784.38" cy="108.78" r="2.65" style="fill: #ff00ff"/>
</g>
<g clip-path="url(#pecd2aa6397)">
<circle cx="785.11" cy="112.7" r="2.65" style="fill: #ff00ff"/>
</g>
<g clip-path="url(#pecd2aa6397)">
<circle cx="788.23" cy="117.67" r="2.65" style="fill: #ff00ff"/>
</g>
<g clip-path="url(#pecd2aa6397)">
<circle cx="789.7" cy="118.71" r="2.65" style="fill: #ff00ff"/>
</g>
<g clip-path="url(#pecd2aa6397)">
<circle cx="793.73" cy="121.85" r="2.65" style="fill: #ff00ff"/>
</g>
<g clip-path="url(#pecd2aa6397)">
<circle cx="803.81" cy="123.94" r="2.65" style="fill: #ff00ff"/>
</g>
<g clip-path="url(#pecd2aa6397)">
<circle cx="806.92" cy="126.55" r="2.65" style="fill: #ff00ff"/>
</g>
<g clip-path="url(#pecd2aa6397)">
<circle cx="811.5" cy="129.16" r="2.65" style="fill: #ff00ff"/>
</g>
<g clip-path="url(#pecd2aa6397)">
<circle cx="814.62" cy="134.91" r="2.65" style="fill: #ff00ff"/>
</g>
<g clip-path="url(#pecd2aa6397)">
<circle cx="816.27" cy="133.61" r="2.65" style="fill: #ff00ff"/>
</g>
<g clip-path="url(#pecd2aa6397)">
<circle cx="820.85" cy="139.09" r="2.65" style="fill: #ff00ff"/>
</g>
<g clip-path="url(#pecd2aa6397)">
<circle cx="823.97" cy="141.45" r="2.65" style="fill: #ff00ff"/>
</g>
<g clip-path="url(#pecd2aa6397)">
<circle cx="823.23" cy="150.59" r="2.65" style="fill: #ff00ff"/>
</g>
<g clip-path="url(#pecd2aa6397)">
<circle cx="829.46" cy="144.84" r="2.65" style="fill: #ff00ff"/>
</g>
<g clip-path="url(#pecd2aa6397)">
<circle cx="838.08" cy="144.32" r="2.65" style="fill: #ff00ff"/>
</g>
<g clip-path="url(#pecd2aa6397)">
<circle cx="838.44" cy="155.82" r="2.65" style="fill: #ff00ff"/>
</g>
<g clip-path="url(#pecd2aa6397)">
<circle cx="848.16" cy="149.55" r="2.65" style="fill: #ff00ff"/>
</g>
<g clip-path="url(#pecd2aa6397)">
<circle cx="856.04" cy="149.55" r="2.65" style="fill: #ff00ff"/>
</g>
<g clip-path="url(#pecd2aa6397)">
<circle cx="866.12" cy="158.43" r="2.65" style="fill: #ff00ff"/>
</g>
<g clip-path="url(#pecd2aa6397)">
<circle cx="870.52" cy="160.26" r="2.65" style="fill: #ff00ff"/>
</g>
<g clip-path="url(#pecd2aa6397)">
<circle cx="869.23" cy="156.86" r="2.65" style="fill: #ff00ff"/>
</g>
<g clip-path="url(#pecd2aa6397)">
<circle cx="870.15" cy="153.99" r="2.65" style="fill: #ff00ff"/>
</g>
<g clip-path="url(#pecd2aa6397)">
<circle cx="887.38" cy="164.18" r="2.65" style="fill: #ff00ff"/>
</g>
<g clip-path="url(#pecd2aa6397)">
<circle cx="902.59" cy="170.98" r="2.65" style="fill: #ff00ff"/>
</g>
<g clip-path="url(#pecd2aa6397)">
<circle cx="917.98" cy="173.85" r="2.65" style="fill: #ff00ff"/>
</g>
<g clip-path="url(#pecd2aa6397)">
<circle cx="937.23" cy="179.6" r="2.65" style="fill: #ff00ff"/>
</g>
<g clip-path="url(#pecd2aa6397)">
<circle cx="948.77" cy="186.92" r="2.65" style="fill: #ff00ff"/>
</g>
<g clip-path="url(#pecd2aa6397)">
<circle cx="958.12" cy="193.19" r="2.65" style="fill: #ff00ff"/>
</g>
<g clip-path="url(#pecd2aa6397)">
<circle cx="971.68" cy="195.54" r="2.65" style="fill: #ff00ff"/>
</g>
<g clip-path="url(#pecd2aa6397)">
<circle cx="984.69" cy="201.81" r="2.65" style="fill: #ff00ff"/>
</g>
<g clip-path="url(#pecd2aa6397)">
<circle cx="993.67" cy="208.87" r="2.65" style="fill: #ff00ff"/>
</g>
<g clip-path="url(#pecd2aa6397)">
<circle cx="1007.42" cy="210.43" r="2.65" style="fill: #ff00ff"/>
</g>
<g clip-path="url(#pecd2aa6397)">
<circle cx="1024.83" cy="215.4" r="2.65" style="fill: #ff00ff"/>
</g>
</g>
<g id="line2d_248">
<path d="M 726.10 115.05 
L 1034.89 220.98 
" clip-path="url(#pecd2aa6397)" style="fill: none; stroke: #000000; stroke-opacity: 0.33; stroke-width: 2.6"/>
</g>
<g id="line2d_249">
<path d="M 726.10 119.65 
L 1034.89 228.84 
" clip-path="url(#pecd2aa6397)" style="fill: none; stroke: #00ffff; stroke-opacity: 0.4; stroke-width: 2.6"/>
</g>
<g id="line2d_250">
<path d="M 726.10 119.65 
L 1034.89 228.84 
" clip-path="url(#pecd2aa6397)" style="fill: none; stroke-dasharray: 4.62,1.75; stroke-dashoffset: 0; stroke: #00f4ff; stroke-opacity: 0.72; stroke-width: 2.5"/>
</g>
<g id="line2d_251">
<path d="M 726.10 124.08 
L 1034.89 224.02 
" clip-path="url(#pecd2aa6397)" style="fill: none; stroke: #000000; stroke-opacity: 0.8; stroke-width: 2.4; stroke-linecap: square"/>
</g>
<g id="line2d_252">
<path d="M 927.69 174.15 
L 1028.49 211.37 
" clip-path="url(#pecd2aa6397)" style="fill: none; stroke-dasharray: 2.4,3.72; stroke-dashoffset: 0; stroke: #000000; stroke-opacity: 0.58; stroke-width: 2.4"/>
</g>
<g id="line2d_253">
<path d="M 781.81 120.27 
L 927.69 174.15 
" clip-path="url(#pecd2aa6397)" style="fill: none; stroke-dasharray: 5.06,1.03; stroke-dashoffset: 0; stroke: #000000; stroke-opacity: 0.58; stroke-width: 2.3"/>
</g>
</g>
<g id="line2d_254">
<path d="M 65.34 266.40 
L 85.14 266.40 
" style="fill: none; stroke: #d8d8d8; stroke-width: 1.7"/>
</g>
<g id="line2d_255">
<g>
<circle cx="60.51" cy="266.41" r="2.5" style="fill: #d8d8d8; stroke: #000000; stroke-opacity: 0"/>
</g>
</g>
<g id="line2d_256">
<path d="M 65.34 279.85 
L 85.14 279.85 
" style="fill: none; stroke: #0000ff; stroke-width: 2.7"/>
</g>
<g id="line2d_257">
<g>
<circle cx="60.51" cy="279.85" r="2.5" style="fill: #0000ff; stroke: #000000; stroke-opacity: 0"/>
</g>
</g>
<g id="line2d_258">
<path d="M 410.08 266.40 
L 429.75 266.40 
" style="fill: none; stroke: #d8d8d8; stroke-width: 1.7"/>
</g>
<g id="line2d_259">
<g>
<circle cx="405.61" cy="266.41" r="2.5" style="fill: #d8d8d8; stroke: #000000; stroke-opacity: 0"/>
</g>
</g>
<g id="line2d_260">
<path d="M 410.08 279.85 
L 429.75 279.85 
" style="fill: none; stroke: #ff0000; stroke-width: 2.7"/>
</g>
<g id="line2d_261">
<g>
<circle cx="405.61" cy="279.85" r="2.5" style="fill: #ff0000; stroke: #000000; stroke-opacity: 0"/>
</g>
</g>
<g id="line2d_262">
<path d="M 755.12 265.27 
L 774.79 265.27 
" style="fill: none; stroke: #d8d8d8; stroke-width: 1.7"/>
</g>
<g id="line2d_263">
<g>
<circle cx="750.78" cy="265.28" r="2.5" style="fill: #d8d8d8; stroke: #000000; stroke-opacity: 0"/>
</g>
</g>
<g id="line2d_264">
<path d="M 755.12 278.71 
L 774.79 278.71 
" style="fill: none; stroke: #ff00ff; stroke-width: 2.7"/>
</g>
<g id="line2d_265">
<g>
<circle cx="750.78" cy="278.72" r="2.5" style="fill: #ff00ff; stroke: #000000; stroke-opacity: 0"/>
</g>
</g>
<g id="line2d_266">
<path d="M 916.35 39.61 
L 936.52 39.61 
" style="fill: none; stroke: #00ffff; stroke-opacity: 0.4; stroke-width: 2.6"/>
</g>
<g id="line2d_267">
<path d="M 917.59 52.63 
L 936.52 52.63 
" style="fill: none; stroke-dasharray: 2.5,3.5; stroke-dashoffset: 0; stroke: #00f4ff; stroke-opacity: 0.72; stroke-width: 2.5"/>
</g>
<g id="line2d_268">
<path d="M 917.34 65.78 
L 935.52 65.78 
" style="fill: none; stroke: #000000; stroke-opacity: 0.8; stroke-width: 2.4"/>
</g>
<g id="line2d_269">
<path d="M 916.35 79.65 
L 936.52 79.65 
" style="fill: none; stroke: #000000; stroke-opacity: 0.33; stroke-width: 2.6"/>
</g>
<g id="line2d_270">
<path d="M 917.59 92.67 
L 936.52 92.67 
" style="fill: none; stroke-dasharray: 2.4,3.72; stroke-dashoffset: 0; stroke: #000000; stroke-opacity: 0.58; stroke-width: 2.4"/>
</g>
<g id="text_52">
<text style="font-size: 9px; font-family: 'DejaVu Sans', sans-serif; text-anchor: start" x="89.73" y="270.22" transform="rotate(-0 89.73 270.22)">OMIP1 Models</text>
</g>
<g id="text_53">
<text style="font-size: 9px; font-family: 'DejaVu Sans', sans-serif; text-anchor: start" x="89.73" y="283.67" transform="rotate(-0 89.73 283.67)">MM-Mean</text>
</g>
<g id="text_54">
<text style="font-size: 9px; font-family: 'DejaVu Sans', sans-serif; text-anchor: start" x="433.91" y="270.22" transform="rotate(-0 433.91 270.22)">OMIP2 Models</text>
</g>
<g id="text_55">
<text style="font-size: 9px; font-family: 'DejaVu Sans', sans-serif; text-anchor: start" x="433.91" y="283.67" transform="rotate(-0 433.91 283.67)">MM-Mean</text>
</g>
<g id="text_56">
<text style="font-size: 9.6px; font-family: 'DejaVu Sans', sans-serif; text-anchor: start" x="778.33" y="269.52" transform="rotate(-0 778.33 269.52)">CMIP6 Historical</text>
</g>
<g id="text_57">
<text style="font-size: 9px; font-family: 'DejaVu Sans', sans-serif; text-anchor: start" x="778.70" y="282.53" transform="rotate(-0 778.70 282.53)">MM-Mean</text>
</g>
<g id="text_58">
<text style="font-size: 9px; font-family: 'DejaVu Sans', sans-serif; text-anchor: start" x="941.17" y="42.86" transform="rotate(-0 941.17 42.86)">WOD2018-ORAS4</text>
</g>
<g id="text_59">
<text style="font-size: 9px; font-family: 'DejaVu Sans', sans-serif; text-anchor: start" x="941.17" y="55.88" transform="rotate(-0 941.17 55.88)">WOD2018-EN4.2.1</text>
</g>
<g id="text_60">
<text style="font-size: 9px; font-family: 'DejaVu Sans', sans-serif; text-anchor: start" x="940.30" y="69.04" transform="rotate(-0 940.30 69.04)">WOD2018-Cheng</text>
</g>
<g id="text_61">
<text style="font-size: 9px; font-family: 'DejaVu Sans', sans-serif; text-anchor: start" x="941.17" y="82.90" transform="rotate(-0 941.17 82.90)">WOD2018-Ishii</text>
</g>
<g id="text_62">
<text style="font-size: 9px; font-family: 'DejaVu Sans', sans-serif; text-anchor: start" x="941.17" y="95.92" transform="rotate(-0 941.17 95.92)">WOD2018-Levitus</text>
</g>
</g>
<defs>
<clipPath id="p1c36a8804c">
<rect x="46.54" y="27.23" width="293.03" height="261.67"/>
</clipPath>
<clipPath id="paea2ed191d">
<rect x="390.96" y="27.73" width="292.91" height="261.17"/>
</clipPath>
<clipPath id="pecd2aa6397">
<rect x="735.26" y="28.29" width="293.22" height="261.31"/>
</clipPath>
</defs>
</svg>
<div style="position:absolute;left:0;top:0;width:1666px;height:458px;pointer-events:none">
<span class="pl" style="left:-0.3px;top:-2px;transform:none">A</span><span class="pl" style="left:563.5px;top:-2px">B</span><span class="pl" style="left:1116.8px;top:-2px">C</span></div></div></body></html>
